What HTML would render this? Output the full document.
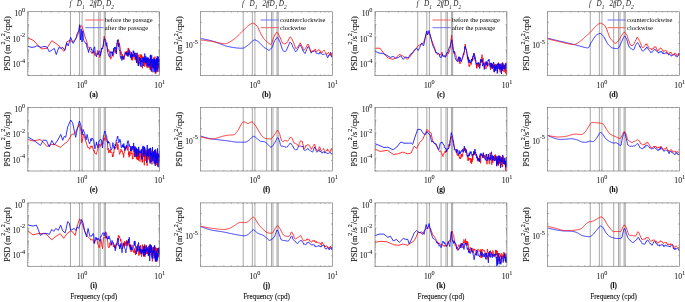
<!DOCTYPE html>
<html><head><meta charset="utf-8"><style>
html,body{margin:0;padding:0;background:#fff;}
svg{display:block;will-change:transform;}
text{font-family:"Liberation Serif",serif;fill:#111;stroke:#111;stroke-width:0.12px;}
.tk{font-size:7.6px;stroke-width:0.05px;}
.sup{font-size:6.2px;}
.sup2{font-size:6px;}
.pl{font-size:7.2px;font-weight:bold;}
.yl{font-size:8.2px;}
.xl{font-size:7.9px;}
.it{font-size:7.2px;font-style:italic;stroke:none;fill:#222;}
.sub{font-size:5.4px;}
.lg{font-size:7.0px;stroke:none;fill:#000;}
</style></head><body>
<svg width="685" height="302" viewBox="0 0 685 302">
<line x1="70.48" y1="11.70" x2="70.48" y2="75.40" stroke="#6e6e6e" stroke-width="0.6"/>
<line x1="79.56" y1="11.70" x2="79.56" y2="75.40" stroke="#6e6e6e" stroke-width="0.6"/>
<line x1="82.11" y1="11.70" x2="82.11" y2="75.40" stroke="#6e6e6e" stroke-width="0.6"/>
<line x1="93.84" y1="11.70" x2="93.84" y2="75.40" stroke="#6e6e6e" stroke-width="0.6"/>
<line x1="98.69" y1="11.70" x2="98.69" y2="75.40" stroke="#6e6e6e" stroke-width="0.6"/>
<line x1="100.16" y1="11.70" x2="100.16" y2="75.40" stroke="#6e6e6e" stroke-width="0.6"/>
<line x1="104.22" y1="11.70" x2="104.22" y2="75.40" stroke="#6e6e6e" stroke-width="0.6"/>
<line x1="105.38" y1="11.70" x2="105.38" y2="75.40" stroke="#6e6e6e" stroke-width="0.6"/>
<clipPath id="cp00"><rect x="27.80" y="11.70" width="131.80" height="63.70"/></clipPath>
<g clip-path="url(#cp00)">
<polyline points="27.80,37.90 32.00,39.70 34.00,40.90 39.90,47.40 41.90,48.90 46.90,48.40 51.80,40.70 55.80,43.40 59.80,46.40 63.70,51.30 65.20,49.80 66.70,41.90 69.70,40.40 72.70,41.90 75.70,38.90 78.60,33.00 80.40,25.90 81.80,25.90 83.10,30.00 85.60,38.90 86.00,39.48 86.89,42.28 87.60,44.90 87.75,47.41 88.59,47.26 89.41,47.75 90.00,50.90 90.22,51.12 91.00,52.04 91.76,53.44 92.00,52.80 92.51,52.04 93.25,53.40 93.96,52.07 94.00,50.90 94.66,55.38 95.35,55.73 95.50,54.80 96.03,54.21 96.69,54.08 97.33,52.16 97.40,50.40 97.97,51.01 98.59,54.10 98.90,53.80 99.21,53.88 99.81,57.66 99.90,56.30 100.40,53.72 100.98,52.15 101.40,49.90 101.55,48.51 102.11,48.32 102.66,48.64 102.90,45.90 103.21,46.31 103.74,40.65 104.27,36.09 104.40,37.40 104.79,39.24 105.30,39.22 105.80,40.29 105.90,41.90 106.29,44.83 106.78,44.91 107.26,50.12 107.40,49.90 107.74,52.04 108.21,50.92 108.67,49.48 109.12,50.53 109.40,51.30 109.57,54.48 110.02,55.18 110.45,58.78 110.89,59.29 110.90,58.80 111.31,57.98 111.73,56.85 112.15,55.57 112.30,54.80 112.56,55.24 112.97,55.94 113.37,56.45 113.76,54.08 113.80,53.80 114.15,52.10 114.54,52.03 114.92,51.39 115.30,49.29 115.68,52.14 115.80,52.80 116.05,50.03 116.41,52.44 116.78,47.21 117.13,43.12 117.49,43.97 117.84,41.94 118.19,41.60 118.30,39.40 118.53,41.05 118.87,45.41 119.21,42.84 119.54,45.15 119.80,45.90 119.87,45.78 120.20,48.06 120.52,48.42 120.80,53.80 120.84,54.41 121.16,51.63 121.48,55.30 121.79,56.69 122.10,57.37 122.40,54.29 122.71,58.64 122.80,57.80 123.01,56.43 123.31,57.61 123.60,56.06 123.89,59.80 124.18,55.41 124.47,54.86 124.76,55.38 124.80,54.80 125.04,51.69 125.32,52.43 125.60,52.65 125.88,53.21 126.15,51.75 126.42,55.24 126.69,55.84 126.70,51.30 126.96,54.08 127.22,50.79 127.49,50.97 127.75,53.13 128.01,52.76 128.20,47.90 128.27,50.45 128.52,48.61 128.77,52.42 129.03,53.23 129.27,52.78 129.52,53.03 129.70,53.80 129.77,51.28 130.01,50.96 130.25,51.69 130.50,55.41 130.73,56.37 130.97,55.04 131.21,56.12 131.44,60.10 131.67,55.92 131.70,57.80 131.90,56.31 132.13,54.48 132.36,60.38 132.59,56.45 132.81,59.15 133.03,58.05 133.26,54.62 133.48,56.35 133.70,55.54 133.70,54.80 134.50,53.03 134.75,56.55 134.99,59.70 135.24,55.78 135.48,53.01 135.72,55.54 135.96,57.98 136.20,60.87 136.43,54.48 136.66,53.15 136.90,58.21 137.13,59.06 137.36,63.22 137.58,62.27 137.81,58.34 138.03,57.03 138.26,66.02 138.48,58.70 138.70,55.87 138.92,54.44 139.13,57.40 139.35,58.46 139.56,57.31 139.78,57.93 139.99,59.21 140.20,61.04 140.41,63.11 140.62,60.45 140.82,54.35 141.03,59.80 141.23,55.21 141.43,57.50 141.64,54.77 141.84,57.98 142.04,56.70 142.23,59.34 142.43,68.31 142.63,61.28 142.82,62.99 143.01,56.54 143.21,58.04 143.40,61.60 143.59,60.03 143.78,61.25 143.97,60.71 144.15,57.29 144.34,61.30 144.52,58.05 144.71,66.72 144.89,60.16 145.07,62.81 145.25,61.11 145.43,64.16 145.61,59.51 145.79,63.94 145.97,61.08 146.14,65.55 146.32,64.24 146.49,62.18 146.67,58.78 146.84,63.07 147.01,63.20 147.18,68.05 147.35,61.35 147.52,63.18 147.69,63.52 147.86,62.81 148.02,62.40 148.19,62.24 148.36,59.66 148.52,57.93 148.68,59.29 148.85,62.99 149.01,67.86 149.17,66.90 149.33,67.02 149.49,65.93 149.65,65.38 149.81,63.30 149.96,65.07 150.12,69.95 150.28,62.49 150.43,59.82 150.59,69.20 150.74,64.57 150.89,66.44 151.04,66.55 151.20,59.42 151.35,70.83 151.50,71.90 151.65,65.06 151.80,65.87 151.94,63.65 152.09,59.80 152.24,61.36 152.39,63.53 152.53,67.14 152.68,66.41 152.82,63.71 152.96,68.34 153.11,61.28 153.25,65.30 153.39,67.82 153.53,62.87 153.67,57.48 153.82,58.61 153.95,62.53 154.09,64.80 154.23,69.85 154.37,61.01 154.51,62.52 154.64,65.39 154.78,63.09 154.92,56.57 155.05,64.03 155.19,73.53 155.32,69.83 155.45,61.50 155.59,61.45 155.72,63.67 155.85,73.58 155.98,68.25 156.12,65.02 156.25,70.45 156.38,64.79 156.51,71.91 156.63,62.89 156.76,61.81 156.89,65.95 157.02,70.28 157.15,67.95 157.27,65.95 157.40,58.56 157.52,60.09 157.65,60.84 157.77,61.30 157.90,65.46 158.02,63.12 158.14,66.88 158.27,65.05 158.39,63.11 158.51,64.30 158.63,65.85 158.76,68.09 158.88,63.35 159.00,63.18 159.12,59.60 159.24,69.48 159.35,71.98 159.47,65.37 159.59,62.91" fill="none" stroke="#ff0000" stroke-width="0.8" stroke-linejoin="round"/>
<polyline points="27.80,46.40 32.00,47.40 35.00,46.90 36.90,45.70 40.90,47.40 43.90,46.40 46.90,46.90 49.30,51.80 52.30,49.80 54.30,48.40 56.30,54.60 58.80,47.40 60.80,48.40 62.70,47.40 64.70,50.30 66.70,42.90 68.20,45.90 70.70,37.40 73.20,43.40 75.70,38.90 77.10,34.00 78.60,31.00 79.70,24.70 80.40,40.00 81.20,29.00 82.00,42.00 82.80,31.00 83.50,40.00 84.60,41.90 86.00,43.73 86.10,42.90 86.89,46.79 87.75,49.25 88.59,52.57 88.60,50.80 89.41,48.30 90.00,47.40 90.22,46.93 91.00,47.76 91.50,49.90 91.76,49.10 92.51,53.03 93.00,52.80 93.25,52.48 93.96,48.04 94.50,46.90 94.66,46.79 95.35,54.04 95.50,53.80 96.03,54.19 96.50,56.80 96.69,55.36 97.33,54.89 97.90,52.80 97.97,54.49 98.59,54.05 99.21,50.89 99.40,50.90 99.81,51.10 100.40,53.91 100.40,55.80 100.98,52.96 101.55,50.09 101.90,47.90 102.11,49.12 102.66,47.44 103.21,46.32 103.40,43.90 103.74,41.49 104.27,38.75 104.70,38.90 104.79,38.91 105.30,41.97 105.80,42.46 105.90,43.90 106.29,46.08 106.78,42.63 106.90,44.90 107.26,47.19 107.74,50.00 107.90,52.80 108.21,53.97 108.67,55.70 109.12,55.72 109.40,56.80 109.57,56.83 110.02,57.29 110.45,53.27 110.89,51.44 110.90,52.80 111.31,51.78 111.73,53.58 112.15,53.60 112.30,55.80 112.56,51.74 112.97,54.42 113.37,50.93 113.76,48.17 113.80,51.80 114.15,50.65 114.54,47.15 114.92,48.45 115.30,46.90 115.30,48.73 115.68,47.97 116.05,49.57 116.30,53.80 116.41,53.97 116.78,46.24 117.13,42.68 117.49,39.89 117.60,40.90 117.84,40.17 118.19,45.57 118.53,45.55 118.80,46.90 118.87,43.76 119.21,49.95 119.54,50.52 119.80,49.90 119.87,50.30 120.20,55.82 120.52,57.09 120.80,56.80 120.84,58.61 121.16,56.31 121.48,57.22 121.79,60.52 122.10,59.83 122.40,58.28 122.71,56.10 122.80,58.80 123.01,58.74 123.31,58.21 123.60,59.19 123.89,58.35 124.18,58.06 124.30,55.80 124.47,55.93 124.76,55.69 125.04,53.55 125.32,54.18 125.60,53.93 125.70,52.80 125.88,53.96 126.15,52.12 126.42,54.34 126.69,53.97 126.96,52.46 127.20,54.80 127.22,54.42 127.49,55.60 127.75,53.37 128.01,56.68 128.27,54.63 128.52,55.40 128.70,52.80 128.77,54.72 129.03,50.31 129.27,49.60 129.52,54.47 129.77,54.04 130.01,54.12 130.25,56.67 130.50,57.22 130.70,56.80 130.73,57.42 130.97,54.58 131.21,58.45 131.44,52.10 131.67,56.63 131.90,54.14 132.13,56.12 132.36,54.68 132.59,54.62 132.70,53.80 132.81,57.08 133.03,53.69 133.26,50.61 133.48,53.03 133.70,51.16 133.91,53.77 134.13,54.36 134.20,56.80 134.80,52.60 135.05,56.11 135.29,55.67 135.53,55.07 135.77,59.37 136.01,57.66 136.25,56.31 136.48,62.95 136.71,56.91 136.95,53.68 137.18,52.78 137.40,54.66 137.63,58.74 137.86,60.63 138.08,62.22 138.30,65.50 138.53,65.91 138.74,61.97 138.96,63.69 139.18,61.67 139.40,57.28 139.61,60.78 139.82,59.18 140.03,58.01 140.24,65.70 140.45,63.04 140.66,58.19 140.87,58.42 141.07,67.10 141.28,59.95 141.48,61.81 141.68,61.93 141.88,61.63 142.08,61.89 142.28,58.39 142.47,57.71 142.67,58.52 142.86,58.16 143.06,62.03 143.25,66.08 143.44,58.28 143.63,61.29 143.82,57.17 144.01,57.13 144.19,58.52 144.38,60.05 144.56,58.73 144.75,53.55 144.93,63.04 145.11,60.08 145.29,58.28 145.47,62.23 145.65,58.93 145.83,55.88 146.01,60.90 146.18,62.15 146.36,58.33 146.53,63.04 146.70,62.63 146.88,57.59 147.05,66.52 147.22,63.15 147.39,57.77 147.56,61.65 147.73,61.58 147.89,64.77 148.06,57.55 148.23,63.89 148.39,65.38 148.55,64.80 148.72,64.36 148.88,67.17 149.04,65.43 149.20,62.76 149.36,58.90 149.52,64.86 149.68,66.07 149.84,63.67 150.00,62.58 150.15,64.51 150.31,55.26 150.46,60.85 150.62,54.72 150.77,60.45 150.92,65.40 151.08,70.57 151.23,62.00 151.38,63.45 151.53,61.99 151.68,55.27 151.83,62.54 151.98,62.04 152.12,62.24 152.27,58.91 152.42,61.08 152.56,62.12 152.71,67.19 152.85,64.46 153.00,72.31 153.14,62.89 153.28,61.46 153.42,61.89 153.56,59.45 153.70,67.55 153.85,66.18 153.98,58.94 154.12,61.90 154.26,66.89 154.40,58.68 154.54,62.04 154.67,61.59 154.81,71.81 154.95,66.40 155.08,62.05 155.22,60.57 155.35,70.00 155.48,62.65 155.62,72.37 155.75,59.37 155.88,61.26 156.01,61.62 156.14,60.15 156.27,61.47 156.40,65.28 156.53,61.15 156.66,57.88 156.79,66.90 156.92,70.32 157.05,62.16 157.17,64.08 157.30,56.15 157.42,65.08 157.55,59.10 157.68,60.25 157.80,71.76 157.92,60.58 158.05,62.72 158.17,59.53 158.29,56.65 158.42,57.83 158.54,62.91 158.66,58.91 158.78,60.26 158.90,65.53 159.02,63.46 159.14,59.08 159.26,68.51 159.38,65.31 159.50,70.15" fill="none" stroke="#0000ff" stroke-width="0.8" stroke-linejoin="round"/>
</g>
<rect x="27.80" y="11.70" width="131.80" height="63.70" fill="none" stroke="#7a7a7a" stroke-width="0.7"/>
<line x1="27.80" y1="75.40" x2="27.80" y2="74.50" stroke="#7a7a7a" stroke-width="0.6"/>
<line x1="27.80" y1="11.70" x2="27.80" y2="12.60" stroke="#7a7a7a" stroke-width="0.6"/>
<line x1="41.46" y1="75.40" x2="41.46" y2="74.50" stroke="#7a7a7a" stroke-width="0.6"/>
<line x1="41.46" y1="11.70" x2="41.46" y2="12.60" stroke="#7a7a7a" stroke-width="0.6"/>
<line x1="51.15" y1="75.40" x2="51.15" y2="74.50" stroke="#7a7a7a" stroke-width="0.6"/>
<line x1="51.15" y1="11.70" x2="51.15" y2="12.60" stroke="#7a7a7a" stroke-width="0.6"/>
<line x1="58.67" y1="75.40" x2="58.67" y2="74.50" stroke="#7a7a7a" stroke-width="0.6"/>
<line x1="58.67" y1="11.70" x2="58.67" y2="12.60" stroke="#7a7a7a" stroke-width="0.6"/>
<line x1="64.81" y1="75.40" x2="64.81" y2="74.50" stroke="#7a7a7a" stroke-width="0.6"/>
<line x1="64.81" y1="11.70" x2="64.81" y2="12.60" stroke="#7a7a7a" stroke-width="0.6"/>
<line x1="70.01" y1="75.40" x2="70.01" y2="74.50" stroke="#7a7a7a" stroke-width="0.6"/>
<line x1="70.01" y1="11.70" x2="70.01" y2="12.60" stroke="#7a7a7a" stroke-width="0.6"/>
<line x1="74.51" y1="75.40" x2="74.51" y2="74.50" stroke="#7a7a7a" stroke-width="0.6"/>
<line x1="74.51" y1="11.70" x2="74.51" y2="12.60" stroke="#7a7a7a" stroke-width="0.6"/>
<line x1="78.47" y1="75.40" x2="78.47" y2="74.50" stroke="#7a7a7a" stroke-width="0.6"/>
<line x1="78.47" y1="11.70" x2="78.47" y2="12.60" stroke="#7a7a7a" stroke-width="0.6"/>
<line x1="82.02" y1="75.40" x2="82.02" y2="73.96" stroke="#7a7a7a" stroke-width="0.6"/>
<line x1="82.02" y1="11.70" x2="82.02" y2="13.14" stroke="#7a7a7a" stroke-width="0.6"/>
<line x1="105.38" y1="75.40" x2="105.38" y2="74.50" stroke="#7a7a7a" stroke-width="0.6"/>
<line x1="105.38" y1="11.70" x2="105.38" y2="12.60" stroke="#7a7a7a" stroke-width="0.6"/>
<line x1="119.04" y1="75.40" x2="119.04" y2="74.50" stroke="#7a7a7a" stroke-width="0.6"/>
<line x1="119.04" y1="11.70" x2="119.04" y2="12.60" stroke="#7a7a7a" stroke-width="0.6"/>
<line x1="128.73" y1="75.40" x2="128.73" y2="74.50" stroke="#7a7a7a" stroke-width="0.6"/>
<line x1="128.73" y1="11.70" x2="128.73" y2="12.60" stroke="#7a7a7a" stroke-width="0.6"/>
<line x1="136.25" y1="75.40" x2="136.25" y2="74.50" stroke="#7a7a7a" stroke-width="0.6"/>
<line x1="136.25" y1="11.70" x2="136.25" y2="12.60" stroke="#7a7a7a" stroke-width="0.6"/>
<line x1="142.39" y1="75.40" x2="142.39" y2="74.50" stroke="#7a7a7a" stroke-width="0.6"/>
<line x1="142.39" y1="11.70" x2="142.39" y2="12.60" stroke="#7a7a7a" stroke-width="0.6"/>
<line x1="147.58" y1="75.40" x2="147.58" y2="74.50" stroke="#7a7a7a" stroke-width="0.6"/>
<line x1="147.58" y1="11.70" x2="147.58" y2="12.60" stroke="#7a7a7a" stroke-width="0.6"/>
<line x1="152.08" y1="75.40" x2="152.08" y2="74.50" stroke="#7a7a7a" stroke-width="0.6"/>
<line x1="152.08" y1="11.70" x2="152.08" y2="12.60" stroke="#7a7a7a" stroke-width="0.6"/>
<line x1="156.05" y1="75.40" x2="156.05" y2="74.50" stroke="#7a7a7a" stroke-width="0.6"/>
<line x1="156.05" y1="11.70" x2="156.05" y2="12.60" stroke="#7a7a7a" stroke-width="0.6"/>
<line x1="27.80" y1="75.40" x2="29.24" y2="75.40" stroke="#7a7a7a" stroke-width="0.6"/>
<line x1="159.60" y1="75.40" x2="158.16" y2="75.40" stroke="#7a7a7a" stroke-width="0.6"/>
<line x1="27.80" y1="71.56" x2="28.70" y2="71.56" stroke="#7a7a7a" stroke-width="0.6"/>
<line x1="159.60" y1="71.56" x2="158.70" y2="71.56" stroke="#7a7a7a" stroke-width="0.6"/>
<line x1="27.80" y1="69.32" x2="28.70" y2="69.32" stroke="#7a7a7a" stroke-width="0.6"/>
<line x1="159.60" y1="69.32" x2="158.70" y2="69.32" stroke="#7a7a7a" stroke-width="0.6"/>
<line x1="27.80" y1="67.73" x2="28.70" y2="67.73" stroke="#7a7a7a" stroke-width="0.6"/>
<line x1="159.60" y1="67.73" x2="158.70" y2="67.73" stroke="#7a7a7a" stroke-width="0.6"/>
<line x1="27.80" y1="66.50" x2="28.70" y2="66.50" stroke="#7a7a7a" stroke-width="0.6"/>
<line x1="159.60" y1="66.50" x2="158.70" y2="66.50" stroke="#7a7a7a" stroke-width="0.6"/>
<line x1="27.80" y1="65.49" x2="28.70" y2="65.49" stroke="#7a7a7a" stroke-width="0.6"/>
<line x1="159.60" y1="65.49" x2="158.70" y2="65.49" stroke="#7a7a7a" stroke-width="0.6"/>
<line x1="27.80" y1="64.63" x2="28.70" y2="64.63" stroke="#7a7a7a" stroke-width="0.6"/>
<line x1="159.60" y1="64.63" x2="158.70" y2="64.63" stroke="#7a7a7a" stroke-width="0.6"/>
<line x1="27.80" y1="63.89" x2="28.70" y2="63.89" stroke="#7a7a7a" stroke-width="0.6"/>
<line x1="159.60" y1="63.89" x2="158.70" y2="63.89" stroke="#7a7a7a" stroke-width="0.6"/>
<line x1="27.80" y1="63.24" x2="28.70" y2="63.24" stroke="#7a7a7a" stroke-width="0.6"/>
<line x1="159.60" y1="63.24" x2="158.70" y2="63.24" stroke="#7a7a7a" stroke-width="0.6"/>
<line x1="27.80" y1="62.66" x2="29.24" y2="62.66" stroke="#7a7a7a" stroke-width="0.6"/>
<line x1="159.60" y1="62.66" x2="158.16" y2="62.66" stroke="#7a7a7a" stroke-width="0.6"/>
<line x1="27.80" y1="58.82" x2="28.70" y2="58.82" stroke="#7a7a7a" stroke-width="0.6"/>
<line x1="159.60" y1="58.82" x2="158.70" y2="58.82" stroke="#7a7a7a" stroke-width="0.6"/>
<line x1="27.80" y1="56.58" x2="28.70" y2="56.58" stroke="#7a7a7a" stroke-width="0.6"/>
<line x1="159.60" y1="56.58" x2="158.70" y2="56.58" stroke="#7a7a7a" stroke-width="0.6"/>
<line x1="27.80" y1="54.99" x2="28.70" y2="54.99" stroke="#7a7a7a" stroke-width="0.6"/>
<line x1="159.60" y1="54.99" x2="158.70" y2="54.99" stroke="#7a7a7a" stroke-width="0.6"/>
<line x1="27.80" y1="53.76" x2="28.70" y2="53.76" stroke="#7a7a7a" stroke-width="0.6"/>
<line x1="159.60" y1="53.76" x2="158.70" y2="53.76" stroke="#7a7a7a" stroke-width="0.6"/>
<line x1="27.80" y1="52.75" x2="28.70" y2="52.75" stroke="#7a7a7a" stroke-width="0.6"/>
<line x1="159.60" y1="52.75" x2="158.70" y2="52.75" stroke="#7a7a7a" stroke-width="0.6"/>
<line x1="27.80" y1="51.89" x2="28.70" y2="51.89" stroke="#7a7a7a" stroke-width="0.6"/>
<line x1="159.60" y1="51.89" x2="158.70" y2="51.89" stroke="#7a7a7a" stroke-width="0.6"/>
<line x1="27.80" y1="51.15" x2="28.70" y2="51.15" stroke="#7a7a7a" stroke-width="0.6"/>
<line x1="159.60" y1="51.15" x2="158.70" y2="51.15" stroke="#7a7a7a" stroke-width="0.6"/>
<line x1="27.80" y1="50.50" x2="28.70" y2="50.50" stroke="#7a7a7a" stroke-width="0.6"/>
<line x1="159.60" y1="50.50" x2="158.70" y2="50.50" stroke="#7a7a7a" stroke-width="0.6"/>
<line x1="27.80" y1="49.92" x2="29.24" y2="49.92" stroke="#7a7a7a" stroke-width="0.6"/>
<line x1="159.60" y1="49.92" x2="158.16" y2="49.92" stroke="#7a7a7a" stroke-width="0.6"/>
<line x1="27.80" y1="46.08" x2="28.70" y2="46.08" stroke="#7a7a7a" stroke-width="0.6"/>
<line x1="159.60" y1="46.08" x2="158.70" y2="46.08" stroke="#7a7a7a" stroke-width="0.6"/>
<line x1="27.80" y1="43.84" x2="28.70" y2="43.84" stroke="#7a7a7a" stroke-width="0.6"/>
<line x1="159.60" y1="43.84" x2="158.70" y2="43.84" stroke="#7a7a7a" stroke-width="0.6"/>
<line x1="27.80" y1="42.25" x2="28.70" y2="42.25" stroke="#7a7a7a" stroke-width="0.6"/>
<line x1="159.60" y1="42.25" x2="158.70" y2="42.25" stroke="#7a7a7a" stroke-width="0.6"/>
<line x1="27.80" y1="41.02" x2="28.70" y2="41.02" stroke="#7a7a7a" stroke-width="0.6"/>
<line x1="159.60" y1="41.02" x2="158.70" y2="41.02" stroke="#7a7a7a" stroke-width="0.6"/>
<line x1="27.80" y1="40.01" x2="28.70" y2="40.01" stroke="#7a7a7a" stroke-width="0.6"/>
<line x1="159.60" y1="40.01" x2="158.70" y2="40.01" stroke="#7a7a7a" stroke-width="0.6"/>
<line x1="27.80" y1="39.15" x2="28.70" y2="39.15" stroke="#7a7a7a" stroke-width="0.6"/>
<line x1="159.60" y1="39.15" x2="158.70" y2="39.15" stroke="#7a7a7a" stroke-width="0.6"/>
<line x1="27.80" y1="38.41" x2="28.70" y2="38.41" stroke="#7a7a7a" stroke-width="0.6"/>
<line x1="159.60" y1="38.41" x2="158.70" y2="38.41" stroke="#7a7a7a" stroke-width="0.6"/>
<line x1="27.80" y1="37.76" x2="28.70" y2="37.76" stroke="#7a7a7a" stroke-width="0.6"/>
<line x1="159.60" y1="37.76" x2="158.70" y2="37.76" stroke="#7a7a7a" stroke-width="0.6"/>
<line x1="27.80" y1="37.18" x2="29.24" y2="37.18" stroke="#7a7a7a" stroke-width="0.6"/>
<line x1="159.60" y1="37.18" x2="158.16" y2="37.18" stroke="#7a7a7a" stroke-width="0.6"/>
<line x1="27.80" y1="33.34" x2="28.70" y2="33.34" stroke="#7a7a7a" stroke-width="0.6"/>
<line x1="159.60" y1="33.34" x2="158.70" y2="33.34" stroke="#7a7a7a" stroke-width="0.6"/>
<line x1="27.80" y1="31.10" x2="28.70" y2="31.10" stroke="#7a7a7a" stroke-width="0.6"/>
<line x1="159.60" y1="31.10" x2="158.70" y2="31.10" stroke="#7a7a7a" stroke-width="0.6"/>
<line x1="27.80" y1="29.51" x2="28.70" y2="29.51" stroke="#7a7a7a" stroke-width="0.6"/>
<line x1="159.60" y1="29.51" x2="158.70" y2="29.51" stroke="#7a7a7a" stroke-width="0.6"/>
<line x1="27.80" y1="28.28" x2="28.70" y2="28.28" stroke="#7a7a7a" stroke-width="0.6"/>
<line x1="159.60" y1="28.28" x2="158.70" y2="28.28" stroke="#7a7a7a" stroke-width="0.6"/>
<line x1="27.80" y1="27.27" x2="28.70" y2="27.27" stroke="#7a7a7a" stroke-width="0.6"/>
<line x1="159.60" y1="27.27" x2="158.70" y2="27.27" stroke="#7a7a7a" stroke-width="0.6"/>
<line x1="27.80" y1="26.41" x2="28.70" y2="26.41" stroke="#7a7a7a" stroke-width="0.6"/>
<line x1="159.60" y1="26.41" x2="158.70" y2="26.41" stroke="#7a7a7a" stroke-width="0.6"/>
<line x1="27.80" y1="25.67" x2="28.70" y2="25.67" stroke="#7a7a7a" stroke-width="0.6"/>
<line x1="159.60" y1="25.67" x2="158.70" y2="25.67" stroke="#7a7a7a" stroke-width="0.6"/>
<line x1="27.80" y1="25.02" x2="28.70" y2="25.02" stroke="#7a7a7a" stroke-width="0.6"/>
<line x1="159.60" y1="25.02" x2="158.70" y2="25.02" stroke="#7a7a7a" stroke-width="0.6"/>
<line x1="27.80" y1="24.44" x2="29.24" y2="24.44" stroke="#7a7a7a" stroke-width="0.6"/>
<line x1="159.60" y1="24.44" x2="158.16" y2="24.44" stroke="#7a7a7a" stroke-width="0.6"/>
<line x1="27.80" y1="20.60" x2="28.70" y2="20.60" stroke="#7a7a7a" stroke-width="0.6"/>
<line x1="159.60" y1="20.60" x2="158.70" y2="20.60" stroke="#7a7a7a" stroke-width="0.6"/>
<line x1="27.80" y1="18.36" x2="28.70" y2="18.36" stroke="#7a7a7a" stroke-width="0.6"/>
<line x1="159.60" y1="18.36" x2="158.70" y2="18.36" stroke="#7a7a7a" stroke-width="0.6"/>
<line x1="27.80" y1="16.77" x2="28.70" y2="16.77" stroke="#7a7a7a" stroke-width="0.6"/>
<line x1="159.60" y1="16.77" x2="158.70" y2="16.77" stroke="#7a7a7a" stroke-width="0.6"/>
<line x1="27.80" y1="15.54" x2="28.70" y2="15.54" stroke="#7a7a7a" stroke-width="0.6"/>
<line x1="159.60" y1="15.54" x2="158.70" y2="15.54" stroke="#7a7a7a" stroke-width="0.6"/>
<line x1="27.80" y1="14.53" x2="28.70" y2="14.53" stroke="#7a7a7a" stroke-width="0.6"/>
<line x1="159.60" y1="14.53" x2="158.70" y2="14.53" stroke="#7a7a7a" stroke-width="0.6"/>
<line x1="27.80" y1="13.67" x2="28.70" y2="13.67" stroke="#7a7a7a" stroke-width="0.6"/>
<line x1="159.60" y1="13.67" x2="158.70" y2="13.67" stroke="#7a7a7a" stroke-width="0.6"/>
<line x1="27.80" y1="12.93" x2="28.70" y2="12.93" stroke="#7a7a7a" stroke-width="0.6"/>
<line x1="159.60" y1="12.93" x2="158.70" y2="12.93" stroke="#7a7a7a" stroke-width="0.6"/>
<line x1="27.80" y1="12.28" x2="28.70" y2="12.28" stroke="#7a7a7a" stroke-width="0.6"/>
<line x1="159.60" y1="12.28" x2="158.70" y2="12.28" stroke="#7a7a7a" stroke-width="0.6"/>
<text x="25.20" y="16.30" text-anchor="end" class="tk">10<tspan class="sup" dy="-4.5">0</tspan></text>
<text x="25.20" y="41.78" text-anchor="end" class="tk">10<tspan class="sup" dy="-4.5">-2</tspan></text>
<text x="25.20" y="67.26" text-anchor="end" class="tk">10<tspan class="sup" dy="-4.5">-4</tspan></text>
<text x="82.12" y="87.70" text-anchor="middle" class="tk">10<tspan class="sup" dy="-4.0">0</tspan></text>
<text x="159.70" y="87.70" text-anchor="middle" class="tk">10<tspan class="sup" dy="-4.0">1</tspan></text>
<text x="93.70" y="96.70" text-anchor="middle" class="pl">(a)</text>
<text transform="translate(9.50,43.55) rotate(-90)" text-anchor="middle" class="yl">PSD (m<tspan class="sup2" dy="-4.4">2</tspan><tspan dy="4.4">/s</tspan><tspan class="sup2" dy="-4.4">2</tspan><tspan dy="4.4">/cpd)</tspan></text>
<text x="69.40" y="5.8" class="it">f</text>
<text x="76.80" y="5.8" class="it">D<tspan class="sub" dy="3.4">1</tspan></text>
<text x="89.70" y="5.8" class="it">2f</text>
<text x="94.80" y="5.8" class="it">fD<tspan class="sub" dy="3.4">1</tspan></text>
<text x="106.10" y="5.8" class="it">D<tspan class="sub" dy="3.4">2</tspan></text>
<line x1="85.30" y1="20.00" x2="103.50" y2="20.00" stroke="#f05a5a" stroke-width="0.95"/>
<text transform="translate(104.70,22.20) scale(0.93,1)" class="lg">before the passage</text>
<line x1="85.30" y1="27.70" x2="103.50" y2="27.70" stroke="#6c6cf2" stroke-width="0.95"/>
<text transform="translate(104.70,29.90) scale(0.93,1)" class="lg">after the passage</text>
<line x1="243.25" y1="11.70" x2="243.25" y2="75.40" stroke="#6e6e6e" stroke-width="0.6"/>
<line x1="252.34" y1="11.70" x2="252.34" y2="75.40" stroke="#6e6e6e" stroke-width="0.6"/>
<line x1="254.90" y1="11.70" x2="254.90" y2="75.40" stroke="#6e6e6e" stroke-width="0.6"/>
<line x1="266.64" y1="11.70" x2="266.64" y2="75.40" stroke="#6e6e6e" stroke-width="0.6"/>
<line x1="271.50" y1="11.70" x2="271.50" y2="75.40" stroke="#6e6e6e" stroke-width="0.6"/>
<line x1="272.97" y1="11.70" x2="272.97" y2="75.40" stroke="#6e6e6e" stroke-width="0.6"/>
<line x1="277.03" y1="11.70" x2="277.03" y2="75.40" stroke="#6e6e6e" stroke-width="0.6"/>
<line x1="278.19" y1="11.70" x2="278.19" y2="75.40" stroke="#6e6e6e" stroke-width="0.6"/>
<clipPath id="cp01"><rect x="200.50" y="11.70" width="132.00" height="63.70"/></clipPath>
<g clip-path="url(#cp01)">
<polyline points="200.50,38.40 200.69,38.44 200.92,38.49 201.20,38.55 201.53,38.61 201.90,38.69 202.30,38.77 202.73,38.86 203.20,38.95 203.69,39.05 204.20,39.15 204.72,39.26 205.27,39.37 205.82,39.49 206.38,39.60 206.94,39.72 207.50,39.84 208.06,39.96 208.61,40.09 209.15,40.21 209.67,40.33 210.18,40.45 210.66,40.56 211.12,40.68 211.55,40.79 211.94,40.90 212.30,41.00 212.62,41.10 212.97,41.21 213.35,41.34 213.76,41.48 214.20,41.64 214.65,41.80 215.13,41.98 215.62,42.16 216.13,42.35 216.65,42.55 217.18,42.75 217.72,42.96 218.26,43.17 218.80,43.38 219.35,43.59 219.89,43.80 220.43,44.01 220.96,44.21 221.48,44.41 221.99,44.61 222.48,44.79 222.96,44.97 223.41,45.14 223.85,45.30 224.26,45.45 224.64,45.58 224.99,45.70 225.31,45.81 225.60,45.90 226.02,46.02 226.47,46.15 226.94,46.27 227.42,46.39 227.92,46.50 228.43,46.62 228.94,46.73 229.47,46.84 229.99,46.95 230.51,47.05 231.02,47.14 231.52,47.23 232.01,47.32 232.49,47.40 232.94,47.48 233.37,47.54 233.78,47.60 234.16,47.66 234.50,47.70 234.85,47.74 235.24,47.79 235.68,47.84 236.14,47.89 236.64,47.94 237.15,47.99 237.68,48.04 238.22,48.08 238.77,48.12 239.32,48.16 239.86,48.19 240.39,48.21 240.90,48.23 241.39,48.24 241.85,48.23 242.28,48.22 242.66,48.19 243.01,48.15 243.30,48.10 243.74,47.96 244.21,47.76 244.70,47.49 245.21,47.18 245.73,46.84 246.24,46.46 246.75,46.08 247.25,45.70 247.71,45.33 248.15,44.98 248.55,44.67 248.90,44.40 249.26,44.12 249.68,43.75 250.14,43.33 250.64,42.87 251.17,42.38 251.70,41.89 252.23,41.41 252.74,40.97 253.23,40.58 253.68,40.26 254.07,40.02 254.40,39.90 254.82,39.88 255.30,39.98 255.83,40.18 256.37,40.45 256.93,40.78 257.47,41.14 258.00,41.51 258.48,41.87 258.90,42.20 259.24,42.49 259.65,42.87 260.14,43.34 260.66,43.87 261.21,44.44 261.78,45.02 262.33,45.60 262.87,46.15 263.36,46.66 263.79,47.10 264.14,47.46 264.40,47.70 265.06,48.14 265.53,48.24 266.00,48.40 266.36,48.65 266.86,49.05 267.44,49.51 268.03,49.93 268.57,50.22 269.00,50.30 269.42,50.12 269.95,49.73 270.53,49.20 271.10,48.58 271.61,47.99 272.00,47.41 272.43,46.46 272.94,45.19 273.46,43.69 273.97,42.35 274.40,41.40 274.80,40.55 275.32,39.95 275.90,38.99 276.48,38.14 277.00,37.74 277.40,37.29 277.84,37.45 278.37,38.61 278.93,39.57 279.46,40.85 279.90,41.82 280.30,42.93 280.81,44.35 281.38,46.24 281.95,48.09 282.48,49.46 282.90,50.60 283.32,50.90 283.85,51.24 284.43,51.44 285.00,51.62 285.51,51.45 285.90,51.03 286.34,50.41 286.87,49.08 287.41,48.04 287.91,46.83 288.30,46.00 288.76,45.17 289.30,43.62 289.84,42.23 290.30,42.22 290.70,42.72 291.22,43.01 291.79,44.19 292.34,45.25 292.80,46.96 293.20,47.47 293.72,48.03 294.30,49.29 294.88,50.58 295.40,51.48 295.80,51.86 296.26,51.16 296.81,50.41 297.38,50.11 297.90,48.61 298.30,48.24 298.76,47.05 299.30,46.09 299.84,45.25 300.30,44.80 300.69,45.83 301.20,46.76 301.76,47.71 302.28,49.01 302.70,50.40 303.12,50.14 303.64,51.68 304.21,52.62 304.75,53.35 305.20,53.38 305.60,51.87 306.11,51.31 306.68,49.33 307.25,48.34 307.78,46.94 308.20,46.78 308.61,46.50 309.12,47.88 309.68,49.40 310.24,50.80 310.76,52.11 311.20,53.13 311.59,51.90 312.09,52.10 312.66,50.85 313.25,51.43 313.81,51.44 314.31,50.46 314.70,50.88 315.13,51.65 315.64,51.58 316.19,52.71 316.73,53.64 317.22,53.52 317.60,53.68 318.04,54.12 318.57,53.63 319.12,54.05 319.65,52.22 320.10,52.21 320.50,52.43 321.02,53.81 321.60,53.90 322.18,54.29 322.70,54.46 323.10,54.52 323.55,54.24 324.09,54.51 324.65,53.93 325.18,53.98 325.60,53.74 326.03,54.25 326.57,54.99 327.14,57.05 327.68,57.76 328.10,57.48 328.52,55.26 329.04,55.87 329.60,55.32 330.11,53.89 330.50,52.35 331.00,53.78 331.61,57.00 332.16,56.76 332.50,56.85" fill="none" stroke="#0000ff" stroke-width="0.8" stroke-linejoin="round"/>
<polyline points="200.50,39.90 200.69,39.92 200.92,39.96 201.20,39.99 201.53,40.04 201.90,40.09 202.30,40.14 202.73,40.20 203.20,40.26 203.69,40.32 204.20,40.39 204.72,40.46 205.27,40.53 205.82,40.60 206.38,40.68 206.94,40.75 207.50,40.83 208.06,40.90 208.61,40.98 209.15,41.05 209.67,41.13 210.18,41.20 210.66,41.26 211.12,41.33 211.55,41.39 211.94,41.45 212.30,41.50 212.62,41.55 212.97,41.61 213.35,41.69 213.76,41.77 214.20,41.85 214.65,41.95 215.13,42.05 215.62,42.15 216.13,42.26 216.65,42.37 217.18,42.49 217.72,42.60 218.26,42.72 218.80,42.83 219.35,42.94 219.89,43.05 220.43,43.15 220.96,43.25 221.48,43.34 221.99,43.42 222.48,43.50 222.96,43.57 223.41,43.62 223.85,43.67 224.26,43.70 224.64,43.73 224.99,43.73 225.31,43.72 225.60,43.70 226.02,43.63 226.47,43.52 226.94,43.36 227.42,43.18 227.92,42.96 228.43,42.72 228.94,42.45 229.47,42.17 229.99,41.87 230.51,41.56 231.02,41.23 231.52,40.91 232.01,40.58 232.49,40.26 232.94,39.94 233.37,39.63 233.78,39.33 234.16,39.06 234.50,38.80 234.85,38.52 235.25,38.19 235.68,37.81 236.15,37.39 236.65,36.93 237.17,36.44 237.71,35.93 238.26,35.40 238.81,34.86 239.36,34.32 239.90,33.78 240.43,33.25 240.95,32.74 241.43,32.25 241.89,31.79 242.31,31.37 242.69,31.00 243.02,30.67 243.30,30.40 243.79,29.93 244.29,29.42 244.80,28.90 245.32,28.37 245.83,27.85 246.33,27.35 246.80,26.88 247.25,26.46 247.65,26.09 248.00,25.80 248.37,25.53 248.81,25.22 249.31,24.90 249.84,24.57 250.38,24.24 250.92,23.94 251.43,23.67 251.89,23.45 252.29,23.29 252.60,23.20 253.08,23.21 253.61,23.36 254.15,23.61 254.67,23.92 255.14,24.23 255.50,24.50 255.92,24.88 256.40,25.40 256.91,26.01 257.39,26.66 257.80,27.30 258.17,28.01 258.64,29.03 259.17,30.20 259.71,31.40 260.20,32.48 260.60,33.30 261.00,34.05 261.51,34.97 262.06,35.95 262.62,36.89 263.11,37.71 263.50,38.30 263.92,38.84 264.40,39.39 264.92,39.93 265.46,40.44 266.00,40.90 266.29,41.15 266.68,41.50 267.14,41.92 267.66,42.38 268.20,42.86 268.76,43.32 269.31,43.73 269.83,44.08 270.30,44.32 270.70,44.44 271.00,44.41 271.49,43.81 272.01,42.59 272.54,41.06 273.05,39.35 273.51,37.85 273.90,36.93 274.32,36.24 274.84,35.10 275.42,33.96 275.99,33.18 276.50,32.63 276.90,32.09 277.34,32.50 277.86,33.01 278.40,34.15 278.93,35.10 279.40,35.94 279.77,36.96 280.25,37.76 280.80,39.04 281.38,40.81 281.95,41.64 282.47,43.17 282.90,43.39 283.29,43.46 283.77,43.77 284.32,43.83 284.90,43.78 285.49,43.57 286.03,43.64 286.52,42.68 286.90,42.78 287.32,42.28 287.82,41.81 288.37,39.79 288.92,38.99 289.45,37.73 289.92,37.06 290.30,37.06 290.74,37.24 291.27,38.22 291.84,38.69 292.40,40.06 292.91,41.38 293.30,42.16 293.76,42.94 294.31,44.93 294.88,45.97 295.40,48.18 295.80,48.45 296.26,48.46 296.80,48.17 297.34,47.74 297.80,47.47 298.21,46.25 298.74,45.26 299.32,44.61 299.87,43.36 300.30,42.81 300.72,44.14 301.24,44.70 301.80,46.46 302.31,46.80 302.70,46.94 303.14,48.59 303.65,49.12 304.19,50.06 304.70,49.61 305.06,49.10 305.54,48.42 306.11,47.02 306.71,46.15 307.29,44.64 307.80,44.79 308.20,44.06 308.63,44.81 309.15,46.62 309.70,48.39 310.25,49.24 310.77,51.96 311.20,51.53 311.60,52.23 312.12,52.01 312.70,51.20 313.30,50.61 313.86,50.83 314.35,49.99 314.70,49.61 315.19,48.89 315.69,50.23 316.18,52.00 316.60,51.90 317.01,51.07 317.55,50.61 318.14,50.06 318.69,49.98 319.10,49.60 319.54,50.38 320.06,50.40 320.59,52.33 321.10,52.03 321.46,52.05 321.96,52.86 322.54,51.54 323.16,50.97 323.74,50.52 324.24,50.14 324.60,51.18 325.12,51.67 325.67,52.44 326.18,53.29 326.60,54.41 327.05,53.60 327.60,53.36 328.16,52.76 328.60,52.35 329.02,53.73 329.55,54.66 330.08,55.23 330.50,53.63 330.97,55.58 331.58,54.10 332.15,52.53 332.50,52.28" fill="none" stroke="#ff0000" stroke-width="0.8" stroke-linejoin="round"/>
</g>
<rect x="200.50" y="11.70" width="132.00" height="63.70" fill="none" stroke="#7a7a7a" stroke-width="0.7"/>
<line x1="200.50" y1="75.40" x2="200.50" y2="74.50" stroke="#7a7a7a" stroke-width="0.6"/>
<line x1="200.50" y1="11.70" x2="200.50" y2="12.60" stroke="#7a7a7a" stroke-width="0.6"/>
<line x1="214.18" y1="75.40" x2="214.18" y2="74.50" stroke="#7a7a7a" stroke-width="0.6"/>
<line x1="214.18" y1="11.70" x2="214.18" y2="12.60" stroke="#7a7a7a" stroke-width="0.6"/>
<line x1="223.89" y1="75.40" x2="223.89" y2="74.50" stroke="#7a7a7a" stroke-width="0.6"/>
<line x1="223.89" y1="11.70" x2="223.89" y2="12.60" stroke="#7a7a7a" stroke-width="0.6"/>
<line x1="231.42" y1="75.40" x2="231.42" y2="74.50" stroke="#7a7a7a" stroke-width="0.6"/>
<line x1="231.42" y1="11.70" x2="231.42" y2="12.60" stroke="#7a7a7a" stroke-width="0.6"/>
<line x1="237.57" y1="75.40" x2="237.57" y2="74.50" stroke="#7a7a7a" stroke-width="0.6"/>
<line x1="237.57" y1="11.70" x2="237.57" y2="12.60" stroke="#7a7a7a" stroke-width="0.6"/>
<line x1="242.77" y1="75.40" x2="242.77" y2="74.50" stroke="#7a7a7a" stroke-width="0.6"/>
<line x1="242.77" y1="11.70" x2="242.77" y2="12.60" stroke="#7a7a7a" stroke-width="0.6"/>
<line x1="247.28" y1="75.40" x2="247.28" y2="74.50" stroke="#7a7a7a" stroke-width="0.6"/>
<line x1="247.28" y1="11.70" x2="247.28" y2="12.60" stroke="#7a7a7a" stroke-width="0.6"/>
<line x1="251.25" y1="75.40" x2="251.25" y2="74.50" stroke="#7a7a7a" stroke-width="0.6"/>
<line x1="251.25" y1="11.70" x2="251.25" y2="12.60" stroke="#7a7a7a" stroke-width="0.6"/>
<line x1="254.81" y1="75.40" x2="254.81" y2="73.96" stroke="#7a7a7a" stroke-width="0.6"/>
<line x1="254.81" y1="11.70" x2="254.81" y2="13.14" stroke="#7a7a7a" stroke-width="0.6"/>
<line x1="278.19" y1="75.40" x2="278.19" y2="74.50" stroke="#7a7a7a" stroke-width="0.6"/>
<line x1="278.19" y1="11.70" x2="278.19" y2="12.60" stroke="#7a7a7a" stroke-width="0.6"/>
<line x1="291.88" y1="75.40" x2="291.88" y2="74.50" stroke="#7a7a7a" stroke-width="0.6"/>
<line x1="291.88" y1="11.70" x2="291.88" y2="12.60" stroke="#7a7a7a" stroke-width="0.6"/>
<line x1="301.58" y1="75.40" x2="301.58" y2="74.50" stroke="#7a7a7a" stroke-width="0.6"/>
<line x1="301.58" y1="11.70" x2="301.58" y2="12.60" stroke="#7a7a7a" stroke-width="0.6"/>
<line x1="309.11" y1="75.40" x2="309.11" y2="74.50" stroke="#7a7a7a" stroke-width="0.6"/>
<line x1="309.11" y1="11.70" x2="309.11" y2="12.60" stroke="#7a7a7a" stroke-width="0.6"/>
<line x1="315.26" y1="75.40" x2="315.26" y2="74.50" stroke="#7a7a7a" stroke-width="0.6"/>
<line x1="315.26" y1="11.70" x2="315.26" y2="12.60" stroke="#7a7a7a" stroke-width="0.6"/>
<line x1="320.47" y1="75.40" x2="320.47" y2="74.50" stroke="#7a7a7a" stroke-width="0.6"/>
<line x1="320.47" y1="11.70" x2="320.47" y2="12.60" stroke="#7a7a7a" stroke-width="0.6"/>
<line x1="324.97" y1="75.40" x2="324.97" y2="74.50" stroke="#7a7a7a" stroke-width="0.6"/>
<line x1="324.97" y1="11.70" x2="324.97" y2="12.60" stroke="#7a7a7a" stroke-width="0.6"/>
<line x1="328.94" y1="75.40" x2="328.94" y2="74.50" stroke="#7a7a7a" stroke-width="0.6"/>
<line x1="328.94" y1="11.70" x2="328.94" y2="12.60" stroke="#7a7a7a" stroke-width="0.6"/>
<line x1="200.50" y1="64.78" x2="201.94" y2="64.78" stroke="#7a7a7a" stroke-width="0.6"/>
<line x1="332.50" y1="64.78" x2="331.06" y2="64.78" stroke="#7a7a7a" stroke-width="0.6"/>
<line x1="200.50" y1="54.17" x2="201.94" y2="54.17" stroke="#7a7a7a" stroke-width="0.6"/>
<line x1="332.50" y1="54.17" x2="331.06" y2="54.17" stroke="#7a7a7a" stroke-width="0.6"/>
<line x1="200.50" y1="43.55" x2="201.94" y2="43.55" stroke="#7a7a7a" stroke-width="0.6"/>
<line x1="332.50" y1="43.55" x2="331.06" y2="43.55" stroke="#7a7a7a" stroke-width="0.6"/>
<line x1="200.50" y1="32.93" x2="201.94" y2="32.93" stroke="#7a7a7a" stroke-width="0.6"/>
<line x1="332.50" y1="32.93" x2="331.06" y2="32.93" stroke="#7a7a7a" stroke-width="0.6"/>
<line x1="200.50" y1="22.32" x2="201.94" y2="22.32" stroke="#7a7a7a" stroke-width="0.6"/>
<line x1="332.50" y1="22.32" x2="331.06" y2="22.32" stroke="#7a7a7a" stroke-width="0.6"/>
<text x="197.90" y="48.15" text-anchor="end" class="tk">10<tspan class="sup" dy="-4.5">-5</tspan></text>
<text x="254.91" y="87.70" text-anchor="middle" class="tk">10<tspan class="sup" dy="-4.0">0</tspan></text>
<text x="332.60" y="87.70" text-anchor="middle" class="tk">10<tspan class="sup" dy="-4.0">1</tspan></text>
<text x="266.50" y="96.70" text-anchor="middle" class="pl">(b)</text>
<text transform="translate(182.20,43.55) rotate(-90)" text-anchor="middle" class="yl">PSD (m<tspan class="sup2" dy="-4.4">2</tspan><tspan dy="4.4">/s</tspan><tspan class="sup2" dy="-4.4">2</tspan><tspan dy="4.4">/cpd)</tspan></text>
<text x="242.10" y="5.8" class="it">f</text>
<text x="249.50" y="5.8" class="it">D<tspan class="sub" dy="3.4">1</tspan></text>
<text x="262.40" y="5.8" class="it">2f</text>
<text x="267.50" y="5.8" class="it">fD<tspan class="sub" dy="3.4">1</tspan></text>
<text x="278.80" y="5.8" class="it">D<tspan class="sub" dy="3.4">2</tspan></text>
<line x1="260.60" y1="20.00" x2="278.80" y2="20.00" stroke="#6c6cf2" stroke-width="0.95"/>
<text transform="translate(280.00,22.20) scale(0.93,1)" class="lg">counterclockwise</text>
<line x1="260.60" y1="27.70" x2="278.80" y2="27.70" stroke="#f05a5a" stroke-width="0.95"/>
<text transform="translate(280.00,29.90) scale(0.93,1)" class="lg">clockwise</text>
<line x1="417.72" y1="11.70" x2="417.72" y2="75.40" stroke="#6e6e6e" stroke-width="0.6"/>
<line x1="426.80" y1="11.70" x2="426.80" y2="75.40" stroke="#6e6e6e" stroke-width="0.6"/>
<line x1="429.36" y1="11.70" x2="429.36" y2="75.40" stroke="#6e6e6e" stroke-width="0.6"/>
<line x1="441.09" y1="11.70" x2="441.09" y2="75.40" stroke="#6e6e6e" stroke-width="0.6"/>
<line x1="445.94" y1="11.70" x2="445.94" y2="75.40" stroke="#6e6e6e" stroke-width="0.6"/>
<line x1="447.41" y1="11.70" x2="447.41" y2="75.40" stroke="#6e6e6e" stroke-width="0.6"/>
<line x1="451.47" y1="11.70" x2="451.47" y2="75.40" stroke="#6e6e6e" stroke-width="0.6"/>
<line x1="452.64" y1="11.70" x2="452.64" y2="75.40" stroke="#6e6e6e" stroke-width="0.6"/>
<clipPath id="cp02"><rect x="375.00" y="11.70" width="131.90" height="63.70"/></clipPath>
<g clip-path="url(#cp02)">
<polyline points="375.00,48.20 380.00,48.20 383.90,53.40 387.90,57.90 392.90,59.40 395.80,57.90 399.30,54.40 402.80,55.90 407.30,59.40 409.70,56.90 412.70,52.90 416.70,48.00 417.70,45.90 420.70,44.40 423.60,42.90 425.60,35.90 427.10,31.50 428.60,32.90 430.10,34.90 431.60,39.90 434.60,47.80 436.00,52.15 436.82,53.29 437.50,54.90 437.62,54.62 438.40,53.32 439.16,54.49 439.91,54.94 440.10,54.60 440.64,54.04 441.35,53.68 442.05,52.14 442.10,53.70 442.74,55.53 443.41,55.82 444.07,55.79 444.20,56.20 444.71,56.66 445.34,56.40 445.97,55.97 446.20,55.70 446.58,54.97 447.18,54.30 447.77,53.91 448.30,52.60 448.35,53.55 448.92,52.52 449.48,50.88 449.80,49.50 450.03,49.17 450.57,44.30 451.10,38.75 451.60,37.20 451.63,35.25 452.14,41.85 452.65,43.10 453.16,47.32 453.40,50.50 453.65,51.01 454.14,53.91 454.40,53.60 454.62,51.77 455.09,53.03 455.56,54.42 456.02,55.49 456.47,57.39 456.50,57.70 456.92,59.03 457.36,59.41 457.80,61.57 458.23,61.77 458.50,59.30 458.66,58.60 459.08,59.18 459.49,62.24 459.60,63.50 459.90,62.34 460.31,63.60 460.71,62.66 461.10,62.17 461.50,60.35 461.60,59.90 461.88,59.83 462.26,58.79 462.64,56.90 463.02,56.87 463.39,53.17 463.70,54.20 463.75,54.87 464.11,52.50 464.47,52.11 464.83,47.10 465.00,45.40 465.18,44.01 465.52,46.45 465.87,48.90 466.21,49.80 466.54,50.52 466.88,53.22 467.21,53.44 467.30,56.30 467.53,58.56 467.86,56.58 468.18,60.56 468.49,63.12 468.81,63.85 469.12,66.57 469.30,65.00 469.43,66.01 469.73,66.32 470.04,63.44 470.34,62.11 470.64,62.83 470.90,64.00 470.93,63.85 471.22,64.62 471.51,60.50 471.80,59.95 472.09,58.94 472.37,60.71 472.65,58.14 472.93,59.81 473.20,57.04 473.40,56.80 473.48,55.44 473.75,55.35 474.02,53.72 474.29,53.08 474.55,55.29 474.81,55.49 475.00,57.30 475.08,60.83 475.33,60.87 475.59,63.08 475.85,63.63 476.10,64.55 476.35,63.91 476.50,67.60 476.60,64.50 476.85,68.53 477.09,65.45 477.34,64.33 477.58,65.74 477.82,63.77 478.00,63.50 478.06,63.02 478.30,67.12 478.53,65.20 478.77,63.58 479.00,63.36 479.23,62.89 479.46,64.88 479.68,65.77 479.91,64.00 480.10,65.00 480.13,64.20 480.36,60.82 480.58,61.73 480.80,62.97 481.02,59.39 481.24,59.49 481.45,57.66 481.67,56.99 481.88,57.55 482.09,54.56 482.10,56.30 482.30,59.13 482.51,61.31 482.72,62.46 482.92,59.67 483.13,58.13 483.33,61.24 483.50,64.00 484.00,65.55 484.40,67.85 484.79,62.79 485.18,61.67 485.56,64.14 485.94,69.03 486.31,66.26 486.68,62.01 487.05,61.96 487.41,63.50 487.77,66.63 488.13,64.87 488.48,63.68 488.82,63.75 489.17,64.78 489.51,62.95 489.85,64.23 490.18,65.29 490.51,69.81 490.84,65.80 491.16,67.87 491.48,63.19 491.80,66.82 492.12,65.93 492.43,64.03 492.74,64.84 493.04,67.66 493.35,65.02 493.65,68.19 493.95,70.83 494.24,71.97 494.54,72.31 494.83,63.81 495.12,66.04 495.40,64.14 495.68,67.98 495.97,66.56 496.24,66.69 496.52,67.46 496.79,64.90 497.07,66.07 497.34,64.42 497.60,72.32 497.87,66.36 498.13,66.44 498.39,62.67 498.65,62.47 498.91,63.57 499.17,67.95 499.42,69.31 499.67,68.19 499.92,65.52 500.17,72.40 500.41,65.45 500.66,64.59 500.90,67.73 501.14,64.85 501.38,67.28 501.62,70.20 501.86,67.80 502.09,68.66 502.32,67.85 502.55,65.86 502.78,62.50 503.01,63.53 503.24,66.42 503.46,63.78 503.68,65.29 503.91,67.70 504.13,72.09 504.35,65.37 504.56,65.98 504.78,68.12 504.99,69.67 505.21,65.13 505.42,73.28 505.63,67.10 505.84,71.36 506.05,68.48 506.25,69.64 506.46,74.45 506.66,72.19 506.87,69.80" fill="none" stroke="#ff0000" stroke-width="0.8" stroke-linejoin="round"/>
<polyline points="375.00,51.20 379.00,53.10 382.90,53.40 386.90,55.40 390.40,57.40 393.40,56.40 395.80,58.40 398.30,57.40 400.80,55.90 403.30,59.40 405.30,56.90 408.30,57.90 410.70,53.90 412.20,53.40 414.70,49.50 416.70,48.50 418.20,50.50 419.70,47.50 421.70,42.90 423.60,45.90 425.10,38.90 426.60,31.00 427.60,34.90 429.10,30.50 430.60,36.90 432.60,44.90 434.60,49.50 436.00,53.03 436.82,52.39 437.50,53.40 437.62,53.26 438.00,53.20 438.40,53.13 439.16,54.09 439.91,57.14 440.64,57.40 441.10,57.80 441.35,56.67 442.05,54.91 442.10,53.70 442.74,56.25 443.41,56.28 444.07,56.65 444.71,55.44 445.20,56.30 445.34,57.28 445.97,56.16 446.58,53.15 447.18,52.07 447.77,52.42 448.30,51.10 448.35,49.95 448.92,48.32 449.48,46.93 450.00,47.00 450.03,47.32 450.57,44.06 451.10,42.46 451.63,41.41 451.90,39.80 452.14,43.06 452.65,46.79 453.16,50.05 453.40,50.50 453.65,52.34 454.14,51.01 454.62,54.20 455.09,57.44 455.56,59.09 456.00,59.30 456.02,59.04 456.47,60.76 456.92,60.70 457.36,61.44 457.50,61.40 457.80,60.61 458.23,58.89 458.66,57.05 459.00,58.80 459.08,56.55 459.49,57.99 459.90,61.69 460.31,57.50 460.71,59.87 461.10,61.28 461.50,61.49 461.60,59.90 461.88,59.80 462.26,58.74 462.64,57.86 463.02,55.79 463.39,54.57 463.70,54.20 463.75,53.94 464.11,52.11 464.47,50.44 464.83,47.13 465.18,47.79 465.20,46.00 465.52,48.82 465.87,49.09 466.21,48.84 466.54,50.39 466.88,53.23 467.21,55.39 467.30,56.30 467.53,55.70 467.86,59.18 468.18,57.47 468.49,61.98 468.81,59.16 469.12,62.96 469.30,63.00 469.43,61.43 469.73,59.90 470.04,61.61 470.34,61.83 470.64,61.88 470.90,62.00 470.93,62.80 471.22,60.97 471.51,58.89 471.80,59.93 472.09,61.27 472.37,60.47 472.65,56.15 472.93,55.72 473.20,55.72 473.40,56.80 473.48,55.61 473.75,53.35 474.02,54.61 474.29,54.50 474.55,54.20 474.81,59.21 475.00,57.30 475.08,58.16 475.33,58.93 475.59,60.60 475.85,60.21 476.10,62.35 476.35,63.62 476.50,63.00 476.60,63.88 476.85,63.45 477.09,64.56 477.34,63.77 477.58,62.77 477.82,63.50 478.00,63.50 478.06,64.11 478.30,62.56 478.53,63.60 478.77,62.71 479.00,63.69 479.23,64.95 479.46,66.60 479.68,68.45 479.91,67.23 480.10,65.00 480.13,63.69 480.36,63.15 480.58,59.49 480.80,60.39 481.02,59.48 481.24,60.56 481.45,60.47 481.50,60.00 481.67,62.25 481.88,61.75 482.09,59.22 482.30,61.03 482.51,66.16 482.72,65.10 482.92,65.46 483.00,64.00 483.50,64.13 483.90,62.88 484.30,69.53 484.69,66.03 485.08,64.41 485.47,64.78 485.85,62.46 486.22,61.53 486.59,64.45 486.96,62.75 487.32,65.73 487.68,63.76 488.04,59.91 488.39,60.04 488.74,61.04 489.09,59.20 489.43,62.63 489.76,63.19 490.10,66.76 490.43,62.86 490.76,63.58 491.08,66.00 491.41,67.22 491.72,62.81 492.04,68.84 492.35,64.22 492.66,68.38 492.97,65.10 493.27,64.11 493.58,62.01 493.88,64.15 494.17,72.06 494.47,65.20 494.76,70.22 495.05,70.98 495.33,65.81 495.62,69.14 495.90,71.03 496.18,66.17 496.45,64.55 496.73,68.92 497.00,67.75 497.27,73.54 497.54,69.12 497.80,63.77 498.07,65.41 498.33,63.03 498.59,67.54 498.85,68.75 499.10,65.76 499.36,63.91 499.61,68.40 499.86,65.87 500.11,70.16 500.36,64.68 500.60,65.35 500.84,64.84 501.08,63.54 501.32,72.96 501.56,74.02 501.80,66.53 502.03,69.20 502.27,62.79 502.50,69.55 502.73,71.11 502.95,66.93 503.18,66.01 503.41,67.52 503.63,68.61 503.85,66.45 504.07,64.69 504.29,65.83 504.51,65.69 504.73,69.29 504.94,68.07 505.16,68.27 505.37,63.27 505.58,65.26 505.79,65.80 506.00,65.62 506.20,66.71 506.41,66.50 506.61,63.39 506.82,69.32" fill="none" stroke="#0000ff" stroke-width="0.8" stroke-linejoin="round"/>
</g>
<rect x="375.00" y="11.70" width="131.90" height="63.70" fill="none" stroke="#7a7a7a" stroke-width="0.7"/>
<line x1="375.00" y1="75.40" x2="375.00" y2="74.50" stroke="#7a7a7a" stroke-width="0.6"/>
<line x1="375.00" y1="11.70" x2="375.00" y2="12.60" stroke="#7a7a7a" stroke-width="0.6"/>
<line x1="388.67" y1="75.40" x2="388.67" y2="74.50" stroke="#7a7a7a" stroke-width="0.6"/>
<line x1="388.67" y1="11.70" x2="388.67" y2="12.60" stroke="#7a7a7a" stroke-width="0.6"/>
<line x1="398.37" y1="75.40" x2="398.37" y2="74.50" stroke="#7a7a7a" stroke-width="0.6"/>
<line x1="398.37" y1="11.70" x2="398.37" y2="12.60" stroke="#7a7a7a" stroke-width="0.6"/>
<line x1="405.89" y1="75.40" x2="405.89" y2="74.50" stroke="#7a7a7a" stroke-width="0.6"/>
<line x1="405.89" y1="11.70" x2="405.89" y2="12.60" stroke="#7a7a7a" stroke-width="0.6"/>
<line x1="412.04" y1="75.40" x2="412.04" y2="74.50" stroke="#7a7a7a" stroke-width="0.6"/>
<line x1="412.04" y1="11.70" x2="412.04" y2="12.60" stroke="#7a7a7a" stroke-width="0.6"/>
<line x1="417.24" y1="75.40" x2="417.24" y2="74.50" stroke="#7a7a7a" stroke-width="0.6"/>
<line x1="417.24" y1="11.70" x2="417.24" y2="12.60" stroke="#7a7a7a" stroke-width="0.6"/>
<line x1="421.74" y1="75.40" x2="421.74" y2="74.50" stroke="#7a7a7a" stroke-width="0.6"/>
<line x1="421.74" y1="11.70" x2="421.74" y2="12.60" stroke="#7a7a7a" stroke-width="0.6"/>
<line x1="425.71" y1="75.40" x2="425.71" y2="74.50" stroke="#7a7a7a" stroke-width="0.6"/>
<line x1="425.71" y1="11.70" x2="425.71" y2="12.60" stroke="#7a7a7a" stroke-width="0.6"/>
<line x1="429.26" y1="75.40" x2="429.26" y2="73.96" stroke="#7a7a7a" stroke-width="0.6"/>
<line x1="429.26" y1="11.70" x2="429.26" y2="13.14" stroke="#7a7a7a" stroke-width="0.6"/>
<line x1="452.64" y1="75.40" x2="452.64" y2="74.50" stroke="#7a7a7a" stroke-width="0.6"/>
<line x1="452.64" y1="11.70" x2="452.64" y2="12.60" stroke="#7a7a7a" stroke-width="0.6"/>
<line x1="466.31" y1="75.40" x2="466.31" y2="74.50" stroke="#7a7a7a" stroke-width="0.6"/>
<line x1="466.31" y1="11.70" x2="466.31" y2="12.60" stroke="#7a7a7a" stroke-width="0.6"/>
<line x1="476.01" y1="75.40" x2="476.01" y2="74.50" stroke="#7a7a7a" stroke-width="0.6"/>
<line x1="476.01" y1="11.70" x2="476.01" y2="12.60" stroke="#7a7a7a" stroke-width="0.6"/>
<line x1="483.53" y1="75.40" x2="483.53" y2="74.50" stroke="#7a7a7a" stroke-width="0.6"/>
<line x1="483.53" y1="11.70" x2="483.53" y2="12.60" stroke="#7a7a7a" stroke-width="0.6"/>
<line x1="489.68" y1="75.40" x2="489.68" y2="74.50" stroke="#7a7a7a" stroke-width="0.6"/>
<line x1="489.68" y1="11.70" x2="489.68" y2="12.60" stroke="#7a7a7a" stroke-width="0.6"/>
<line x1="494.87" y1="75.40" x2="494.87" y2="74.50" stroke="#7a7a7a" stroke-width="0.6"/>
<line x1="494.87" y1="11.70" x2="494.87" y2="12.60" stroke="#7a7a7a" stroke-width="0.6"/>
<line x1="499.38" y1="75.40" x2="499.38" y2="74.50" stroke="#7a7a7a" stroke-width="0.6"/>
<line x1="499.38" y1="11.70" x2="499.38" y2="12.60" stroke="#7a7a7a" stroke-width="0.6"/>
<line x1="503.35" y1="75.40" x2="503.35" y2="74.50" stroke="#7a7a7a" stroke-width="0.6"/>
<line x1="503.35" y1="11.70" x2="503.35" y2="12.60" stroke="#7a7a7a" stroke-width="0.6"/>
<line x1="375.00" y1="75.40" x2="376.44" y2="75.40" stroke="#7a7a7a" stroke-width="0.6"/>
<line x1="506.90" y1="75.40" x2="505.46" y2="75.40" stroke="#7a7a7a" stroke-width="0.6"/>
<line x1="375.00" y1="71.56" x2="375.90" y2="71.56" stroke="#7a7a7a" stroke-width="0.6"/>
<line x1="506.90" y1="71.56" x2="506.00" y2="71.56" stroke="#7a7a7a" stroke-width="0.6"/>
<line x1="375.00" y1="69.32" x2="375.90" y2="69.32" stroke="#7a7a7a" stroke-width="0.6"/>
<line x1="506.90" y1="69.32" x2="506.00" y2="69.32" stroke="#7a7a7a" stroke-width="0.6"/>
<line x1="375.00" y1="67.73" x2="375.90" y2="67.73" stroke="#7a7a7a" stroke-width="0.6"/>
<line x1="506.90" y1="67.73" x2="506.00" y2="67.73" stroke="#7a7a7a" stroke-width="0.6"/>
<line x1="375.00" y1="66.50" x2="375.90" y2="66.50" stroke="#7a7a7a" stroke-width="0.6"/>
<line x1="506.90" y1="66.50" x2="506.00" y2="66.50" stroke="#7a7a7a" stroke-width="0.6"/>
<line x1="375.00" y1="65.49" x2="375.90" y2="65.49" stroke="#7a7a7a" stroke-width="0.6"/>
<line x1="506.90" y1="65.49" x2="506.00" y2="65.49" stroke="#7a7a7a" stroke-width="0.6"/>
<line x1="375.00" y1="64.63" x2="375.90" y2="64.63" stroke="#7a7a7a" stroke-width="0.6"/>
<line x1="506.90" y1="64.63" x2="506.00" y2="64.63" stroke="#7a7a7a" stroke-width="0.6"/>
<line x1="375.00" y1="63.89" x2="375.90" y2="63.89" stroke="#7a7a7a" stroke-width="0.6"/>
<line x1="506.90" y1="63.89" x2="506.00" y2="63.89" stroke="#7a7a7a" stroke-width="0.6"/>
<line x1="375.00" y1="63.24" x2="375.90" y2="63.24" stroke="#7a7a7a" stroke-width="0.6"/>
<line x1="506.90" y1="63.24" x2="506.00" y2="63.24" stroke="#7a7a7a" stroke-width="0.6"/>
<line x1="375.00" y1="62.66" x2="376.44" y2="62.66" stroke="#7a7a7a" stroke-width="0.6"/>
<line x1="506.90" y1="62.66" x2="505.46" y2="62.66" stroke="#7a7a7a" stroke-width="0.6"/>
<line x1="375.00" y1="58.82" x2="375.90" y2="58.82" stroke="#7a7a7a" stroke-width="0.6"/>
<line x1="506.90" y1="58.82" x2="506.00" y2="58.82" stroke="#7a7a7a" stroke-width="0.6"/>
<line x1="375.00" y1="56.58" x2="375.90" y2="56.58" stroke="#7a7a7a" stroke-width="0.6"/>
<line x1="506.90" y1="56.58" x2="506.00" y2="56.58" stroke="#7a7a7a" stroke-width="0.6"/>
<line x1="375.00" y1="54.99" x2="375.90" y2="54.99" stroke="#7a7a7a" stroke-width="0.6"/>
<line x1="506.90" y1="54.99" x2="506.00" y2="54.99" stroke="#7a7a7a" stroke-width="0.6"/>
<line x1="375.00" y1="53.76" x2="375.90" y2="53.76" stroke="#7a7a7a" stroke-width="0.6"/>
<line x1="506.90" y1="53.76" x2="506.00" y2="53.76" stroke="#7a7a7a" stroke-width="0.6"/>
<line x1="375.00" y1="52.75" x2="375.90" y2="52.75" stroke="#7a7a7a" stroke-width="0.6"/>
<line x1="506.90" y1="52.75" x2="506.00" y2="52.75" stroke="#7a7a7a" stroke-width="0.6"/>
<line x1="375.00" y1="51.89" x2="375.90" y2="51.89" stroke="#7a7a7a" stroke-width="0.6"/>
<line x1="506.90" y1="51.89" x2="506.00" y2="51.89" stroke="#7a7a7a" stroke-width="0.6"/>
<line x1="375.00" y1="51.15" x2="375.90" y2="51.15" stroke="#7a7a7a" stroke-width="0.6"/>
<line x1="506.90" y1="51.15" x2="506.00" y2="51.15" stroke="#7a7a7a" stroke-width="0.6"/>
<line x1="375.00" y1="50.50" x2="375.90" y2="50.50" stroke="#7a7a7a" stroke-width="0.6"/>
<line x1="506.90" y1="50.50" x2="506.00" y2="50.50" stroke="#7a7a7a" stroke-width="0.6"/>
<line x1="375.00" y1="49.92" x2="376.44" y2="49.92" stroke="#7a7a7a" stroke-width="0.6"/>
<line x1="506.90" y1="49.92" x2="505.46" y2="49.92" stroke="#7a7a7a" stroke-width="0.6"/>
<line x1="375.00" y1="46.08" x2="375.90" y2="46.08" stroke="#7a7a7a" stroke-width="0.6"/>
<line x1="506.90" y1="46.08" x2="506.00" y2="46.08" stroke="#7a7a7a" stroke-width="0.6"/>
<line x1="375.00" y1="43.84" x2="375.90" y2="43.84" stroke="#7a7a7a" stroke-width="0.6"/>
<line x1="506.90" y1="43.84" x2="506.00" y2="43.84" stroke="#7a7a7a" stroke-width="0.6"/>
<line x1="375.00" y1="42.25" x2="375.90" y2="42.25" stroke="#7a7a7a" stroke-width="0.6"/>
<line x1="506.90" y1="42.25" x2="506.00" y2="42.25" stroke="#7a7a7a" stroke-width="0.6"/>
<line x1="375.00" y1="41.02" x2="375.90" y2="41.02" stroke="#7a7a7a" stroke-width="0.6"/>
<line x1="506.90" y1="41.02" x2="506.00" y2="41.02" stroke="#7a7a7a" stroke-width="0.6"/>
<line x1="375.00" y1="40.01" x2="375.90" y2="40.01" stroke="#7a7a7a" stroke-width="0.6"/>
<line x1="506.90" y1="40.01" x2="506.00" y2="40.01" stroke="#7a7a7a" stroke-width="0.6"/>
<line x1="375.00" y1="39.15" x2="375.90" y2="39.15" stroke="#7a7a7a" stroke-width="0.6"/>
<line x1="506.90" y1="39.15" x2="506.00" y2="39.15" stroke="#7a7a7a" stroke-width="0.6"/>
<line x1="375.00" y1="38.41" x2="375.90" y2="38.41" stroke="#7a7a7a" stroke-width="0.6"/>
<line x1="506.90" y1="38.41" x2="506.00" y2="38.41" stroke="#7a7a7a" stroke-width="0.6"/>
<line x1="375.00" y1="37.76" x2="375.90" y2="37.76" stroke="#7a7a7a" stroke-width="0.6"/>
<line x1="506.90" y1="37.76" x2="506.00" y2="37.76" stroke="#7a7a7a" stroke-width="0.6"/>
<line x1="375.00" y1="37.18" x2="376.44" y2="37.18" stroke="#7a7a7a" stroke-width="0.6"/>
<line x1="506.90" y1="37.18" x2="505.46" y2="37.18" stroke="#7a7a7a" stroke-width="0.6"/>
<line x1="375.00" y1="33.34" x2="375.90" y2="33.34" stroke="#7a7a7a" stroke-width="0.6"/>
<line x1="506.90" y1="33.34" x2="506.00" y2="33.34" stroke="#7a7a7a" stroke-width="0.6"/>
<line x1="375.00" y1="31.10" x2="375.90" y2="31.10" stroke="#7a7a7a" stroke-width="0.6"/>
<line x1="506.90" y1="31.10" x2="506.00" y2="31.10" stroke="#7a7a7a" stroke-width="0.6"/>
<line x1="375.00" y1="29.51" x2="375.90" y2="29.51" stroke="#7a7a7a" stroke-width="0.6"/>
<line x1="506.90" y1="29.51" x2="506.00" y2="29.51" stroke="#7a7a7a" stroke-width="0.6"/>
<line x1="375.00" y1="28.28" x2="375.90" y2="28.28" stroke="#7a7a7a" stroke-width="0.6"/>
<line x1="506.90" y1="28.28" x2="506.00" y2="28.28" stroke="#7a7a7a" stroke-width="0.6"/>
<line x1="375.00" y1="27.27" x2="375.90" y2="27.27" stroke="#7a7a7a" stroke-width="0.6"/>
<line x1="506.90" y1="27.27" x2="506.00" y2="27.27" stroke="#7a7a7a" stroke-width="0.6"/>
<line x1="375.00" y1="26.41" x2="375.90" y2="26.41" stroke="#7a7a7a" stroke-width="0.6"/>
<line x1="506.90" y1="26.41" x2="506.00" y2="26.41" stroke="#7a7a7a" stroke-width="0.6"/>
<line x1="375.00" y1="25.67" x2="375.90" y2="25.67" stroke="#7a7a7a" stroke-width="0.6"/>
<line x1="506.90" y1="25.67" x2="506.00" y2="25.67" stroke="#7a7a7a" stroke-width="0.6"/>
<line x1="375.00" y1="25.02" x2="375.90" y2="25.02" stroke="#7a7a7a" stroke-width="0.6"/>
<line x1="506.90" y1="25.02" x2="506.00" y2="25.02" stroke="#7a7a7a" stroke-width="0.6"/>
<line x1="375.00" y1="24.44" x2="376.44" y2="24.44" stroke="#7a7a7a" stroke-width="0.6"/>
<line x1="506.90" y1="24.44" x2="505.46" y2="24.44" stroke="#7a7a7a" stroke-width="0.6"/>
<line x1="375.00" y1="20.60" x2="375.90" y2="20.60" stroke="#7a7a7a" stroke-width="0.6"/>
<line x1="506.90" y1="20.60" x2="506.00" y2="20.60" stroke="#7a7a7a" stroke-width="0.6"/>
<line x1="375.00" y1="18.36" x2="375.90" y2="18.36" stroke="#7a7a7a" stroke-width="0.6"/>
<line x1="506.90" y1="18.36" x2="506.00" y2="18.36" stroke="#7a7a7a" stroke-width="0.6"/>
<line x1="375.00" y1="16.77" x2="375.90" y2="16.77" stroke="#7a7a7a" stroke-width="0.6"/>
<line x1="506.90" y1="16.77" x2="506.00" y2="16.77" stroke="#7a7a7a" stroke-width="0.6"/>
<line x1="375.00" y1="15.54" x2="375.90" y2="15.54" stroke="#7a7a7a" stroke-width="0.6"/>
<line x1="506.90" y1="15.54" x2="506.00" y2="15.54" stroke="#7a7a7a" stroke-width="0.6"/>
<line x1="375.00" y1="14.53" x2="375.90" y2="14.53" stroke="#7a7a7a" stroke-width="0.6"/>
<line x1="506.90" y1="14.53" x2="506.00" y2="14.53" stroke="#7a7a7a" stroke-width="0.6"/>
<line x1="375.00" y1="13.67" x2="375.90" y2="13.67" stroke="#7a7a7a" stroke-width="0.6"/>
<line x1="506.90" y1="13.67" x2="506.00" y2="13.67" stroke="#7a7a7a" stroke-width="0.6"/>
<line x1="375.00" y1="12.93" x2="375.90" y2="12.93" stroke="#7a7a7a" stroke-width="0.6"/>
<line x1="506.90" y1="12.93" x2="506.00" y2="12.93" stroke="#7a7a7a" stroke-width="0.6"/>
<line x1="375.00" y1="12.28" x2="375.90" y2="12.28" stroke="#7a7a7a" stroke-width="0.6"/>
<line x1="506.90" y1="12.28" x2="506.00" y2="12.28" stroke="#7a7a7a" stroke-width="0.6"/>
<text x="372.40" y="16.30" text-anchor="end" class="tk">10<tspan class="sup" dy="-4.5">0</tspan></text>
<text x="372.40" y="41.78" text-anchor="end" class="tk">10<tspan class="sup" dy="-4.5">-2</tspan></text>
<text x="372.40" y="67.26" text-anchor="end" class="tk">10<tspan class="sup" dy="-4.5">-4</tspan></text>
<text x="429.36" y="87.70" text-anchor="middle" class="tk">10<tspan class="sup" dy="-4.0">0</tspan></text>
<text x="507.00" y="87.70" text-anchor="middle" class="tk">10<tspan class="sup" dy="-4.0">1</tspan></text>
<text x="440.95" y="96.70" text-anchor="middle" class="pl">(c)</text>
<text transform="translate(356.70,43.55) rotate(-90)" text-anchor="middle" class="yl">PSD (m<tspan class="sup2" dy="-4.4">2</tspan><tspan dy="4.4">/s</tspan><tspan class="sup2" dy="-4.4">2</tspan><tspan dy="4.4">/cpd)</tspan></text>
<text x="416.60" y="5.8" class="it">f</text>
<text x="424.00" y="5.8" class="it">D<tspan class="sub" dy="3.4">1</tspan></text>
<text x="436.90" y="5.8" class="it">2f</text>
<text x="442.00" y="5.8" class="it">fD<tspan class="sub" dy="3.4">1</tspan></text>
<text x="453.30" y="5.8" class="it">D<tspan class="sub" dy="3.4">2</tspan></text>
<line x1="432.50" y1="20.00" x2="450.70" y2="20.00" stroke="#f05a5a" stroke-width="0.95"/>
<text transform="translate(451.90,22.20) scale(0.93,1)" class="lg">before the passage</text>
<line x1="432.50" y1="27.70" x2="450.70" y2="27.70" stroke="#6c6cf2" stroke-width="0.95"/>
<text transform="translate(451.90,29.90) scale(0.93,1)" class="lg">after the passage</text>
<line x1="590.28" y1="11.70" x2="590.28" y2="75.40" stroke="#6e6e6e" stroke-width="0.6"/>
<line x1="599.38" y1="11.70" x2="599.38" y2="75.40" stroke="#6e6e6e" stroke-width="0.6"/>
<line x1="601.94" y1="11.70" x2="601.94" y2="75.40" stroke="#6e6e6e" stroke-width="0.6"/>
<line x1="613.69" y1="11.70" x2="613.69" y2="75.40" stroke="#6e6e6e" stroke-width="0.6"/>
<line x1="618.55" y1="11.70" x2="618.55" y2="75.40" stroke="#6e6e6e" stroke-width="0.6"/>
<line x1="620.02" y1="11.70" x2="620.02" y2="75.40" stroke="#6e6e6e" stroke-width="0.6"/>
<line x1="624.09" y1="11.70" x2="624.09" y2="75.40" stroke="#6e6e6e" stroke-width="0.6"/>
<line x1="625.25" y1="11.70" x2="625.25" y2="75.40" stroke="#6e6e6e" stroke-width="0.6"/>
<clipPath id="cp03"><rect x="547.50" y="11.70" width="132.10" height="63.70"/></clipPath>
<g clip-path="url(#cp03)">
<polyline points="547.50,38.20 547.68,38.24 547.92,38.30 548.20,38.37 548.52,38.44 548.89,38.53 549.28,38.62 549.71,38.73 550.17,38.83 550.66,38.95 551.16,39.07 551.68,39.19 552.22,39.32 552.77,39.45 553.33,39.58 553.89,39.72 554.45,39.85 555.00,39.98 555.55,40.11 556.09,40.24 556.62,40.37 557.13,40.49 557.62,40.60 558.09,40.71 558.52,40.82 558.93,40.91 559.30,41.00 559.60,41.07 559.93,41.15 560.28,41.23 560.66,41.32 561.06,41.41 561.48,41.51 561.92,41.62 562.37,41.72 562.84,41.83 563.33,41.95 563.82,42.06 564.33,42.18 564.84,42.30 565.36,42.42 565.88,42.55 566.40,42.67 566.93,42.79 567.45,42.92 567.98,43.04 568.49,43.16 569.00,43.28 569.51,43.40 570.00,43.52 570.48,43.63 570.95,43.74 571.40,43.85 571.84,43.95 572.26,44.05 572.65,44.15 573.03,44.24 573.38,44.32 573.70,44.40 574.04,44.48 574.41,44.58 574.80,44.69 575.23,44.80 575.67,44.93 576.14,45.06 576.63,45.20 577.13,45.34 577.65,45.49 578.18,45.64 578.72,45.80 579.27,45.95 579.82,46.11 580.37,46.27 580.92,46.42 581.47,46.58 582.02,46.73 582.55,46.87 583.08,47.01 583.59,47.14 584.09,47.27 584.57,47.39 585.03,47.50 585.47,47.59 585.88,47.68 586.27,47.75 586.62,47.81 586.95,47.86 587.24,47.89 587.49,47.90 587.70,47.90 588.55,47.61 589.15,46.96 589.60,46.08 589.95,45.09 590.30,44.12 590.70,43.30 591.03,42.78 591.46,42.10 591.96,41.30 592.51,40.42 593.08,39.51 593.67,38.60 594.23,37.74 594.76,36.98 595.22,36.35 595.60,35.90 595.97,35.55 596.40,35.19 596.88,34.84 597.39,34.50 597.91,34.20 598.43,33.92 598.92,33.70 599.38,33.53 599.78,33.42 600.10,33.40 600.54,33.52 601.05,33.81 601.59,34.22 602.15,34.73 602.69,35.28 603.18,35.85 603.60,36.40 603.99,37.02 604.48,37.90 605.03,38.96 605.62,40.11 606.21,41.26 606.75,42.31 607.23,43.19 607.60,43.80 608.07,44.39 608.63,44.95 609.21,45.47 609.78,45.93 610.26,46.31 610.60,46.60 611.00,47.10 611.37,47.58 612.00,47.90 612.25,47.96 612.61,48.03 613.04,48.12 613.53,48.21 614.07,48.30 614.64,48.39 615.23,48.46 615.80,48.52 616.36,48.56 616.87,48.57 617.33,48.55 617.71,48.50 618.00,48.41 618.52,47.91 619.05,47.16 619.56,46.22 620.05,45.24 620.50,44.31 620.90,43.36 621.29,42.50 621.80,41.37 622.37,39.84 622.96,38.73 623.53,37.46 624.02,36.52 624.40,36.25 624.88,36.19 625.43,36.82 625.99,38.06 626.51,38.94 626.90,39.90 627.33,41.21 627.81,43.16 628.34,45.10 628.90,46.45 629.19,46.59 629.58,47.44 630.05,47.61 630.58,48.07 631.13,48.76 631.69,48.92 632.22,49.45 632.70,49.85 633.10,49.97 633.40,49.71 633.91,49.53 634.45,48.20 634.98,46.77 635.44,45.53 635.80,44.98 636.22,43.96 636.71,43.59 637.19,42.80 637.60,42.55 638.06,43.25 638.65,44.33 639.27,45.15 639.80,47.09 640.18,46.70 640.67,48.15 641.22,48.66 641.79,50.13 642.34,50.84 642.80,50.88 643.18,51.34 643.66,50.79 644.23,50.15 644.83,49.10 645.42,49.18 645.97,48.00 646.45,47.86 646.80,46.89 647.28,48.10 647.80,48.09 648.32,49.35 648.80,49.62 649.20,50.28 649.62,50.92 650.14,51.27 650.71,52.62 651.25,52.12 651.70,52.20 652.10,52.48 652.61,51.58 653.18,50.44 653.75,50.02 654.28,49.93 654.70,49.44 655.12,50.08 655.63,49.62 656.20,50.91 656.77,51.14 657.28,51.86 657.70,52.04 658.12,51.94 658.65,53.19 659.23,51.93 659.80,51.93 660.31,51.54 660.70,52.23 661.13,51.29 661.62,51.40 662.14,52.85 662.65,52.57 663.10,54.04 663.47,52.93 663.97,53.27 664.55,53.71 665.15,52.79 665.72,53.16 666.22,53.46 666.60,52.56 667.07,53.39 667.60,52.90 668.14,53.78 668.66,54.98 669.10,55.07 669.50,54.42 670.02,54.72 670.60,54.77 671.18,55.93 671.70,56.13 672.10,55.04 672.56,55.12 673.11,54.53 673.68,54.90 674.20,54.57 674.60,54.40 675.03,55.12 675.52,55.98 676.03,56.46 676.50,57.14 676.91,56.29 677.48,56.55 678.13,56.06 678.77,53.42 679.29,55.16 679.60,53.76" fill="none" stroke="#0000ff" stroke-width="0.8" stroke-linejoin="round"/>
<polyline points="547.50,38.80 547.68,38.85 547.92,38.90 548.20,38.97 548.52,39.06 548.88,39.15 549.28,39.25 549.71,39.36 550.17,39.47 550.65,39.59 551.16,39.72 551.68,39.85 552.22,39.99 552.77,40.12 553.32,40.26 553.88,40.40 554.44,40.54 555.00,40.68 555.55,40.81 556.09,40.94 556.62,41.07 557.13,41.20 557.62,41.31 558.08,41.42 558.52,41.52 558.93,41.62 559.30,41.70 559.60,41.77 559.94,41.85 560.31,41.93 560.70,42.02 561.12,42.12 561.56,42.23 562.03,42.34 562.51,42.45 563.01,42.57 563.52,42.69 564.04,42.82 564.57,42.94 565.12,43.07 565.66,43.19 566.21,43.32 566.76,43.44 567.31,43.56 567.85,43.68 568.39,43.80 568.92,43.91 569.44,44.01 569.94,44.11 570.43,44.20 570.91,44.29 571.36,44.36 571.79,44.43 572.20,44.49 572.58,44.53 572.94,44.57 573.26,44.59 573.55,44.60 573.80,44.60 574.31,44.55 574.83,44.43 575.36,44.26 575.89,44.04 576.42,43.78 576.95,43.49 577.47,43.18 577.97,42.85 578.46,42.52 578.93,42.19 579.37,41.86 579.78,41.55 580.16,41.27 580.50,41.01 580.80,40.80 581.24,40.47 581.73,40.07 582.25,39.62 582.79,39.14 583.34,38.63 583.88,38.12 584.39,37.63 584.88,37.16 585.32,36.75 585.70,36.40 586.05,36.09 586.46,35.72 586.93,35.32 587.42,34.88 587.94,34.43 588.46,33.97 588.98,33.51 589.47,33.06 589.94,32.63 590.35,32.24 590.70,31.90 591.09,31.49 591.56,30.97 592.09,30.37 592.66,29.73 593.24,29.06 593.81,28.40 594.35,27.77 594.85,27.21 595.27,26.75 595.60,26.40 596.10,25.93 596.66,25.45 597.23,24.99 597.77,24.58 598.24,24.24 598.60,24.00 599.06,23.69 599.56,23.40 600.07,23.20 600.60,23.20 600.94,23.31 601.42,23.50 601.98,23.76 602.58,24.06 603.19,24.40 603.76,24.74 604.24,25.08 604.60,25.40 605.08,26.05 605.60,26.98 606.12,28.03 606.60,29.08 607.00,30.00 607.42,31.12 607.96,32.66 608.53,34.33 609.07,35.85 609.50,36.90 609.92,37.66 610.43,38.44 610.99,39.19 611.53,39.86 612.00,40.40 612.37,40.81 612.86,41.34 613.41,41.92 614.00,42.48 614.57,42.96 615.09,43.29 615.50,43.40 615.91,43.24 616.42,42.85 616.99,42.31 617.57,41.67 618.12,41.03 618.61,40.40 619.00,39.89 619.43,39.24 619.94,38.43 620.49,37.45 621.03,36.39 621.52,35.63 621.90,34.96 622.35,34.30 622.88,33.72 623.45,32.99 623.98,32.31 624.40,32.21 624.82,32.47 625.33,32.84 625.89,33.63 626.43,34.59 626.90,35.15 627.27,36.38 627.77,37.85 628.33,39.49 628.92,40.94 629.50,42.84 630.00,43.95 630.40,45.00 630.84,45.44 631.37,45.56 631.95,45.38 632.51,45.29 633.01,45.36 633.40,44.71 633.84,44.35 634.38,43.25 634.92,41.81 635.42,41.26 635.80,39.92 636.22,39.63 636.71,37.74 637.19,37.01 637.60,37.65 638.06,38.19 638.65,39.20 639.27,40.70 639.80,41.37 640.18,42.58 640.68,43.65 641.24,45.21 641.82,46.78 642.36,47.48 642.80,48.01 643.19,47.53 643.69,47.07 644.26,46.46 644.85,45.46 645.41,45.15 645.91,43.84 646.30,44.54 646.73,43.81 647.24,45.16 647.79,45.39 648.33,47.17 648.82,47.43 649.20,48.05 649.63,48.59 650.15,48.50 650.70,48.71 651.23,48.57 651.70,49.88 652.08,48.94 652.58,48.60 653.15,48.32 653.75,48.62 654.32,46.61 654.82,47.10 655.20,46.73 655.66,47.50 656.18,47.32 656.72,48.88 657.24,50.26 657.70,50.99 658.08,50.96 658.58,49.59 659.15,49.61 659.75,49.10 660.33,48.11 660.83,47.80 661.20,48.76 661.66,48.84 662.18,49.34 662.71,50.81 663.20,50.43 663.60,51.56 664.03,51.26 664.58,50.93 665.16,50.84 665.69,50.40 666.10,50.44 666.56,51.08 667.10,53.09 667.64,53.03 668.10,54.34 668.51,54.05 669.06,53.15 669.64,53.28 670.19,51.96 670.60,52.95 671.06,52.27 671.60,53.27 672.14,54.56 672.60,55.28 673.01,55.21 673.56,54.82 674.15,53.72 674.69,52.88 675.10,53.63 675.54,53.80 676.05,53.71 676.55,55.54 677.00,55.42 677.44,54.67 678.05,55.30 678.70,53.91 679.26,53.91 679.60,54.55" fill="none" stroke="#ff0000" stroke-width="0.8" stroke-linejoin="round"/>
</g>
<rect x="547.50" y="11.70" width="132.10" height="63.70" fill="none" stroke="#7a7a7a" stroke-width="0.7"/>
<line x1="547.50" y1="75.40" x2="547.50" y2="74.50" stroke="#7a7a7a" stroke-width="0.6"/>
<line x1="547.50" y1="11.70" x2="547.50" y2="12.60" stroke="#7a7a7a" stroke-width="0.6"/>
<line x1="561.19" y1="75.40" x2="561.19" y2="74.50" stroke="#7a7a7a" stroke-width="0.6"/>
<line x1="561.19" y1="11.70" x2="561.19" y2="12.60" stroke="#7a7a7a" stroke-width="0.6"/>
<line x1="570.91" y1="75.40" x2="570.91" y2="74.50" stroke="#7a7a7a" stroke-width="0.6"/>
<line x1="570.91" y1="11.70" x2="570.91" y2="12.60" stroke="#7a7a7a" stroke-width="0.6"/>
<line x1="578.44" y1="75.40" x2="578.44" y2="74.50" stroke="#7a7a7a" stroke-width="0.6"/>
<line x1="578.44" y1="11.70" x2="578.44" y2="12.60" stroke="#7a7a7a" stroke-width="0.6"/>
<line x1="584.60" y1="75.40" x2="584.60" y2="74.50" stroke="#7a7a7a" stroke-width="0.6"/>
<line x1="584.60" y1="11.70" x2="584.60" y2="12.60" stroke="#7a7a7a" stroke-width="0.6"/>
<line x1="589.80" y1="75.40" x2="589.80" y2="74.50" stroke="#7a7a7a" stroke-width="0.6"/>
<line x1="589.80" y1="11.70" x2="589.80" y2="12.60" stroke="#7a7a7a" stroke-width="0.6"/>
<line x1="594.31" y1="75.40" x2="594.31" y2="74.50" stroke="#7a7a7a" stroke-width="0.6"/>
<line x1="594.31" y1="11.70" x2="594.31" y2="12.60" stroke="#7a7a7a" stroke-width="0.6"/>
<line x1="598.29" y1="75.40" x2="598.29" y2="74.50" stroke="#7a7a7a" stroke-width="0.6"/>
<line x1="598.29" y1="11.70" x2="598.29" y2="12.60" stroke="#7a7a7a" stroke-width="0.6"/>
<line x1="601.85" y1="75.40" x2="601.85" y2="73.96" stroke="#7a7a7a" stroke-width="0.6"/>
<line x1="601.85" y1="11.70" x2="601.85" y2="13.14" stroke="#7a7a7a" stroke-width="0.6"/>
<line x1="625.25" y1="75.40" x2="625.25" y2="74.50" stroke="#7a7a7a" stroke-width="0.6"/>
<line x1="625.25" y1="11.70" x2="625.25" y2="12.60" stroke="#7a7a7a" stroke-width="0.6"/>
<line x1="638.94" y1="75.40" x2="638.94" y2="74.50" stroke="#7a7a7a" stroke-width="0.6"/>
<line x1="638.94" y1="11.70" x2="638.94" y2="12.60" stroke="#7a7a7a" stroke-width="0.6"/>
<line x1="648.66" y1="75.40" x2="648.66" y2="74.50" stroke="#7a7a7a" stroke-width="0.6"/>
<line x1="648.66" y1="11.70" x2="648.66" y2="12.60" stroke="#7a7a7a" stroke-width="0.6"/>
<line x1="656.19" y1="75.40" x2="656.19" y2="74.50" stroke="#7a7a7a" stroke-width="0.6"/>
<line x1="656.19" y1="11.70" x2="656.19" y2="12.60" stroke="#7a7a7a" stroke-width="0.6"/>
<line x1="662.35" y1="75.40" x2="662.35" y2="74.50" stroke="#7a7a7a" stroke-width="0.6"/>
<line x1="662.35" y1="11.70" x2="662.35" y2="12.60" stroke="#7a7a7a" stroke-width="0.6"/>
<line x1="667.56" y1="75.40" x2="667.56" y2="74.50" stroke="#7a7a7a" stroke-width="0.6"/>
<line x1="667.56" y1="11.70" x2="667.56" y2="12.60" stroke="#7a7a7a" stroke-width="0.6"/>
<line x1="672.06" y1="75.40" x2="672.06" y2="74.50" stroke="#7a7a7a" stroke-width="0.6"/>
<line x1="672.06" y1="11.70" x2="672.06" y2="12.60" stroke="#7a7a7a" stroke-width="0.6"/>
<line x1="676.04" y1="75.40" x2="676.04" y2="74.50" stroke="#7a7a7a" stroke-width="0.6"/>
<line x1="676.04" y1="11.70" x2="676.04" y2="12.60" stroke="#7a7a7a" stroke-width="0.6"/>
<line x1="547.50" y1="64.78" x2="548.94" y2="64.78" stroke="#7a7a7a" stroke-width="0.6"/>
<line x1="679.60" y1="64.78" x2="678.16" y2="64.78" stroke="#7a7a7a" stroke-width="0.6"/>
<line x1="547.50" y1="54.17" x2="548.94" y2="54.17" stroke="#7a7a7a" stroke-width="0.6"/>
<line x1="679.60" y1="54.17" x2="678.16" y2="54.17" stroke="#7a7a7a" stroke-width="0.6"/>
<line x1="547.50" y1="43.55" x2="548.94" y2="43.55" stroke="#7a7a7a" stroke-width="0.6"/>
<line x1="679.60" y1="43.55" x2="678.16" y2="43.55" stroke="#7a7a7a" stroke-width="0.6"/>
<line x1="547.50" y1="32.93" x2="548.94" y2="32.93" stroke="#7a7a7a" stroke-width="0.6"/>
<line x1="679.60" y1="32.93" x2="678.16" y2="32.93" stroke="#7a7a7a" stroke-width="0.6"/>
<line x1="547.50" y1="22.32" x2="548.94" y2="22.32" stroke="#7a7a7a" stroke-width="0.6"/>
<line x1="679.60" y1="22.32" x2="678.16" y2="22.32" stroke="#7a7a7a" stroke-width="0.6"/>
<text x="544.90" y="48.15" text-anchor="end" class="tk">10<tspan class="sup" dy="-4.5">-5</tspan></text>
<text x="601.95" y="87.70" text-anchor="middle" class="tk">10<tspan class="sup" dy="-4.0">0</tspan></text>
<text x="679.70" y="87.70" text-anchor="middle" class="tk">10<tspan class="sup" dy="-4.0">1</tspan></text>
<text x="613.55" y="96.70" text-anchor="middle" class="pl">(d)</text>
<text transform="translate(529.20,43.55) rotate(-90)" text-anchor="middle" class="yl">PSD (m<tspan class="sup2" dy="-4.4">2</tspan><tspan dy="4.4">/s</tspan><tspan class="sup2" dy="-4.4">2</tspan><tspan dy="4.4">/cpd)</tspan></text>
<text x="589.10" y="5.8" class="it">f</text>
<text x="596.50" y="5.8" class="it">D<tspan class="sub" dy="3.4">1</tspan></text>
<text x="609.40" y="5.8" class="it">2f</text>
<text x="614.50" y="5.8" class="it">fD<tspan class="sub" dy="3.4">1</tspan></text>
<text x="625.80" y="5.8" class="it">D<tspan class="sub" dy="3.4">2</tspan></text>
<line x1="607.60" y1="20.00" x2="625.80" y2="20.00" stroke="#6c6cf2" stroke-width="0.95"/>
<text transform="translate(627.00,22.20) scale(0.93,1)" class="lg">counterclockwise</text>
<line x1="607.60" y1="27.70" x2="625.80" y2="27.70" stroke="#f05a5a" stroke-width="0.95"/>
<text transform="translate(627.00,29.90) scale(0.93,1)" class="lg">clockwise</text>
<line x1="70.48" y1="107.40" x2="70.48" y2="171.00" stroke="#6e6e6e" stroke-width="0.6"/>
<line x1="79.56" y1="107.40" x2="79.56" y2="171.00" stroke="#6e6e6e" stroke-width="0.6"/>
<line x1="82.11" y1="107.40" x2="82.11" y2="171.00" stroke="#6e6e6e" stroke-width="0.6"/>
<line x1="93.84" y1="107.40" x2="93.84" y2="171.00" stroke="#6e6e6e" stroke-width="0.6"/>
<line x1="98.69" y1="107.40" x2="98.69" y2="171.00" stroke="#6e6e6e" stroke-width="0.6"/>
<line x1="100.16" y1="107.40" x2="100.16" y2="171.00" stroke="#6e6e6e" stroke-width="0.6"/>
<line x1="104.22" y1="107.40" x2="104.22" y2="171.00" stroke="#6e6e6e" stroke-width="0.6"/>
<line x1="105.38" y1="107.40" x2="105.38" y2="171.00" stroke="#6e6e6e" stroke-width="0.6"/>
<clipPath id="cp10"><rect x="27.80" y="107.40" width="131.80" height="63.60"/></clipPath>
<g clip-path="url(#cp10)">
<polyline points="27.80,139.50 33.00,141.00 39.90,139.50 42.40,141.30 46.90,146.40 51.80,144.40 55.80,144.90 60.30,147.40 63.70,144.40 67.70,141.50 71.70,134.40 74.70,133.90 77.60,127.90 79.60,124.40 81.10,131.90 81.60,142.90 82.10,141.80 83.60,133.90 85.60,140.80 87.60,146.90 88.00,147.97 88.84,147.42 89.65,149.28 90.00,149.00 90.45,146.15 91.23,145.91 91.99,147.54 92.00,145.90 92.73,147.84 93.46,150.45 94.00,151.30 94.17,150.34 94.87,153.30 95.55,153.64 96.22,154.42 96.50,152.80 96.88,151.75 97.52,150.86 98.15,147.61 98.50,147.80 98.77,147.82 99.38,144.10 99.98,146.17 100.57,146.20 100.90,144.90 101.15,144.11 101.72,145.14 102.27,142.38 102.82,143.66 102.90,140.90 103.37,140.01 103.90,138.18 104.42,138.06 104.94,140.53 105.40,136.90 105.45,135.19 105.95,137.45 106.44,138.95 106.90,140.90 106.93,142.08 107.40,142.08 107.88,150.02 108.34,148.02 108.40,150.80 108.80,153.07 109.26,151.25 109.70,149.92 110.15,152.61 110.40,151.80 110.58,149.70 111.01,152.73 111.44,152.12 111.86,152.78 112.27,153.73 112.40,156.80 112.68,154.85 113.08,156.67 113.48,152.11 113.88,152.94 114.27,148.30 114.30,148.80 114.65,149.39 115.04,149.15 115.41,147.02 115.79,147.79 116.16,146.76 116.52,146.12 116.80,144.90 116.88,142.14 117.24,145.53 117.59,149.54 117.94,144.25 118.29,146.93 118.30,147.80 118.63,148.80 118.97,150.64 119.31,152.44 119.64,154.37 119.80,153.80 119.97,152.68 120.29,152.78 120.62,150.86 120.94,149.08 121.25,149.78 121.57,151.11 121.80,151.80 121.88,151.09 122.19,150.96 122.49,151.09 122.80,154.26 123.10,153.49 123.39,154.09 123.50,154.00 123.69,157.46 123.98,152.91 124.27,152.55 124.56,152.75 124.84,147.05 125.12,148.09 125.40,149.00 125.68,149.78 125.96,146.84 126.23,147.09 126.50,147.19 126.77,147.16 126.80,145.90 127.04,145.99 127.30,148.95 127.56,150.22 127.83,147.76 128.08,146.06 128.34,151.22 128.50,152.00 128.60,154.91 128.85,152.73 129.10,157.28 129.35,151.38 129.59,153.98 129.84,155.99 130.00,155.00 130.50,153.21 130.78,152.06 131.05,148.10 131.33,154.10 131.60,153.46 131.87,153.59 132.14,152.98 132.40,159.24 132.67,157.76 132.93,158.99 133.19,152.57 133.44,150.72 133.70,148.64 133.95,150.51 134.20,146.10 134.45,156.96 134.70,154.16 134.95,153.35 135.19,156.54 135.43,152.21 135.68,153.64 135.91,156.36 136.15,148.56 136.39,159.23 136.62,155.04 136.85,156.19 137.08,150.20 137.31,150.31 137.54,160.04 137.77,152.71 137.99,151.73 138.22,154.92 138.44,160.50 138.66,148.05 138.88,158.11 139.09,155.84 139.31,158.24 139.52,151.04 139.74,154.28 139.95,161.60 140.16,155.19 140.37,151.92 140.58,151.88 140.78,151.59 140.99,156.74 141.19,155.57 141.40,152.62 141.60,157.15 141.80,150.97 142.00,148.96 142.20,162.52 142.39,153.54 142.59,161.87 142.79,155.69 142.98,153.89 143.17,156.57 143.36,151.85 143.55,150.96 143.74,152.84 143.93,152.74 144.12,157.25 144.30,165.30 144.49,152.33 144.67,151.12 144.86,156.96 145.04,157.64 145.22,160.89 145.40,153.31 145.58,157.08 145.76,155.29 145.94,149.75 146.11,155.27 146.29,149.95 146.46,155.77 146.64,153.57 146.81,154.03 146.98,165.70 147.15,165.70 147.32,159.60 147.49,158.14 147.66,153.04 147.83,160.51 147.99,159.54 148.16,153.06 148.33,149.64 148.49,153.76 148.65,154.41 148.82,159.20 148.98,152.55 149.14,151.75 149.30,156.33 149.46,156.26 149.62,160.32 149.78,162.41 149.93,153.66 150.09,148.91 150.25,153.87 150.40,152.71 150.56,156.07 150.71,149.30 150.86,153.54 151.02,155.77 151.17,153.84 151.32,157.74 151.47,157.00 151.62,157.40 151.77,162.91 151.92,164.49 152.06,164.37 152.21,159.89 152.36,157.81 152.50,159.32 152.65,158.53 152.79,154.03 152.94,157.50 153.08,161.10 153.22,155.83 153.37,152.39 153.51,157.87 153.65,153.96 153.79,150.99 153.93,154.08 154.07,151.12 154.21,156.40 154.35,154.63 154.48,156.55 154.62,162.26 154.76,163.81 154.89,157.98 155.03,150.16 155.16,153.15 155.30,151.91 155.43,159.44 155.56,165.72 155.70,162.47 155.83,161.45 155.96,160.78 156.09,161.28 156.22,156.50 156.35,161.24 156.48,156.80 156.61,152.86 156.74,156.22 156.87,165.10 156.99,158.16 157.12,151.43 157.25,161.18 157.37,159.39 157.50,160.47 157.63,156.17 157.75,159.30 157.87,166.42 158.00,156.59 158.12,160.49 158.25,159.92 158.37,154.67 158.49,157.60 158.61,160.38 158.73,154.89 158.85,162.52 158.97,154.34 159.09,162.29 159.21,161.88 159.33,159.97 159.45,155.14 159.57,154.17" fill="none" stroke="#ff0000" stroke-width="0.8" stroke-linejoin="round"/>
<polyline points="27.80,137.00 34.00,140.50 40.40,145.40 43.40,140.00 46.40,140.50 49.30,146.90 51.80,140.50 54.30,144.90 57.80,140.00 60.80,134.40 62.70,140.30 64.20,136.40 65.70,137.30 67.70,126.90 70.70,120.00 72.70,122.90 74.70,132.90 75.70,137.30 77.10,129.90 79.40,121.00 81.10,125.90 82.10,134.90 83.10,129.40 84.60,133.40 86.10,139.80 87.10,134.40 88.60,141.30 89.60,143.90 90.00,142.40 90.50,141.80 90.79,138.74 91.56,140.81 92.00,137.90 92.31,138.85 93.05,139.25 93.50,139.40 93.77,140.79 94.48,146.19 95.00,148.80 95.17,146.14 95.84,145.77 96.50,141.90 96.51,144.56 97.16,144.13 97.80,147.97 98.00,147.80 98.42,144.79 99.04,140.87 99.40,140.90 99.64,140.39 100.24,139.34 100.82,139.24 101.40,139.78 101.40,139.90 101.96,144.05 102.40,147.80 102.51,147.95 103.06,141.39 103.40,135.90 103.60,136.13 104.13,134.06 104.65,131.12 104.90,131.00 105.16,131.34 105.66,133.55 106.16,135.08 106.40,135.90 106.65,136.23 107.13,139.71 107.61,143.15 107.90,141.90 108.08,140.88 108.54,143.28 109.00,142.26 109.45,142.83 109.90,143.82 109.90,144.90 110.34,146.51 110.77,148.43 111.20,150.10 111.40,149.80 111.62,149.03 112.04,148.32 112.45,146.13 112.86,142.64 112.90,142.90 113.26,144.57 113.66,145.89 114.05,148.06 114.30,146.40 114.44,148.86 114.82,148.60 115.20,144.43 115.58,145.83 115.80,143.40 115.95,142.70 116.31,140.06 116.68,140.63 117.04,138.58 117.39,136.92 117.60,137.40 117.74,136.14 118.09,139.02 118.44,139.39 118.78,139.36 118.80,142.90 119.12,141.37 119.45,141.20 119.78,139.33 120.11,139.48 120.30,141.40 120.44,140.92 120.76,142.98 121.08,146.49 121.39,147.66 121.70,147.28 121.80,147.80 122.01,145.50 122.32,146.58 122.62,144.58 122.93,146.81 123.23,145.31 123.52,147.44 123.80,145.90 123.82,143.49 124.11,146.86 124.39,147.74 124.68,146.48 124.96,150.63 125.25,148.15 125.53,147.89 125.80,148.80 125.80,148.54 126.08,146.21 126.35,147.67 126.62,145.07 126.89,146.40 127.15,145.62 127.42,141.74 127.68,142.76 127.94,140.89 128.20,140.52 128.20,140.90 128.45,141.58 128.71,143.12 128.96,145.80 129.21,144.55 129.46,144.87 129.70,145.90 129.70,147.04 129.95,146.57 130.19,146.99 130.43,149.30 130.67,151.10 130.91,146.31 131.14,148.37 131.38,150.83 131.61,149.28 131.70,150.80 131.84,150.42 132.07,146.03 132.30,149.47 132.53,146.20 132.75,147.31 132.97,146.42 133.20,147.24 133.42,148.44 133.64,142.94 133.70,144.90 134.20,151.73 134.45,151.32 134.70,147.90 134.94,156.94 135.19,146.46 135.43,149.15 135.67,153.22 135.91,153.39 136.15,153.36 136.38,147.73 136.62,156.87 136.85,149.45 137.08,150.08 137.31,150.47 137.54,150.58 137.76,148.91 137.99,156.21 138.21,152.33 138.43,155.04 138.65,146.86 138.87,151.98 139.09,150.55 139.31,152.44 139.52,152.28 139.73,153.13 139.95,151.42 140.16,151.66 140.37,151.98 140.57,152.44 140.78,151.96 140.99,150.38 141.19,152.90 141.39,149.15 141.60,159.30 141.80,156.98 142.00,159.38 142.19,153.16 142.39,148.08 142.59,146.45 142.78,148.05 142.98,149.01 143.17,150.03 143.36,150.39 143.55,154.05 143.74,145.89 143.93,156.73 144.11,152.14 144.30,152.90 144.49,147.04 144.67,151.84 144.85,147.82 145.04,153.05 145.22,153.80 145.40,153.62 145.58,152.34 145.75,151.71 145.93,151.43 146.11,155.92 146.28,153.93 146.46,154.07 146.63,162.81 146.81,155.56 146.98,150.51 147.15,145.94 147.32,145.03 147.49,151.10 147.66,155.97 147.82,150.33 147.99,148.82 148.16,151.46 148.32,153.38 148.49,157.04 148.65,153.87 148.81,151.34 148.98,155.51 149.14,150.74 149.30,148.31 149.46,148.70 149.62,151.20 149.77,151.58 149.93,153.17 150.09,153.77 150.24,163.46 150.40,157.66 150.55,147.88 150.71,147.93 150.86,152.81 151.01,150.83 151.17,162.19 151.32,154.15 151.47,152.69 151.62,154.16 151.77,153.26 151.91,156.00 152.06,153.66 152.21,155.25 152.36,152.30 152.50,147.08 152.65,153.68 152.79,161.08 152.94,152.40 153.08,151.96 153.22,156.89 153.36,153.18 153.51,154.63 153.65,153.75 153.79,156.75 153.93,154.66 154.07,163.40 154.20,156.87 154.34,154.29 154.48,149.89 154.62,153.82 154.75,151.34 154.89,156.39 155.02,157.52 155.16,165.69 155.29,154.28 155.43,155.33 155.56,159.40 155.69,149.37 155.83,155.91 155.96,163.29 156.09,157.27 156.22,155.61 156.35,160.45 156.48,157.62 156.61,157.04 156.74,159.26 156.86,153.42 156.99,163.11 157.12,155.81 157.25,155.56 157.37,154.08 157.50,148.20 157.62,148.56 157.75,152.33 157.87,154.71 158.00,160.16 158.12,167.12 158.24,161.40 158.37,156.61 158.49,153.60 158.61,161.05 158.73,154.64 158.85,155.41 158.97,161.45 159.09,156.65 159.21,155.58 159.33,156.45 159.45,150.60 159.57,154.13" fill="none" stroke="#0000ff" stroke-width="0.8" stroke-linejoin="round"/>
</g>
<rect x="27.80" y="107.40" width="131.80" height="63.60" fill="none" stroke="#7a7a7a" stroke-width="0.7"/>
<line x1="27.80" y1="171.00" x2="27.80" y2="170.10" stroke="#7a7a7a" stroke-width="0.6"/>
<line x1="27.80" y1="107.40" x2="27.80" y2="108.30" stroke="#7a7a7a" stroke-width="0.6"/>
<line x1="41.46" y1="171.00" x2="41.46" y2="170.10" stroke="#7a7a7a" stroke-width="0.6"/>
<line x1="41.46" y1="107.40" x2="41.46" y2="108.30" stroke="#7a7a7a" stroke-width="0.6"/>
<line x1="51.15" y1="171.00" x2="51.15" y2="170.10" stroke="#7a7a7a" stroke-width="0.6"/>
<line x1="51.15" y1="107.40" x2="51.15" y2="108.30" stroke="#7a7a7a" stroke-width="0.6"/>
<line x1="58.67" y1="171.00" x2="58.67" y2="170.10" stroke="#7a7a7a" stroke-width="0.6"/>
<line x1="58.67" y1="107.40" x2="58.67" y2="108.30" stroke="#7a7a7a" stroke-width="0.6"/>
<line x1="64.81" y1="171.00" x2="64.81" y2="170.10" stroke="#7a7a7a" stroke-width="0.6"/>
<line x1="64.81" y1="107.40" x2="64.81" y2="108.30" stroke="#7a7a7a" stroke-width="0.6"/>
<line x1="70.01" y1="171.00" x2="70.01" y2="170.10" stroke="#7a7a7a" stroke-width="0.6"/>
<line x1="70.01" y1="107.40" x2="70.01" y2="108.30" stroke="#7a7a7a" stroke-width="0.6"/>
<line x1="74.51" y1="171.00" x2="74.51" y2="170.10" stroke="#7a7a7a" stroke-width="0.6"/>
<line x1="74.51" y1="107.40" x2="74.51" y2="108.30" stroke="#7a7a7a" stroke-width="0.6"/>
<line x1="78.47" y1="171.00" x2="78.47" y2="170.10" stroke="#7a7a7a" stroke-width="0.6"/>
<line x1="78.47" y1="107.40" x2="78.47" y2="108.30" stroke="#7a7a7a" stroke-width="0.6"/>
<line x1="82.02" y1="171.00" x2="82.02" y2="169.56" stroke="#7a7a7a" stroke-width="0.6"/>
<line x1="82.02" y1="107.40" x2="82.02" y2="108.84" stroke="#7a7a7a" stroke-width="0.6"/>
<line x1="105.38" y1="171.00" x2="105.38" y2="170.10" stroke="#7a7a7a" stroke-width="0.6"/>
<line x1="105.38" y1="107.40" x2="105.38" y2="108.30" stroke="#7a7a7a" stroke-width="0.6"/>
<line x1="119.04" y1="171.00" x2="119.04" y2="170.10" stroke="#7a7a7a" stroke-width="0.6"/>
<line x1="119.04" y1="107.40" x2="119.04" y2="108.30" stroke="#7a7a7a" stroke-width="0.6"/>
<line x1="128.73" y1="171.00" x2="128.73" y2="170.10" stroke="#7a7a7a" stroke-width="0.6"/>
<line x1="128.73" y1="107.40" x2="128.73" y2="108.30" stroke="#7a7a7a" stroke-width="0.6"/>
<line x1="136.25" y1="171.00" x2="136.25" y2="170.10" stroke="#7a7a7a" stroke-width="0.6"/>
<line x1="136.25" y1="107.40" x2="136.25" y2="108.30" stroke="#7a7a7a" stroke-width="0.6"/>
<line x1="142.39" y1="171.00" x2="142.39" y2="170.10" stroke="#7a7a7a" stroke-width="0.6"/>
<line x1="142.39" y1="107.40" x2="142.39" y2="108.30" stroke="#7a7a7a" stroke-width="0.6"/>
<line x1="147.58" y1="171.00" x2="147.58" y2="170.10" stroke="#7a7a7a" stroke-width="0.6"/>
<line x1="147.58" y1="107.40" x2="147.58" y2="108.30" stroke="#7a7a7a" stroke-width="0.6"/>
<line x1="152.08" y1="171.00" x2="152.08" y2="170.10" stroke="#7a7a7a" stroke-width="0.6"/>
<line x1="152.08" y1="107.40" x2="152.08" y2="108.30" stroke="#7a7a7a" stroke-width="0.6"/>
<line x1="156.05" y1="171.00" x2="156.05" y2="170.10" stroke="#7a7a7a" stroke-width="0.6"/>
<line x1="156.05" y1="107.40" x2="156.05" y2="108.30" stroke="#7a7a7a" stroke-width="0.6"/>
<line x1="27.80" y1="171.00" x2="29.24" y2="171.00" stroke="#7a7a7a" stroke-width="0.6"/>
<line x1="159.60" y1="171.00" x2="158.16" y2="171.00" stroke="#7a7a7a" stroke-width="0.6"/>
<line x1="27.80" y1="167.17" x2="28.70" y2="167.17" stroke="#7a7a7a" stroke-width="0.6"/>
<line x1="159.60" y1="167.17" x2="158.70" y2="167.17" stroke="#7a7a7a" stroke-width="0.6"/>
<line x1="27.80" y1="164.93" x2="28.70" y2="164.93" stroke="#7a7a7a" stroke-width="0.6"/>
<line x1="159.60" y1="164.93" x2="158.70" y2="164.93" stroke="#7a7a7a" stroke-width="0.6"/>
<line x1="27.80" y1="163.34" x2="28.70" y2="163.34" stroke="#7a7a7a" stroke-width="0.6"/>
<line x1="159.60" y1="163.34" x2="158.70" y2="163.34" stroke="#7a7a7a" stroke-width="0.6"/>
<line x1="27.80" y1="162.11" x2="28.70" y2="162.11" stroke="#7a7a7a" stroke-width="0.6"/>
<line x1="159.60" y1="162.11" x2="158.70" y2="162.11" stroke="#7a7a7a" stroke-width="0.6"/>
<line x1="27.80" y1="161.10" x2="28.70" y2="161.10" stroke="#7a7a7a" stroke-width="0.6"/>
<line x1="159.60" y1="161.10" x2="158.70" y2="161.10" stroke="#7a7a7a" stroke-width="0.6"/>
<line x1="27.80" y1="160.25" x2="28.70" y2="160.25" stroke="#7a7a7a" stroke-width="0.6"/>
<line x1="159.60" y1="160.25" x2="158.70" y2="160.25" stroke="#7a7a7a" stroke-width="0.6"/>
<line x1="27.80" y1="159.51" x2="28.70" y2="159.51" stroke="#7a7a7a" stroke-width="0.6"/>
<line x1="159.60" y1="159.51" x2="158.70" y2="159.51" stroke="#7a7a7a" stroke-width="0.6"/>
<line x1="27.80" y1="158.86" x2="28.70" y2="158.86" stroke="#7a7a7a" stroke-width="0.6"/>
<line x1="159.60" y1="158.86" x2="158.70" y2="158.86" stroke="#7a7a7a" stroke-width="0.6"/>
<line x1="27.80" y1="158.28" x2="29.24" y2="158.28" stroke="#7a7a7a" stroke-width="0.6"/>
<line x1="159.60" y1="158.28" x2="158.16" y2="158.28" stroke="#7a7a7a" stroke-width="0.6"/>
<line x1="27.80" y1="154.45" x2="28.70" y2="154.45" stroke="#7a7a7a" stroke-width="0.6"/>
<line x1="159.60" y1="154.45" x2="158.70" y2="154.45" stroke="#7a7a7a" stroke-width="0.6"/>
<line x1="27.80" y1="152.21" x2="28.70" y2="152.21" stroke="#7a7a7a" stroke-width="0.6"/>
<line x1="159.60" y1="152.21" x2="158.70" y2="152.21" stroke="#7a7a7a" stroke-width="0.6"/>
<line x1="27.80" y1="150.62" x2="28.70" y2="150.62" stroke="#7a7a7a" stroke-width="0.6"/>
<line x1="159.60" y1="150.62" x2="158.70" y2="150.62" stroke="#7a7a7a" stroke-width="0.6"/>
<line x1="27.80" y1="149.39" x2="28.70" y2="149.39" stroke="#7a7a7a" stroke-width="0.6"/>
<line x1="159.60" y1="149.39" x2="158.70" y2="149.39" stroke="#7a7a7a" stroke-width="0.6"/>
<line x1="27.80" y1="148.38" x2="28.70" y2="148.38" stroke="#7a7a7a" stroke-width="0.6"/>
<line x1="159.60" y1="148.38" x2="158.70" y2="148.38" stroke="#7a7a7a" stroke-width="0.6"/>
<line x1="27.80" y1="147.53" x2="28.70" y2="147.53" stroke="#7a7a7a" stroke-width="0.6"/>
<line x1="159.60" y1="147.53" x2="158.70" y2="147.53" stroke="#7a7a7a" stroke-width="0.6"/>
<line x1="27.80" y1="146.79" x2="28.70" y2="146.79" stroke="#7a7a7a" stroke-width="0.6"/>
<line x1="159.60" y1="146.79" x2="158.70" y2="146.79" stroke="#7a7a7a" stroke-width="0.6"/>
<line x1="27.80" y1="146.14" x2="28.70" y2="146.14" stroke="#7a7a7a" stroke-width="0.6"/>
<line x1="159.60" y1="146.14" x2="158.70" y2="146.14" stroke="#7a7a7a" stroke-width="0.6"/>
<line x1="27.80" y1="145.56" x2="29.24" y2="145.56" stroke="#7a7a7a" stroke-width="0.6"/>
<line x1="159.60" y1="145.56" x2="158.16" y2="145.56" stroke="#7a7a7a" stroke-width="0.6"/>
<line x1="27.80" y1="141.73" x2="28.70" y2="141.73" stroke="#7a7a7a" stroke-width="0.6"/>
<line x1="159.60" y1="141.73" x2="158.70" y2="141.73" stroke="#7a7a7a" stroke-width="0.6"/>
<line x1="27.80" y1="139.49" x2="28.70" y2="139.49" stroke="#7a7a7a" stroke-width="0.6"/>
<line x1="159.60" y1="139.49" x2="158.70" y2="139.49" stroke="#7a7a7a" stroke-width="0.6"/>
<line x1="27.80" y1="137.90" x2="28.70" y2="137.90" stroke="#7a7a7a" stroke-width="0.6"/>
<line x1="159.60" y1="137.90" x2="158.70" y2="137.90" stroke="#7a7a7a" stroke-width="0.6"/>
<line x1="27.80" y1="136.67" x2="28.70" y2="136.67" stroke="#7a7a7a" stroke-width="0.6"/>
<line x1="159.60" y1="136.67" x2="158.70" y2="136.67" stroke="#7a7a7a" stroke-width="0.6"/>
<line x1="27.80" y1="135.66" x2="28.70" y2="135.66" stroke="#7a7a7a" stroke-width="0.6"/>
<line x1="159.60" y1="135.66" x2="158.70" y2="135.66" stroke="#7a7a7a" stroke-width="0.6"/>
<line x1="27.80" y1="134.81" x2="28.70" y2="134.81" stroke="#7a7a7a" stroke-width="0.6"/>
<line x1="159.60" y1="134.81" x2="158.70" y2="134.81" stroke="#7a7a7a" stroke-width="0.6"/>
<line x1="27.80" y1="134.07" x2="28.70" y2="134.07" stroke="#7a7a7a" stroke-width="0.6"/>
<line x1="159.60" y1="134.07" x2="158.70" y2="134.07" stroke="#7a7a7a" stroke-width="0.6"/>
<line x1="27.80" y1="133.42" x2="28.70" y2="133.42" stroke="#7a7a7a" stroke-width="0.6"/>
<line x1="159.60" y1="133.42" x2="158.70" y2="133.42" stroke="#7a7a7a" stroke-width="0.6"/>
<line x1="27.80" y1="132.84" x2="29.24" y2="132.84" stroke="#7a7a7a" stroke-width="0.6"/>
<line x1="159.60" y1="132.84" x2="158.16" y2="132.84" stroke="#7a7a7a" stroke-width="0.6"/>
<line x1="27.80" y1="129.01" x2="28.70" y2="129.01" stroke="#7a7a7a" stroke-width="0.6"/>
<line x1="159.60" y1="129.01" x2="158.70" y2="129.01" stroke="#7a7a7a" stroke-width="0.6"/>
<line x1="27.80" y1="126.77" x2="28.70" y2="126.77" stroke="#7a7a7a" stroke-width="0.6"/>
<line x1="159.60" y1="126.77" x2="158.70" y2="126.77" stroke="#7a7a7a" stroke-width="0.6"/>
<line x1="27.80" y1="125.18" x2="28.70" y2="125.18" stroke="#7a7a7a" stroke-width="0.6"/>
<line x1="159.60" y1="125.18" x2="158.70" y2="125.18" stroke="#7a7a7a" stroke-width="0.6"/>
<line x1="27.80" y1="123.95" x2="28.70" y2="123.95" stroke="#7a7a7a" stroke-width="0.6"/>
<line x1="159.60" y1="123.95" x2="158.70" y2="123.95" stroke="#7a7a7a" stroke-width="0.6"/>
<line x1="27.80" y1="122.94" x2="28.70" y2="122.94" stroke="#7a7a7a" stroke-width="0.6"/>
<line x1="159.60" y1="122.94" x2="158.70" y2="122.94" stroke="#7a7a7a" stroke-width="0.6"/>
<line x1="27.80" y1="122.09" x2="28.70" y2="122.09" stroke="#7a7a7a" stroke-width="0.6"/>
<line x1="159.60" y1="122.09" x2="158.70" y2="122.09" stroke="#7a7a7a" stroke-width="0.6"/>
<line x1="27.80" y1="121.35" x2="28.70" y2="121.35" stroke="#7a7a7a" stroke-width="0.6"/>
<line x1="159.60" y1="121.35" x2="158.70" y2="121.35" stroke="#7a7a7a" stroke-width="0.6"/>
<line x1="27.80" y1="120.70" x2="28.70" y2="120.70" stroke="#7a7a7a" stroke-width="0.6"/>
<line x1="159.60" y1="120.70" x2="158.70" y2="120.70" stroke="#7a7a7a" stroke-width="0.6"/>
<line x1="27.80" y1="120.12" x2="29.24" y2="120.12" stroke="#7a7a7a" stroke-width="0.6"/>
<line x1="159.60" y1="120.12" x2="158.16" y2="120.12" stroke="#7a7a7a" stroke-width="0.6"/>
<line x1="27.80" y1="116.29" x2="28.70" y2="116.29" stroke="#7a7a7a" stroke-width="0.6"/>
<line x1="159.60" y1="116.29" x2="158.70" y2="116.29" stroke="#7a7a7a" stroke-width="0.6"/>
<line x1="27.80" y1="114.05" x2="28.70" y2="114.05" stroke="#7a7a7a" stroke-width="0.6"/>
<line x1="159.60" y1="114.05" x2="158.70" y2="114.05" stroke="#7a7a7a" stroke-width="0.6"/>
<line x1="27.80" y1="112.46" x2="28.70" y2="112.46" stroke="#7a7a7a" stroke-width="0.6"/>
<line x1="159.60" y1="112.46" x2="158.70" y2="112.46" stroke="#7a7a7a" stroke-width="0.6"/>
<line x1="27.80" y1="111.23" x2="28.70" y2="111.23" stroke="#7a7a7a" stroke-width="0.6"/>
<line x1="159.60" y1="111.23" x2="158.70" y2="111.23" stroke="#7a7a7a" stroke-width="0.6"/>
<line x1="27.80" y1="110.22" x2="28.70" y2="110.22" stroke="#7a7a7a" stroke-width="0.6"/>
<line x1="159.60" y1="110.22" x2="158.70" y2="110.22" stroke="#7a7a7a" stroke-width="0.6"/>
<line x1="27.80" y1="109.37" x2="28.70" y2="109.37" stroke="#7a7a7a" stroke-width="0.6"/>
<line x1="159.60" y1="109.37" x2="158.70" y2="109.37" stroke="#7a7a7a" stroke-width="0.6"/>
<line x1="27.80" y1="108.63" x2="28.70" y2="108.63" stroke="#7a7a7a" stroke-width="0.6"/>
<line x1="159.60" y1="108.63" x2="158.70" y2="108.63" stroke="#7a7a7a" stroke-width="0.6"/>
<line x1="27.80" y1="107.98" x2="28.70" y2="107.98" stroke="#7a7a7a" stroke-width="0.6"/>
<line x1="159.60" y1="107.98" x2="158.70" y2="107.98" stroke="#7a7a7a" stroke-width="0.6"/>
<text x="25.20" y="112.00" text-anchor="end" class="tk">10<tspan class="sup" dy="-4.5">0</tspan></text>
<text x="25.20" y="137.44" text-anchor="end" class="tk">10<tspan class="sup" dy="-4.5">-2</tspan></text>
<text x="25.20" y="162.88" text-anchor="end" class="tk">10<tspan class="sup" dy="-4.5">-4</tspan></text>
<text x="82.12" y="183.30" text-anchor="middle" class="tk">10<tspan class="sup" dy="-4.0">0</tspan></text>
<text x="159.70" y="183.30" text-anchor="middle" class="tk">10<tspan class="sup" dy="-4.0">1</tspan></text>
<text x="93.70" y="192.30" text-anchor="middle" class="pl">(e)</text>
<text transform="translate(9.50,139.20) rotate(-90)" text-anchor="middle" class="yl">PSD (m<tspan class="sup2" dy="-4.4">2</tspan><tspan dy="4.4">/s</tspan><tspan class="sup2" dy="-4.4">2</tspan><tspan dy="4.4">/cpd)</tspan></text>
<line x1="243.25" y1="107.40" x2="243.25" y2="171.00" stroke="#6e6e6e" stroke-width="0.6"/>
<line x1="252.34" y1="107.40" x2="252.34" y2="171.00" stroke="#6e6e6e" stroke-width="0.6"/>
<line x1="254.90" y1="107.40" x2="254.90" y2="171.00" stroke="#6e6e6e" stroke-width="0.6"/>
<line x1="266.64" y1="107.40" x2="266.64" y2="171.00" stroke="#6e6e6e" stroke-width="0.6"/>
<line x1="271.50" y1="107.40" x2="271.50" y2="171.00" stroke="#6e6e6e" stroke-width="0.6"/>
<line x1="272.97" y1="107.40" x2="272.97" y2="171.00" stroke="#6e6e6e" stroke-width="0.6"/>
<line x1="277.03" y1="107.40" x2="277.03" y2="171.00" stroke="#6e6e6e" stroke-width="0.6"/>
<line x1="278.19" y1="107.40" x2="278.19" y2="171.00" stroke="#6e6e6e" stroke-width="0.6"/>
<clipPath id="cp11"><rect x="200.50" y="107.40" width="132.00" height="63.60"/></clipPath>
<g clip-path="url(#cp11)">
<polyline points="200.50,136.00 200.72,136.07 201.05,136.18 201.47,136.31 201.96,136.47 202.49,136.64 203.04,136.81 203.59,136.98 204.11,137.14 204.59,137.29 205.00,137.40 205.31,137.48 205.68,137.58 206.10,137.69 206.55,137.80 207.04,137.92 207.54,138.05 208.06,138.17 208.59,138.29 209.11,138.41 209.62,138.53 210.11,138.63 210.57,138.72 211.00,138.80 211.29,138.85 211.62,138.90 212.00,138.96 212.41,139.02 212.85,139.08 213.32,139.14 213.81,139.21 214.32,139.28 214.84,139.35 215.37,139.42 215.90,139.49 216.43,139.55 216.95,139.62 217.46,139.68 217.95,139.75 218.43,139.81 218.87,139.86 219.28,139.91 219.66,139.96 220.00,140.00 220.34,140.04 220.72,140.08 221.13,140.13 221.57,140.18 222.05,140.23 222.54,140.29 223.05,140.34 223.57,140.40 224.10,140.45 224.63,140.51 225.16,140.57 225.68,140.62 226.19,140.68 226.68,140.73 227.15,140.78 227.59,140.83 228.00,140.88 228.38,140.92 228.71,140.96 229.00,141.00 229.42,141.06 229.87,141.13 230.35,141.21 230.84,141.30 231.34,141.39 231.85,141.49 232.35,141.58 232.85,141.67 233.33,141.76 233.80,141.84 234.23,141.90 234.64,141.96 235.00,142.00 235.35,142.03 235.77,142.06 236.24,142.08 236.75,142.10 237.29,142.12 237.85,142.14 238.42,142.15 238.99,142.17 239.54,142.18 240.07,142.18 240.56,142.19 241.00,142.20 241.39,142.20 241.70,142.20 242.16,142.20 242.66,142.21 243.19,142.21 243.73,142.21 244.26,142.20 244.77,142.18 245.24,142.14 245.66,142.08 246.00,142.00 246.42,141.82 246.91,141.56 247.44,141.23 247.97,140.86 248.50,140.48 248.98,140.12 249.40,139.80 249.75,139.51 250.18,139.10 250.67,138.62 251.21,138.10 251.75,137.58 252.29,137.10 252.79,136.70 253.24,136.42 253.60,136.30 254.01,136.37 254.49,136.60 255.04,136.96 255.60,137.40 256.16,137.86 256.68,138.32 257.14,138.71 257.50,139.00 257.95,139.35 258.47,139.79 259.02,140.25 259.56,140.70 260.07,141.06 260.50,141.30 260.90,141.40 261.40,141.46 261.98,141.48 262.57,141.49 263.13,141.51 263.63,141.54 264.00,141.60 264.45,141.76 264.95,141.99 265.47,142.28 265.99,142.62 266.50,143.00 266.80,143.28 267.19,143.70 267.66,144.21 268.17,144.79 268.71,145.38 269.25,145.96 269.78,146.48 270.26,146.90 270.67,147.19 271.00,147.30 271.44,147.15 271.94,146.73 272.48,146.12 273.02,145.44 273.55,144.69 274.01,143.94 274.40,143.29 274.80,142.76 275.29,141.72 275.84,140.46 276.40,139.63 276.93,138.53 277.37,137.85 277.70,137.62 278.32,137.96 278.92,139.72 279.40,140.67 279.85,142.47 280.39,144.62 280.90,145.61 281.28,146.30 281.80,146.20 282.38,146.17 282.94,146.00 283.40,146.46 283.79,146.36 284.28,146.94 284.84,146.74 285.41,147.05 285.94,147.44 286.40,146.84 286.77,147.23 287.24,146.63 287.79,146.50 288.37,145.37 288.95,144.73 289.49,143.98 289.95,143.19 290.30,143.33 290.80,143.81 291.35,143.81 291.91,144.83 292.41,145.58 292.80,146.61 293.27,146.61 293.82,148.19 294.36,149.12 294.80,149.06 295.24,149.59 295.80,150.15 296.36,149.54 296.80,150.02 297.21,149.01 297.72,148.53 298.26,146.64 298.80,146.34 299.14,146.61 299.61,146.10 300.17,146.10 300.77,146.12 301.37,146.64 301.92,146.19 302.38,146.68 302.70,146.06 303.24,147.58 303.69,149.36 304.20,150.16 304.54,150.35 305.03,150.61 305.60,150.06 306.21,149.72 306.80,149.51 307.32,149.15 307.70,148.40 308.17,148.62 308.71,149.77 309.27,150.20 309.78,150.33 310.20,150.72 310.63,150.76 311.18,151.33 311.76,151.64 312.29,152.19 312.70,151.89 313.17,150.84 313.73,149.06 314.27,147.88 314.70,146.89 315.12,148.56 315.63,148.58 316.15,150.95 316.60,151.46 317.00,152.28 317.53,151.61 318.12,150.87 318.67,150.55 319.10,150.16 319.52,149.62 320.05,151.85 320.61,150.93 321.15,151.91 321.60,152.51 322.00,153.31 322.53,152.58 323.12,152.38 323.71,151.61 324.22,152.59 324.60,151.51 325.08,153.15 325.62,152.51 326.15,152.52 326.60,152.83 327.00,153.49 327.51,153.50 328.07,153.71 328.63,153.22 329.10,152.83 329.48,152.98 330.01,152.25 330.60,152.68 331.21,153.77 331.77,153.80 332.22,154.46 332.50,153.18" fill="none" stroke="#0000ff" stroke-width="0.8" stroke-linejoin="round"/>
<polyline points="200.50,136.80 200.72,136.86 201.05,136.94 201.47,137.05 201.96,137.17 202.49,137.30 203.04,137.44 203.59,137.57 204.11,137.70 204.59,137.81 205.00,137.90 205.32,137.97 205.71,138.05 206.16,138.15 206.64,138.25 207.16,138.36 207.70,138.47 208.25,138.58 208.79,138.69 209.32,138.78 209.81,138.86 210.27,138.93 210.67,138.98 211.00,139.00 211.38,139.00 211.80,138.98 212.26,138.94 212.75,138.89 213.25,138.82 213.75,138.74 214.25,138.66 214.74,138.57 215.20,138.48 215.62,138.39 216.00,138.30 216.33,138.21 216.72,138.10 217.16,137.96 217.65,137.81 218.16,137.64 218.69,137.46 219.23,137.28 219.76,137.10 220.28,136.93 220.77,136.77 221.23,136.62 221.64,136.50 222.00,136.40 222.35,136.31 222.76,136.22 223.21,136.12 223.69,136.01 224.20,135.91 224.72,135.80 225.25,135.70 225.78,135.59 226.29,135.50 226.77,135.41 227.23,135.33 227.64,135.26 228.00,135.20 228.34,135.16 228.74,135.13 229.18,135.10 229.66,135.08 230.17,135.06 230.70,135.04 231.23,135.02 231.76,134.98 232.27,134.94 232.77,134.89 233.23,134.82 233.64,134.74 234.00,134.63 234.30,134.50 234.74,134.20 235.22,133.76 235.72,133.22 236.24,132.61 236.76,131.95 237.26,131.28 237.73,130.62 238.15,130.02 238.50,129.50 238.91,128.82 239.39,127.91 239.93,126.85 240.50,125.74 241.06,124.64 241.58,123.67 242.04,122.89 242.40,122.40 242.87,122.09 243.42,121.97 244.01,121.98 244.59,122.08 245.10,122.20 245.50,122.30 245.95,122.49 246.48,122.83 247.03,123.20 247.56,123.49 248.00,123.60 248.40,123.48 248.93,123.20 249.52,122.84 250.11,122.47 250.62,122.16 251.00,122.00 251.48,121.93 252.00,121.95 252.52,122.10 253.00,122.40 253.37,122.79 253.87,123.41 254.43,124.16 255.01,124.96 255.55,125.74 256.00,126.40 256.40,127.03 256.90,127.88 257.48,128.85 258.07,129.87 258.63,130.84 259.13,131.68 259.50,132.30 259.97,133.05 260.50,133.88 261.04,134.72 261.56,135.45 262.00,136.00 262.41,136.39 262.95,136.84 263.54,137.30 264.13,137.73 264.64,138.08 265.00,138.30 265.47,138.47 265.92,138.48 266.50,138.50 266.77,138.54 267.15,138.61 267.61,138.70 268.12,138.79 268.67,138.88 269.22,138.96 269.75,139.01 270.25,139.03 270.67,139.00 271.00,138.90 271.44,138.59 271.95,138.06 272.49,137.48 273.04,136.78 273.56,136.19 274.02,135.43 274.40,134.85 274.84,134.03 275.38,133.39 275.96,132.25 276.53,131.11 277.03,130.56 277.40,130.03 277.88,130.74 278.42,131.38 278.95,132.40 279.40,133.38 279.79,134.36 280.31,136.53 280.87,138.37 281.42,140.47 281.90,141.05 282.28,141.45 282.79,141.77 283.37,141.64 283.97,140.83 284.55,140.45 285.04,140.67 285.40,140.57 285.90,140.40 286.43,140.88 286.94,141.24 287.40,141.14 287.77,140.85 288.28,140.56 288.85,139.54 289.42,138.99 289.93,137.75 290.30,137.37 290.79,137.17 291.34,137.77 291.87,138.00 292.30,138.41 292.74,139.90 293.28,141.31 293.83,142.34 294.30,143.29 294.72,143.34 295.27,143.37 295.87,143.91 296.41,144.03 296.80,144.05 297.31,144.65 297.83,145.67 298.30,146.40 298.72,145.49 299.28,143.53 299.85,142.42 300.30,140.96 300.72,140.92 301.25,141.32 301.78,141.01 302.20,141.17 302.64,143.48 303.20,144.99 303.75,147.73 304.20,148.43 304.64,148.58 305.18,147.75 305.73,145.70 306.20,146.19 306.61,145.26 307.14,144.75 307.72,144.44 308.27,144.69 308.70,144.78 309.12,145.50 309.65,145.57 310.21,147.43 310.75,147.77 311.20,149.25 311.61,149.21 312.14,147.69 312.73,146.99 313.31,145.80 313.82,145.26 314.20,144.01 314.68,144.56 315.22,145.93 315.72,148.65 316.10,149.34 316.57,149.63 317.12,150.64 317.60,150.86 318.02,150.28 318.58,148.88 319.15,147.65 319.60,146.64 320.04,147.48 320.60,149.86 321.16,150.47 321.60,150.83 322.04,150.43 322.60,149.86 323.16,149.28 323.60,148.44 324.04,149.40 324.60,150.41 325.16,150.85 325.60,151.35 326.04,151.06 326.60,150.50 327.16,151.08 327.60,148.91 328.05,150.40 328.60,150.75 329.16,151.27 329.60,151.86 330.04,151.95 330.59,150.28 331.12,149.16 331.50,148.42 332.08,150.09 332.50,152.37" fill="none" stroke="#ff0000" stroke-width="0.8" stroke-linejoin="round"/>
</g>
<rect x="200.50" y="107.40" width="132.00" height="63.60" fill="none" stroke="#7a7a7a" stroke-width="0.7"/>
<line x1="200.50" y1="171.00" x2="200.50" y2="170.10" stroke="#7a7a7a" stroke-width="0.6"/>
<line x1="200.50" y1="107.40" x2="200.50" y2="108.30" stroke="#7a7a7a" stroke-width="0.6"/>
<line x1="214.18" y1="171.00" x2="214.18" y2="170.10" stroke="#7a7a7a" stroke-width="0.6"/>
<line x1="214.18" y1="107.40" x2="214.18" y2="108.30" stroke="#7a7a7a" stroke-width="0.6"/>
<line x1="223.89" y1="171.00" x2="223.89" y2="170.10" stroke="#7a7a7a" stroke-width="0.6"/>
<line x1="223.89" y1="107.40" x2="223.89" y2="108.30" stroke="#7a7a7a" stroke-width="0.6"/>
<line x1="231.42" y1="171.00" x2="231.42" y2="170.10" stroke="#7a7a7a" stroke-width="0.6"/>
<line x1="231.42" y1="107.40" x2="231.42" y2="108.30" stroke="#7a7a7a" stroke-width="0.6"/>
<line x1="237.57" y1="171.00" x2="237.57" y2="170.10" stroke="#7a7a7a" stroke-width="0.6"/>
<line x1="237.57" y1="107.40" x2="237.57" y2="108.30" stroke="#7a7a7a" stroke-width="0.6"/>
<line x1="242.77" y1="171.00" x2="242.77" y2="170.10" stroke="#7a7a7a" stroke-width="0.6"/>
<line x1="242.77" y1="107.40" x2="242.77" y2="108.30" stroke="#7a7a7a" stroke-width="0.6"/>
<line x1="247.28" y1="171.00" x2="247.28" y2="170.10" stroke="#7a7a7a" stroke-width="0.6"/>
<line x1="247.28" y1="107.40" x2="247.28" y2="108.30" stroke="#7a7a7a" stroke-width="0.6"/>
<line x1="251.25" y1="171.00" x2="251.25" y2="170.10" stroke="#7a7a7a" stroke-width="0.6"/>
<line x1="251.25" y1="107.40" x2="251.25" y2="108.30" stroke="#7a7a7a" stroke-width="0.6"/>
<line x1="254.81" y1="171.00" x2="254.81" y2="169.56" stroke="#7a7a7a" stroke-width="0.6"/>
<line x1="254.81" y1="107.40" x2="254.81" y2="108.84" stroke="#7a7a7a" stroke-width="0.6"/>
<line x1="278.19" y1="171.00" x2="278.19" y2="170.10" stroke="#7a7a7a" stroke-width="0.6"/>
<line x1="278.19" y1="107.40" x2="278.19" y2="108.30" stroke="#7a7a7a" stroke-width="0.6"/>
<line x1="291.88" y1="171.00" x2="291.88" y2="170.10" stroke="#7a7a7a" stroke-width="0.6"/>
<line x1="291.88" y1="107.40" x2="291.88" y2="108.30" stroke="#7a7a7a" stroke-width="0.6"/>
<line x1="301.58" y1="171.00" x2="301.58" y2="170.10" stroke="#7a7a7a" stroke-width="0.6"/>
<line x1="301.58" y1="107.40" x2="301.58" y2="108.30" stroke="#7a7a7a" stroke-width="0.6"/>
<line x1="309.11" y1="171.00" x2="309.11" y2="170.10" stroke="#7a7a7a" stroke-width="0.6"/>
<line x1="309.11" y1="107.40" x2="309.11" y2="108.30" stroke="#7a7a7a" stroke-width="0.6"/>
<line x1="315.26" y1="171.00" x2="315.26" y2="170.10" stroke="#7a7a7a" stroke-width="0.6"/>
<line x1="315.26" y1="107.40" x2="315.26" y2="108.30" stroke="#7a7a7a" stroke-width="0.6"/>
<line x1="320.47" y1="171.00" x2="320.47" y2="170.10" stroke="#7a7a7a" stroke-width="0.6"/>
<line x1="320.47" y1="107.40" x2="320.47" y2="108.30" stroke="#7a7a7a" stroke-width="0.6"/>
<line x1="324.97" y1="171.00" x2="324.97" y2="170.10" stroke="#7a7a7a" stroke-width="0.6"/>
<line x1="324.97" y1="107.40" x2="324.97" y2="108.30" stroke="#7a7a7a" stroke-width="0.6"/>
<line x1="328.94" y1="171.00" x2="328.94" y2="170.10" stroke="#7a7a7a" stroke-width="0.6"/>
<line x1="328.94" y1="107.40" x2="328.94" y2="108.30" stroke="#7a7a7a" stroke-width="0.6"/>
<line x1="200.50" y1="160.40" x2="201.94" y2="160.40" stroke="#7a7a7a" stroke-width="0.6"/>
<line x1="332.50" y1="160.40" x2="331.06" y2="160.40" stroke="#7a7a7a" stroke-width="0.6"/>
<line x1="200.50" y1="149.80" x2="201.94" y2="149.80" stroke="#7a7a7a" stroke-width="0.6"/>
<line x1="332.50" y1="149.80" x2="331.06" y2="149.80" stroke="#7a7a7a" stroke-width="0.6"/>
<line x1="200.50" y1="139.20" x2="201.94" y2="139.20" stroke="#7a7a7a" stroke-width="0.6"/>
<line x1="332.50" y1="139.20" x2="331.06" y2="139.20" stroke="#7a7a7a" stroke-width="0.6"/>
<line x1="200.50" y1="128.60" x2="201.94" y2="128.60" stroke="#7a7a7a" stroke-width="0.6"/>
<line x1="332.50" y1="128.60" x2="331.06" y2="128.60" stroke="#7a7a7a" stroke-width="0.6"/>
<line x1="200.50" y1="118.00" x2="201.94" y2="118.00" stroke="#7a7a7a" stroke-width="0.6"/>
<line x1="332.50" y1="118.00" x2="331.06" y2="118.00" stroke="#7a7a7a" stroke-width="0.6"/>
<text x="197.90" y="143.80" text-anchor="end" class="tk">10<tspan class="sup" dy="-4.5">-5</tspan></text>
<text x="254.91" y="183.30" text-anchor="middle" class="tk">10<tspan class="sup" dy="-4.0">0</tspan></text>
<text x="332.60" y="183.30" text-anchor="middle" class="tk">10<tspan class="sup" dy="-4.0">1</tspan></text>
<text x="266.50" y="192.30" text-anchor="middle" class="pl">(f)</text>
<text transform="translate(182.20,139.20) rotate(-90)" text-anchor="middle" class="yl">PSD (m<tspan class="sup2" dy="-4.4">2</tspan><tspan dy="4.4">/s</tspan><tspan class="sup2" dy="-4.4">2</tspan><tspan dy="4.4">/cpd)</tspan></text>
<line x1="417.72" y1="107.40" x2="417.72" y2="171.00" stroke="#6e6e6e" stroke-width="0.6"/>
<line x1="426.80" y1="107.40" x2="426.80" y2="171.00" stroke="#6e6e6e" stroke-width="0.6"/>
<line x1="429.36" y1="107.40" x2="429.36" y2="171.00" stroke="#6e6e6e" stroke-width="0.6"/>
<line x1="441.09" y1="107.40" x2="441.09" y2="171.00" stroke="#6e6e6e" stroke-width="0.6"/>
<line x1="445.94" y1="107.40" x2="445.94" y2="171.00" stroke="#6e6e6e" stroke-width="0.6"/>
<line x1="447.41" y1="107.40" x2="447.41" y2="171.00" stroke="#6e6e6e" stroke-width="0.6"/>
<line x1="451.47" y1="107.40" x2="451.47" y2="171.00" stroke="#6e6e6e" stroke-width="0.6"/>
<line x1="452.64" y1="107.40" x2="452.64" y2="171.00" stroke="#6e6e6e" stroke-width="0.6"/>
<clipPath id="cp12"><rect x="375.00" y="107.40" width="131.90" height="63.60"/></clipPath>
<g clip-path="url(#cp12)">
<polyline points="375.00,149.10 380.00,151.40 387.40,150.40 393.40,154.40 397.80,153.90 402.80,152.10 407.80,153.90 411.20,152.90 414.20,146.20 416.70,148.40 419.70,142.50 422.70,139.40 427.10,129.40 429.10,131.90 431.10,132.90 432.60,140.90 435.10,143.80 438.00,148.00 438.00,148.02 438.77,150.18 439.53,151.57 440.26,151.15 440.99,151.28 441.10,152.20 441.69,152.75 442.39,155.43 443.06,156.58 443.10,154.30 443.73,154.31 444.38,152.67 445.02,151.38 445.20,152.70 445.65,151.05 446.27,152.10 446.87,150.65 447.20,150.70 447.47,149.69 448.05,149.17 448.63,145.18 449.19,144.02 449.30,145.50 449.75,143.03 450.29,140.23 450.83,138.00 451.30,136.30 451.36,136.66 451.88,138.22 452.39,139.78 452.90,140.24 453.40,141.36 453.40,140.40 453.89,143.65 454.37,147.72 454.85,150.13 454.90,149.60 455.32,150.07 455.78,150.67 456.00,152.30 456.24,151.64 456.69,152.99 457.14,155.23 457.58,155.67 458.01,153.37 458.44,155.71 458.86,154.36 459.28,157.22 459.60,158.50 459.69,157.07 460.10,157.72 460.50,159.02 460.90,155.13 461.30,154.24 461.68,157.32 462.07,153.97 462.45,156.43 462.60,154.30 462.83,153.87 463.20,151.95 463.56,149.60 463.93,148.26 464.29,150.07 464.64,151.05 465.00,148.09 465.20,148.70 465.35,148.19 465.69,151.48 466.03,150.35 466.37,151.29 466.71,152.17 467.04,154.88 467.37,156.12 467.69,155.08 467.80,157.90 468.01,160.82 468.33,157.46 468.65,160.27 468.96,159.64 469.27,159.57 469.58,157.92 469.88,158.94 470.18,159.50 470.48,158.28 470.78,162.92 471.07,160.32 471.37,158.70 471.40,162.00 471.65,163.80 471.94,158.91 472.23,161.55 472.51,156.04 472.79,160.18 473.06,154.79 473.34,153.86 473.61,155.38 473.88,151.30 474.15,153.56 474.40,152.30 474.42,154.99 474.68,152.98 474.94,152.66 475.20,153.94 475.46,154.70 475.72,155.26 475.97,155.28 476.22,155.66 476.47,154.83 476.72,157.16 476.97,158.07 477.00,157.00 477.21,157.32 477.46,161.14 477.70,161.19 477.94,161.37 478.17,158.81 478.41,158.09 478.65,159.54 478.88,159.40 479.00,161.00 479.50,155.53 479.88,157.77 480.25,160.13 480.62,163.23 480.99,155.10 481.35,154.87 481.71,154.38 482.06,155.66 482.41,156.44 482.76,154.04 483.10,157.14 483.44,153.95 483.78,157.92 484.11,155.34 484.44,157.74 484.77,158.83 485.09,157.61 485.41,156.13 485.73,155.37 486.04,154.40 486.35,161.31 486.66,160.41 486.97,164.31 487.27,160.51 487.57,159.57 487.87,156.83 488.16,157.07 488.46,154.01 488.75,159.77 489.03,161.51 489.32,163.65 489.60,164.16 489.88,156.81 490.16,152.72 490.44,158.88 490.71,159.27 490.98,156.09 491.25,155.54 491.52,160.07 491.78,164.70 492.05,161.41 492.31,157.45 492.57,160.90 492.82,162.73 493.08,156.49 493.33,160.46 493.58,156.65 493.83,158.43 494.08,160.31 494.32,159.52 494.57,155.28 494.81,159.17 495.05,155.45 495.29,160.20 495.53,154.57 495.76,156.68 496.00,157.32 496.23,156.93 496.46,159.38 496.69,160.19 496.91,165.63 497.14,162.38 497.37,163.80 497.59,157.37 497.81,162.32 498.03,163.09 498.25,165.05 498.47,165.76 498.68,158.53 498.90,155.99 499.11,156.75 499.32,157.34 499.53,163.64 499.74,155.48 499.95,158.90 500.15,162.91 500.36,160.28 500.56,156.27 500.77,156.73 500.97,160.89 501.17,162.72 501.37,160.36 501.57,161.34 501.76,165.18 501.96,160.41 502.15,167.13 502.35,158.97 502.54,166.44 502.73,157.66 502.92,164.06 503.11,161.40 503.30,156.53 503.49,159.87 503.67,162.16 503.86,162.91 504.04,161.59 504.22,160.42 504.41,159.78 504.59,160.83 504.77,164.84 504.95,163.35 505.12,163.77 505.30,162.22 505.48,166.02 505.65,170.08 505.83,171.19 506.00,159.50 506.17,158.18 506.35,157.41 506.52,159.10 506.69,167.34 506.86,161.44" fill="none" stroke="#ff0000" stroke-width="0.8" stroke-linejoin="round"/>
<polyline points="375.00,143.70 379.00,145.30 383.90,147.50 387.90,147.20 391.90,149.30 393.40,149.60 396.80,147.00 400.80,142.00 403.80,143.20 408.70,143.20 411.20,143.00 412.70,144.40 414.70,137.90 417.70,129.40 420.70,129.40 423.60,133.90 425.60,134.40 427.10,131.40 428.60,133.90 430.10,134.90 431.60,141.90 433.10,141.40 434.10,143.40 436.10,143.80 438.00,149.21 438.50,149.30 438.77,149.68 439.53,146.49 440.10,143.50 440.26,142.95 440.99,142.61 441.69,142.79 442.10,141.90 442.39,143.01 443.06,143.79 443.73,144.97 444.20,145.00 444.38,147.41 445.02,147.53 445.65,149.08 446.20,149.60 446.27,151.78 446.87,148.55 447.47,149.33 448.05,148.98 448.30,148.10 448.63,148.76 449.19,146.73 449.75,144.44 449.80,145.50 450.29,139.82 450.83,136.18 451.30,132.70 451.36,132.57 451.88,135.05 452.39,135.74 452.90,138.91 452.90,140.40 453.40,143.54 453.89,145.92 454.37,146.95 454.40,149.70 454.85,150.15 455.32,149.85 455.78,150.32 456.24,149.01 456.69,152.94 457.00,150.80 457.14,151.30 457.58,149.58 458.01,152.93 458.44,154.59 458.50,154.30 458.86,153.50 459.28,150.57 459.69,154.08 460.10,152.30 460.10,152.70 460.50,153.65 460.90,151.32 461.30,150.65 461.68,151.49 462.07,150.44 462.10,151.30 462.45,149.24 462.83,149.06 463.20,152.22 463.56,150.44 463.93,150.01 464.29,146.10 464.64,148.40 464.70,148.20 465.00,150.61 465.35,151.44 465.69,152.80 466.03,149.35 466.37,149.56 466.70,152.80 466.71,153.07 467.04,154.31 467.37,157.20 467.69,156.69 468.01,154.97 468.33,154.90 468.65,155.88 468.80,156.40 468.96,154.29 469.27,152.77 469.58,155.77 469.88,154.03 470.18,151.54 470.48,151.93 470.78,153.45 470.90,151.80 471.07,151.56 471.37,153.09 471.65,154.07 471.94,155.49 472.23,156.42 472.51,154.41 472.79,154.41 472.90,154.90 473.06,154.63 473.34,155.03 473.61,152.53 473.88,151.40 474.15,153.93 474.42,151.88 474.68,149.73 474.94,150.37 475.00,149.20 475.20,150.65 475.46,153.07 475.72,152.15 475.97,154.78 476.22,155.54 476.47,154.06 476.72,155.30 476.97,157.82 477.00,156.40 477.21,157.81 477.46,159.32 477.70,157.80 477.94,159.96 478.17,158.95 478.41,158.83 478.65,160.29 478.88,159.36 479.10,160.50 479.11,159.66 479.34,161.89 479.57,158.47 479.79,160.45 480.02,158.02 480.24,153.89 480.47,155.54 480.69,154.06 480.91,153.30 481.10,153.30 481.60,155.48 481.96,155.39 482.31,155.58 482.65,157.91 483.00,156.26 483.34,152.63 483.68,156.21 484.01,155.66 484.34,155.71 484.67,156.65 484.99,157.26 485.31,160.20 485.63,159.48 485.95,157.78 486.26,155.19 486.57,153.99 486.88,156.89 487.18,160.89 487.48,158.17 487.78,157.18 488.08,158.77 488.37,154.02 488.66,155.72 488.95,158.40 489.23,160.31 489.52,157.60 489.80,158.72 490.08,158.68 490.35,160.29 490.63,155.47 490.90,158.84 491.17,154.29 491.44,151.76 491.70,154.74 491.97,154.87 492.23,159.73 492.49,160.50 492.75,155.52 493.00,159.95 493.26,156.01 493.51,157.50 493.76,157.35 494.01,158.47 494.25,160.89 494.50,161.00 494.74,160.18 494.98,160.92 495.22,160.62 495.46,157.40 495.69,156.46 495.93,156.90 496.16,159.75 496.39,158.36 496.62,166.18 496.85,158.19 497.07,155.86 497.30,160.40 497.52,163.85 497.74,161.76 497.96,162.34 498.18,164.50 498.40,160.15 498.62,155.67 498.83,156.89 499.05,161.52 499.26,155.97 499.47,158.57 499.68,159.94 499.89,158.68 500.09,161.46 500.30,161.78 500.50,167.86 500.71,163.47 500.91,158.77 501.11,157.88 501.31,156.98 501.51,161.88 501.70,158.65 501.90,159.31 502.10,162.00 502.29,158.32 502.48,158.67 502.67,154.88 502.86,155.79 503.05,157.34 503.24,160.56 503.43,163.99 503.62,160.98 503.80,161.14 503.99,160.92 504.17,163.83 504.35,163.98 504.53,162.01 504.71,157.85 504.89,162.45 505.07,162.06 505.25,164.78 505.42,161.37 505.60,167.24 505.78,160.93 505.95,165.86 506.12,162.15 506.29,159.45 506.47,157.21 506.64,159.30 506.81,164.90" fill="none" stroke="#0000ff" stroke-width="0.8" stroke-linejoin="round"/>
</g>
<rect x="375.00" y="107.40" width="131.90" height="63.60" fill="none" stroke="#7a7a7a" stroke-width="0.7"/>
<line x1="375.00" y1="171.00" x2="375.00" y2="170.10" stroke="#7a7a7a" stroke-width="0.6"/>
<line x1="375.00" y1="107.40" x2="375.00" y2="108.30" stroke="#7a7a7a" stroke-width="0.6"/>
<line x1="388.67" y1="171.00" x2="388.67" y2="170.10" stroke="#7a7a7a" stroke-width="0.6"/>
<line x1="388.67" y1="107.40" x2="388.67" y2="108.30" stroke="#7a7a7a" stroke-width="0.6"/>
<line x1="398.37" y1="171.00" x2="398.37" y2="170.10" stroke="#7a7a7a" stroke-width="0.6"/>
<line x1="398.37" y1="107.40" x2="398.37" y2="108.30" stroke="#7a7a7a" stroke-width="0.6"/>
<line x1="405.89" y1="171.00" x2="405.89" y2="170.10" stroke="#7a7a7a" stroke-width="0.6"/>
<line x1="405.89" y1="107.40" x2="405.89" y2="108.30" stroke="#7a7a7a" stroke-width="0.6"/>
<line x1="412.04" y1="171.00" x2="412.04" y2="170.10" stroke="#7a7a7a" stroke-width="0.6"/>
<line x1="412.04" y1="107.40" x2="412.04" y2="108.30" stroke="#7a7a7a" stroke-width="0.6"/>
<line x1="417.24" y1="171.00" x2="417.24" y2="170.10" stroke="#7a7a7a" stroke-width="0.6"/>
<line x1="417.24" y1="107.40" x2="417.24" y2="108.30" stroke="#7a7a7a" stroke-width="0.6"/>
<line x1="421.74" y1="171.00" x2="421.74" y2="170.10" stroke="#7a7a7a" stroke-width="0.6"/>
<line x1="421.74" y1="107.40" x2="421.74" y2="108.30" stroke="#7a7a7a" stroke-width="0.6"/>
<line x1="425.71" y1="171.00" x2="425.71" y2="170.10" stroke="#7a7a7a" stroke-width="0.6"/>
<line x1="425.71" y1="107.40" x2="425.71" y2="108.30" stroke="#7a7a7a" stroke-width="0.6"/>
<line x1="429.26" y1="171.00" x2="429.26" y2="169.56" stroke="#7a7a7a" stroke-width="0.6"/>
<line x1="429.26" y1="107.40" x2="429.26" y2="108.84" stroke="#7a7a7a" stroke-width="0.6"/>
<line x1="452.64" y1="171.00" x2="452.64" y2="170.10" stroke="#7a7a7a" stroke-width="0.6"/>
<line x1="452.64" y1="107.40" x2="452.64" y2="108.30" stroke="#7a7a7a" stroke-width="0.6"/>
<line x1="466.31" y1="171.00" x2="466.31" y2="170.10" stroke="#7a7a7a" stroke-width="0.6"/>
<line x1="466.31" y1="107.40" x2="466.31" y2="108.30" stroke="#7a7a7a" stroke-width="0.6"/>
<line x1="476.01" y1="171.00" x2="476.01" y2="170.10" stroke="#7a7a7a" stroke-width="0.6"/>
<line x1="476.01" y1="107.40" x2="476.01" y2="108.30" stroke="#7a7a7a" stroke-width="0.6"/>
<line x1="483.53" y1="171.00" x2="483.53" y2="170.10" stroke="#7a7a7a" stroke-width="0.6"/>
<line x1="483.53" y1="107.40" x2="483.53" y2="108.30" stroke="#7a7a7a" stroke-width="0.6"/>
<line x1="489.68" y1="171.00" x2="489.68" y2="170.10" stroke="#7a7a7a" stroke-width="0.6"/>
<line x1="489.68" y1="107.40" x2="489.68" y2="108.30" stroke="#7a7a7a" stroke-width="0.6"/>
<line x1="494.87" y1="171.00" x2="494.87" y2="170.10" stroke="#7a7a7a" stroke-width="0.6"/>
<line x1="494.87" y1="107.40" x2="494.87" y2="108.30" stroke="#7a7a7a" stroke-width="0.6"/>
<line x1="499.38" y1="171.00" x2="499.38" y2="170.10" stroke="#7a7a7a" stroke-width="0.6"/>
<line x1="499.38" y1="107.40" x2="499.38" y2="108.30" stroke="#7a7a7a" stroke-width="0.6"/>
<line x1="503.35" y1="171.00" x2="503.35" y2="170.10" stroke="#7a7a7a" stroke-width="0.6"/>
<line x1="503.35" y1="107.40" x2="503.35" y2="108.30" stroke="#7a7a7a" stroke-width="0.6"/>
<line x1="375.00" y1="171.00" x2="376.44" y2="171.00" stroke="#7a7a7a" stroke-width="0.6"/>
<line x1="506.90" y1="171.00" x2="505.46" y2="171.00" stroke="#7a7a7a" stroke-width="0.6"/>
<line x1="375.00" y1="167.17" x2="375.90" y2="167.17" stroke="#7a7a7a" stroke-width="0.6"/>
<line x1="506.90" y1="167.17" x2="506.00" y2="167.17" stroke="#7a7a7a" stroke-width="0.6"/>
<line x1="375.00" y1="164.93" x2="375.90" y2="164.93" stroke="#7a7a7a" stroke-width="0.6"/>
<line x1="506.90" y1="164.93" x2="506.00" y2="164.93" stroke="#7a7a7a" stroke-width="0.6"/>
<line x1="375.00" y1="163.34" x2="375.90" y2="163.34" stroke="#7a7a7a" stroke-width="0.6"/>
<line x1="506.90" y1="163.34" x2="506.00" y2="163.34" stroke="#7a7a7a" stroke-width="0.6"/>
<line x1="375.00" y1="162.11" x2="375.90" y2="162.11" stroke="#7a7a7a" stroke-width="0.6"/>
<line x1="506.90" y1="162.11" x2="506.00" y2="162.11" stroke="#7a7a7a" stroke-width="0.6"/>
<line x1="375.00" y1="161.10" x2="375.90" y2="161.10" stroke="#7a7a7a" stroke-width="0.6"/>
<line x1="506.90" y1="161.10" x2="506.00" y2="161.10" stroke="#7a7a7a" stroke-width="0.6"/>
<line x1="375.00" y1="160.25" x2="375.90" y2="160.25" stroke="#7a7a7a" stroke-width="0.6"/>
<line x1="506.90" y1="160.25" x2="506.00" y2="160.25" stroke="#7a7a7a" stroke-width="0.6"/>
<line x1="375.00" y1="159.51" x2="375.90" y2="159.51" stroke="#7a7a7a" stroke-width="0.6"/>
<line x1="506.90" y1="159.51" x2="506.00" y2="159.51" stroke="#7a7a7a" stroke-width="0.6"/>
<line x1="375.00" y1="158.86" x2="375.90" y2="158.86" stroke="#7a7a7a" stroke-width="0.6"/>
<line x1="506.90" y1="158.86" x2="506.00" y2="158.86" stroke="#7a7a7a" stroke-width="0.6"/>
<line x1="375.00" y1="158.28" x2="376.44" y2="158.28" stroke="#7a7a7a" stroke-width="0.6"/>
<line x1="506.90" y1="158.28" x2="505.46" y2="158.28" stroke="#7a7a7a" stroke-width="0.6"/>
<line x1="375.00" y1="154.45" x2="375.90" y2="154.45" stroke="#7a7a7a" stroke-width="0.6"/>
<line x1="506.90" y1="154.45" x2="506.00" y2="154.45" stroke="#7a7a7a" stroke-width="0.6"/>
<line x1="375.00" y1="152.21" x2="375.90" y2="152.21" stroke="#7a7a7a" stroke-width="0.6"/>
<line x1="506.90" y1="152.21" x2="506.00" y2="152.21" stroke="#7a7a7a" stroke-width="0.6"/>
<line x1="375.00" y1="150.62" x2="375.90" y2="150.62" stroke="#7a7a7a" stroke-width="0.6"/>
<line x1="506.90" y1="150.62" x2="506.00" y2="150.62" stroke="#7a7a7a" stroke-width="0.6"/>
<line x1="375.00" y1="149.39" x2="375.90" y2="149.39" stroke="#7a7a7a" stroke-width="0.6"/>
<line x1="506.90" y1="149.39" x2="506.00" y2="149.39" stroke="#7a7a7a" stroke-width="0.6"/>
<line x1="375.00" y1="148.38" x2="375.90" y2="148.38" stroke="#7a7a7a" stroke-width="0.6"/>
<line x1="506.90" y1="148.38" x2="506.00" y2="148.38" stroke="#7a7a7a" stroke-width="0.6"/>
<line x1="375.00" y1="147.53" x2="375.90" y2="147.53" stroke="#7a7a7a" stroke-width="0.6"/>
<line x1="506.90" y1="147.53" x2="506.00" y2="147.53" stroke="#7a7a7a" stroke-width="0.6"/>
<line x1="375.00" y1="146.79" x2="375.90" y2="146.79" stroke="#7a7a7a" stroke-width="0.6"/>
<line x1="506.90" y1="146.79" x2="506.00" y2="146.79" stroke="#7a7a7a" stroke-width="0.6"/>
<line x1="375.00" y1="146.14" x2="375.90" y2="146.14" stroke="#7a7a7a" stroke-width="0.6"/>
<line x1="506.90" y1="146.14" x2="506.00" y2="146.14" stroke="#7a7a7a" stroke-width="0.6"/>
<line x1="375.00" y1="145.56" x2="376.44" y2="145.56" stroke="#7a7a7a" stroke-width="0.6"/>
<line x1="506.90" y1="145.56" x2="505.46" y2="145.56" stroke="#7a7a7a" stroke-width="0.6"/>
<line x1="375.00" y1="141.73" x2="375.90" y2="141.73" stroke="#7a7a7a" stroke-width="0.6"/>
<line x1="506.90" y1="141.73" x2="506.00" y2="141.73" stroke="#7a7a7a" stroke-width="0.6"/>
<line x1="375.00" y1="139.49" x2="375.90" y2="139.49" stroke="#7a7a7a" stroke-width="0.6"/>
<line x1="506.90" y1="139.49" x2="506.00" y2="139.49" stroke="#7a7a7a" stroke-width="0.6"/>
<line x1="375.00" y1="137.90" x2="375.90" y2="137.90" stroke="#7a7a7a" stroke-width="0.6"/>
<line x1="506.90" y1="137.90" x2="506.00" y2="137.90" stroke="#7a7a7a" stroke-width="0.6"/>
<line x1="375.00" y1="136.67" x2="375.90" y2="136.67" stroke="#7a7a7a" stroke-width="0.6"/>
<line x1="506.90" y1="136.67" x2="506.00" y2="136.67" stroke="#7a7a7a" stroke-width="0.6"/>
<line x1="375.00" y1="135.66" x2="375.90" y2="135.66" stroke="#7a7a7a" stroke-width="0.6"/>
<line x1="506.90" y1="135.66" x2="506.00" y2="135.66" stroke="#7a7a7a" stroke-width="0.6"/>
<line x1="375.00" y1="134.81" x2="375.90" y2="134.81" stroke="#7a7a7a" stroke-width="0.6"/>
<line x1="506.90" y1="134.81" x2="506.00" y2="134.81" stroke="#7a7a7a" stroke-width="0.6"/>
<line x1="375.00" y1="134.07" x2="375.90" y2="134.07" stroke="#7a7a7a" stroke-width="0.6"/>
<line x1="506.90" y1="134.07" x2="506.00" y2="134.07" stroke="#7a7a7a" stroke-width="0.6"/>
<line x1="375.00" y1="133.42" x2="375.90" y2="133.42" stroke="#7a7a7a" stroke-width="0.6"/>
<line x1="506.90" y1="133.42" x2="506.00" y2="133.42" stroke="#7a7a7a" stroke-width="0.6"/>
<line x1="375.00" y1="132.84" x2="376.44" y2="132.84" stroke="#7a7a7a" stroke-width="0.6"/>
<line x1="506.90" y1="132.84" x2="505.46" y2="132.84" stroke="#7a7a7a" stroke-width="0.6"/>
<line x1="375.00" y1="129.01" x2="375.90" y2="129.01" stroke="#7a7a7a" stroke-width="0.6"/>
<line x1="506.90" y1="129.01" x2="506.00" y2="129.01" stroke="#7a7a7a" stroke-width="0.6"/>
<line x1="375.00" y1="126.77" x2="375.90" y2="126.77" stroke="#7a7a7a" stroke-width="0.6"/>
<line x1="506.90" y1="126.77" x2="506.00" y2="126.77" stroke="#7a7a7a" stroke-width="0.6"/>
<line x1="375.00" y1="125.18" x2="375.90" y2="125.18" stroke="#7a7a7a" stroke-width="0.6"/>
<line x1="506.90" y1="125.18" x2="506.00" y2="125.18" stroke="#7a7a7a" stroke-width="0.6"/>
<line x1="375.00" y1="123.95" x2="375.90" y2="123.95" stroke="#7a7a7a" stroke-width="0.6"/>
<line x1="506.90" y1="123.95" x2="506.00" y2="123.95" stroke="#7a7a7a" stroke-width="0.6"/>
<line x1="375.00" y1="122.94" x2="375.90" y2="122.94" stroke="#7a7a7a" stroke-width="0.6"/>
<line x1="506.90" y1="122.94" x2="506.00" y2="122.94" stroke="#7a7a7a" stroke-width="0.6"/>
<line x1="375.00" y1="122.09" x2="375.90" y2="122.09" stroke="#7a7a7a" stroke-width="0.6"/>
<line x1="506.90" y1="122.09" x2="506.00" y2="122.09" stroke="#7a7a7a" stroke-width="0.6"/>
<line x1="375.00" y1="121.35" x2="375.90" y2="121.35" stroke="#7a7a7a" stroke-width="0.6"/>
<line x1="506.90" y1="121.35" x2="506.00" y2="121.35" stroke="#7a7a7a" stroke-width="0.6"/>
<line x1="375.00" y1="120.70" x2="375.90" y2="120.70" stroke="#7a7a7a" stroke-width="0.6"/>
<line x1="506.90" y1="120.70" x2="506.00" y2="120.70" stroke="#7a7a7a" stroke-width="0.6"/>
<line x1="375.00" y1="120.12" x2="376.44" y2="120.12" stroke="#7a7a7a" stroke-width="0.6"/>
<line x1="506.90" y1="120.12" x2="505.46" y2="120.12" stroke="#7a7a7a" stroke-width="0.6"/>
<line x1="375.00" y1="116.29" x2="375.90" y2="116.29" stroke="#7a7a7a" stroke-width="0.6"/>
<line x1="506.90" y1="116.29" x2="506.00" y2="116.29" stroke="#7a7a7a" stroke-width="0.6"/>
<line x1="375.00" y1="114.05" x2="375.90" y2="114.05" stroke="#7a7a7a" stroke-width="0.6"/>
<line x1="506.90" y1="114.05" x2="506.00" y2="114.05" stroke="#7a7a7a" stroke-width="0.6"/>
<line x1="375.00" y1="112.46" x2="375.90" y2="112.46" stroke="#7a7a7a" stroke-width="0.6"/>
<line x1="506.90" y1="112.46" x2="506.00" y2="112.46" stroke="#7a7a7a" stroke-width="0.6"/>
<line x1="375.00" y1="111.23" x2="375.90" y2="111.23" stroke="#7a7a7a" stroke-width="0.6"/>
<line x1="506.90" y1="111.23" x2="506.00" y2="111.23" stroke="#7a7a7a" stroke-width="0.6"/>
<line x1="375.00" y1="110.22" x2="375.90" y2="110.22" stroke="#7a7a7a" stroke-width="0.6"/>
<line x1="506.90" y1="110.22" x2="506.00" y2="110.22" stroke="#7a7a7a" stroke-width="0.6"/>
<line x1="375.00" y1="109.37" x2="375.90" y2="109.37" stroke="#7a7a7a" stroke-width="0.6"/>
<line x1="506.90" y1="109.37" x2="506.00" y2="109.37" stroke="#7a7a7a" stroke-width="0.6"/>
<line x1="375.00" y1="108.63" x2="375.90" y2="108.63" stroke="#7a7a7a" stroke-width="0.6"/>
<line x1="506.90" y1="108.63" x2="506.00" y2="108.63" stroke="#7a7a7a" stroke-width="0.6"/>
<line x1="375.00" y1="107.98" x2="375.90" y2="107.98" stroke="#7a7a7a" stroke-width="0.6"/>
<line x1="506.90" y1="107.98" x2="506.00" y2="107.98" stroke="#7a7a7a" stroke-width="0.6"/>
<text x="372.40" y="112.00" text-anchor="end" class="tk">10<tspan class="sup" dy="-4.5">0</tspan></text>
<text x="372.40" y="137.44" text-anchor="end" class="tk">10<tspan class="sup" dy="-4.5">-2</tspan></text>
<text x="372.40" y="162.88" text-anchor="end" class="tk">10<tspan class="sup" dy="-4.5">-4</tspan></text>
<text x="429.36" y="183.30" text-anchor="middle" class="tk">10<tspan class="sup" dy="-4.0">0</tspan></text>
<text x="507.00" y="183.30" text-anchor="middle" class="tk">10<tspan class="sup" dy="-4.0">1</tspan></text>
<text x="440.95" y="192.30" text-anchor="middle" class="pl">(g)</text>
<text transform="translate(356.70,139.20) rotate(-90)" text-anchor="middle" class="yl">PSD (m<tspan class="sup2" dy="-4.4">2</tspan><tspan dy="4.4">/s</tspan><tspan class="sup2" dy="-4.4">2</tspan><tspan dy="4.4">/cpd)</tspan></text>
<line x1="590.28" y1="107.40" x2="590.28" y2="171.00" stroke="#6e6e6e" stroke-width="0.6"/>
<line x1="599.38" y1="107.40" x2="599.38" y2="171.00" stroke="#6e6e6e" stroke-width="0.6"/>
<line x1="601.94" y1="107.40" x2="601.94" y2="171.00" stroke="#6e6e6e" stroke-width="0.6"/>
<line x1="613.69" y1="107.40" x2="613.69" y2="171.00" stroke="#6e6e6e" stroke-width="0.6"/>
<line x1="618.55" y1="107.40" x2="618.55" y2="171.00" stroke="#6e6e6e" stroke-width="0.6"/>
<line x1="620.02" y1="107.40" x2="620.02" y2="171.00" stroke="#6e6e6e" stroke-width="0.6"/>
<line x1="624.09" y1="107.40" x2="624.09" y2="171.00" stroke="#6e6e6e" stroke-width="0.6"/>
<line x1="625.25" y1="107.40" x2="625.25" y2="171.00" stroke="#6e6e6e" stroke-width="0.6"/>
<clipPath id="cp13"><rect x="547.50" y="107.40" width="132.10" height="63.60"/></clipPath>
<g clip-path="url(#cp13)">
<polyline points="547.50,135.30 547.72,135.40 548.05,135.55 548.46,135.75 548.94,135.97 549.47,136.21 550.01,136.46 550.56,136.71 551.09,136.94 551.58,137.14 552.00,137.30 552.31,137.41 552.68,137.55 553.10,137.70 553.56,137.86 554.06,138.04 554.58,138.21 555.12,138.39 555.66,138.57 556.20,138.73 556.72,138.89 557.22,139.03 557.69,139.14 558.12,139.24 558.50,139.30 558.84,139.34 559.23,139.36 559.67,139.38 560.15,139.39 560.66,139.39 561.19,139.38 561.74,139.37 562.29,139.36 562.85,139.34 563.39,139.32 563.92,139.30 564.42,139.28 564.88,139.25 565.31,139.23 565.68,139.22 566.00,139.20 566.40,139.17 566.84,139.13 567.32,139.08 567.81,139.02 568.32,138.96 568.84,138.90 569.35,138.84 569.84,138.78 570.31,138.74 570.75,138.71 571.15,138.69 571.50,138.70 571.86,138.73 572.27,138.78 572.73,138.85 573.23,138.93 573.75,139.03 574.28,139.14 574.81,139.25 575.33,139.36 575.82,139.48 576.27,139.59 576.67,139.70 577.00,139.80 577.39,139.94 577.85,140.13 578.35,140.36 578.88,140.62 579.42,140.88 579.95,141.14 580.46,141.39 580.94,141.61 581.35,141.78 581.70,141.90 582.12,142.00 582.62,142.10 583.16,142.17 583.72,142.24 584.28,142.28 584.81,142.31 585.29,142.31 585.70,142.30 586.07,142.25 586.53,142.16 587.04,142.03 587.58,141.89 588.14,141.74 588.69,141.59 589.19,141.46 589.64,141.36 590.00,141.30 590.39,141.29 590.86,141.33 591.37,141.40 591.89,141.48 592.42,141.54 592.91,141.56 593.34,141.52 593.70,141.40 594.10,141.10 594.58,140.61 595.10,140.01 595.64,139.33 596.16,138.65 596.62,138.02 597.00,137.50 597.38,136.91 597.84,136.12 598.36,135.21 598.89,134.29 599.39,133.46 599.84,132.83 600.20,132.50 600.61,132.48 601.10,132.71 601.63,133.11 602.15,133.59 602.62,134.08 603.00,134.50 603.44,135.11 603.97,135.98 604.53,136.94 605.09,137.84 605.60,138.50 605.96,138.84 606.42,139.24 606.96,139.67 607.54,140.11 608.13,140.53 608.69,140.92 609.20,141.25 609.60,141.50 610.00,141.72 610.49,141.96 611.04,142.21 611.62,142.45 612.18,142.67 612.71,142.87 613.16,143.01 613.50,143.10 613.99,143.10 614.52,142.98 615.06,142.82 615.57,142.70 616.00,142.70 616.41,142.86 616.94,143.14 617.53,143.49 618.11,143.86 618.62,144.23 619.00,144.41 619.48,144.83 620.02,145.33 620.52,145.56 620.90,145.34 621.37,143.58 621.92,140.22 622.40,137.83 622.83,136.32 623.40,134.46 623.97,132.85 624.40,132.26 624.88,133.15 625.42,134.91 625.90,136.90 626.32,138.51 626.88,141.10 627.45,143.74 627.90,145.08 628.33,145.28 628.86,145.69 629.41,145.94 629.90,145.98 630.28,146.35 630.80,146.22 631.38,146.10 631.97,146.15 632.50,146.32 632.90,146.19 633.34,145.76 633.86,146.04 634.40,146.14 634.90,145.85 635.30,145.27 635.70,145.12 636.20,144.64 636.72,144.19 637.21,143.89 637.60,143.63 638.09,143.82 638.69,145.31 639.30,146.20 639.80,147.41 640.21,147.48 640.75,148.20 641.33,148.29 641.87,148.86 642.30,148.81 642.73,148.20 643.26,148.01 643.84,147.88 644.37,146.70 644.80,147.53 645.23,146.11 645.77,145.42 646.34,146.15 646.88,145.11 647.30,145.17 647.71,145.44 648.23,146.03 648.77,146.68 649.29,146.82 649.70,147.90 650.12,147.69 650.66,148.52 651.23,148.64 651.77,148.78 652.20,148.83 652.62,148.86 653.13,148.14 653.69,148.27 654.23,148.03 654.70,147.30 655.07,147.60 655.57,148.56 656.13,149.00 656.72,149.37 657.30,149.55 657.80,150.60 658.20,150.71 658.64,149.53 659.17,149.97 659.75,148.53 660.31,149.44 660.81,147.01 661.20,148.03 661.64,147.87 662.15,149.12 662.69,149.97 663.19,150.07 663.60,150.68 664.02,151.37 664.54,150.47 665.11,150.41 665.65,149.80 666.10,150.42 666.50,150.09 667.02,150.64 667.60,150.63 668.18,151.85 668.70,151.99 669.10,153.70 669.55,151.56 670.09,152.02 670.65,151.14 671.18,151.55 671.60,151.42 672.03,152.98 672.57,152.80 673.14,153.39 673.68,153.47 674.10,154.14 674.51,154.37 675.01,154.73 675.54,153.76 676.06,152.16 676.50,153.36 676.93,153.06 677.51,153.19 678.16,155.12 678.78,154.36 679.29,154.66 679.60,155.21" fill="none" stroke="#0000ff" stroke-width="0.8" stroke-linejoin="round"/>
<polyline points="547.50,135.50 547.69,135.53 547.95,135.57 548.26,135.62 548.62,135.69 549.03,135.76 549.48,135.83 549.96,135.92 550.48,136.00 551.01,136.10 551.56,136.19 552.13,136.28 552.70,136.37 553.27,136.46 553.84,136.55 554.39,136.64 554.93,136.71 555.45,136.79 555.94,136.85 556.39,136.90 556.81,136.95 557.18,136.98 557.50,137.00 557.88,137.01 558.30,137.01 558.76,137.00 559.25,136.98 559.76,136.96 560.29,136.92 560.83,136.88 561.38,136.84 561.92,136.79 562.47,136.74 563.00,136.68 563.52,136.63 564.02,136.57 564.49,136.51 564.93,136.46 565.33,136.40 565.69,136.35 566.00,136.30 566.41,136.22 566.87,136.12 567.36,135.99 567.87,135.85 568.40,135.69 568.93,135.53 569.46,135.36 569.97,135.20 570.46,135.05 570.92,134.91 571.33,134.78 571.70,134.68 572.00,134.60 572.46,134.50 572.96,134.39 573.48,134.30 574.01,134.20 574.54,134.12 575.06,134.06 575.55,134.02 576.00,134.00 576.33,134.01 576.74,134.05 577.21,134.12 577.73,134.19 578.28,134.28 578.85,134.36 579.42,134.44 579.97,134.51 580.49,134.55 580.96,134.57 581.37,134.56 581.70,134.50 582.15,134.33 582.65,134.05 583.19,133.69 583.73,133.27 584.27,132.80 584.79,132.30 585.27,131.80 585.70,131.30 586.03,130.85 586.45,130.22 586.93,129.46 587.45,128.61 587.99,127.71 588.54,126.79 589.08,125.90 589.58,125.08 590.03,124.36 590.41,123.79 590.70,123.40 591.19,122.91 591.63,122.65 592.07,122.53 592.58,122.50 593.20,122.50 593.46,122.50 593.80,122.51 594.21,122.54 594.67,122.57 595.18,122.61 595.73,122.65 596.30,122.70 596.88,122.75 597.46,122.81 598.03,122.87 598.58,122.93 599.09,122.99 599.57,123.05 599.98,123.10 600.33,123.15 600.60,123.20 601.19,123.33 601.76,123.48 602.29,123.67 602.78,123.89 603.22,124.17 603.60,124.50 604.02,125.04 604.53,125.85 605.10,126.82 605.67,127.81 606.18,128.71 606.60,129.40 607.01,130.04 607.51,130.83 608.06,131.67 608.62,132.49 609.15,133.20 609.60,133.70 609.97,133.99 610.44,134.29 610.99,134.59 611.57,134.89 612.15,135.17 612.69,135.42 613.15,135.63 613.50,135.80 613.99,136.03 614.52,136.26 615.06,136.49 615.57,136.70 616.00,136.90 616.41,137.11 616.94,137.40 617.53,137.72 618.11,138.03 618.62,138.26 619.00,138.41 619.47,138.43 619.99,138.40 620.49,138.29 620.90,137.93 621.35,137.06 621.92,135.66 622.48,134.41 622.90,133.59 623.39,132.36 623.95,131.92 624.40,131.54 624.85,132.07 625.41,133.01 625.90,133.78 626.29,135.36 626.79,136.83 627.35,138.66 627.90,140.01 628.24,140.29 628.71,140.75 629.26,141.01 629.86,141.29 630.47,141.82 631.03,141.89 631.53,142.57 631.90,142.47 632.34,142.72 632.84,142.04 633.37,141.65 633.90,141.34 634.38,141.53 634.80,141.12 635.19,141.32 635.70,140.61 636.27,140.30 636.86,140.40 637.43,139.97 637.92,140.10 638.30,140.15 638.77,140.42 639.31,140.75 639.87,141.77 640.38,143.52 640.80,143.36 641.21,143.91 641.71,144.28 642.26,144.61 642.80,144.82 643.30,144.75 643.66,144.63 644.15,143.84 644.72,144.67 645.33,143.63 645.93,142.77 646.49,143.02 646.96,142.79 647.30,141.92 647.82,142.45 648.32,143.73 648.78,144.06 649.20,144.60 649.59,145.40 650.10,145.81 650.67,146.63 651.22,148.11 651.70,147.77 652.08,147.76 652.58,147.79 653.15,147.16 653.75,146.20 654.32,147.13 654.82,146.01 655.20,146.72 655.66,146.43 656.18,146.40 656.72,148.19 657.24,148.00 657.70,147.96 658.08,148.24 658.58,146.98 659.15,147.78 659.75,146.82 660.33,146.67 660.83,146.09 661.20,146.78 661.65,146.95 662.16,148.00 662.68,149.10 663.17,149.12 663.60,149.40 664.00,149.50 664.53,148.73 665.12,148.59 665.70,148.98 666.22,147.93 666.60,147.32 667.08,148.61 667.62,149.75 668.15,151.22 668.60,150.46 669.01,150.29 669.54,150.60 670.12,150.12 670.67,150.08 671.10,149.56 671.52,150.21 672.05,150.23 672.62,151.69 673.15,151.76 673.60,152.20 673.98,151.61 674.48,150.91 675.02,151.62 675.58,151.42 676.09,152.03 676.50,151.96 676.95,151.53 677.53,151.88 678.18,151.72 678.79,152.75 679.29,153.28 679.60,153.10" fill="none" stroke="#ff0000" stroke-width="0.8" stroke-linejoin="round"/>
</g>
<rect x="547.50" y="107.40" width="132.10" height="63.60" fill="none" stroke="#7a7a7a" stroke-width="0.7"/>
<line x1="547.50" y1="171.00" x2="547.50" y2="170.10" stroke="#7a7a7a" stroke-width="0.6"/>
<line x1="547.50" y1="107.40" x2="547.50" y2="108.30" stroke="#7a7a7a" stroke-width="0.6"/>
<line x1="561.19" y1="171.00" x2="561.19" y2="170.10" stroke="#7a7a7a" stroke-width="0.6"/>
<line x1="561.19" y1="107.40" x2="561.19" y2="108.30" stroke="#7a7a7a" stroke-width="0.6"/>
<line x1="570.91" y1="171.00" x2="570.91" y2="170.10" stroke="#7a7a7a" stroke-width="0.6"/>
<line x1="570.91" y1="107.40" x2="570.91" y2="108.30" stroke="#7a7a7a" stroke-width="0.6"/>
<line x1="578.44" y1="171.00" x2="578.44" y2="170.10" stroke="#7a7a7a" stroke-width="0.6"/>
<line x1="578.44" y1="107.40" x2="578.44" y2="108.30" stroke="#7a7a7a" stroke-width="0.6"/>
<line x1="584.60" y1="171.00" x2="584.60" y2="170.10" stroke="#7a7a7a" stroke-width="0.6"/>
<line x1="584.60" y1="107.40" x2="584.60" y2="108.30" stroke="#7a7a7a" stroke-width="0.6"/>
<line x1="589.80" y1="171.00" x2="589.80" y2="170.10" stroke="#7a7a7a" stroke-width="0.6"/>
<line x1="589.80" y1="107.40" x2="589.80" y2="108.30" stroke="#7a7a7a" stroke-width="0.6"/>
<line x1="594.31" y1="171.00" x2="594.31" y2="170.10" stroke="#7a7a7a" stroke-width="0.6"/>
<line x1="594.31" y1="107.40" x2="594.31" y2="108.30" stroke="#7a7a7a" stroke-width="0.6"/>
<line x1="598.29" y1="171.00" x2="598.29" y2="170.10" stroke="#7a7a7a" stroke-width="0.6"/>
<line x1="598.29" y1="107.40" x2="598.29" y2="108.30" stroke="#7a7a7a" stroke-width="0.6"/>
<line x1="601.85" y1="171.00" x2="601.85" y2="169.56" stroke="#7a7a7a" stroke-width="0.6"/>
<line x1="601.85" y1="107.40" x2="601.85" y2="108.84" stroke="#7a7a7a" stroke-width="0.6"/>
<line x1="625.25" y1="171.00" x2="625.25" y2="170.10" stroke="#7a7a7a" stroke-width="0.6"/>
<line x1="625.25" y1="107.40" x2="625.25" y2="108.30" stroke="#7a7a7a" stroke-width="0.6"/>
<line x1="638.94" y1="171.00" x2="638.94" y2="170.10" stroke="#7a7a7a" stroke-width="0.6"/>
<line x1="638.94" y1="107.40" x2="638.94" y2="108.30" stroke="#7a7a7a" stroke-width="0.6"/>
<line x1="648.66" y1="171.00" x2="648.66" y2="170.10" stroke="#7a7a7a" stroke-width="0.6"/>
<line x1="648.66" y1="107.40" x2="648.66" y2="108.30" stroke="#7a7a7a" stroke-width="0.6"/>
<line x1="656.19" y1="171.00" x2="656.19" y2="170.10" stroke="#7a7a7a" stroke-width="0.6"/>
<line x1="656.19" y1="107.40" x2="656.19" y2="108.30" stroke="#7a7a7a" stroke-width="0.6"/>
<line x1="662.35" y1="171.00" x2="662.35" y2="170.10" stroke="#7a7a7a" stroke-width="0.6"/>
<line x1="662.35" y1="107.40" x2="662.35" y2="108.30" stroke="#7a7a7a" stroke-width="0.6"/>
<line x1="667.56" y1="171.00" x2="667.56" y2="170.10" stroke="#7a7a7a" stroke-width="0.6"/>
<line x1="667.56" y1="107.40" x2="667.56" y2="108.30" stroke="#7a7a7a" stroke-width="0.6"/>
<line x1="672.06" y1="171.00" x2="672.06" y2="170.10" stroke="#7a7a7a" stroke-width="0.6"/>
<line x1="672.06" y1="107.40" x2="672.06" y2="108.30" stroke="#7a7a7a" stroke-width="0.6"/>
<line x1="676.04" y1="171.00" x2="676.04" y2="170.10" stroke="#7a7a7a" stroke-width="0.6"/>
<line x1="676.04" y1="107.40" x2="676.04" y2="108.30" stroke="#7a7a7a" stroke-width="0.6"/>
<line x1="547.50" y1="160.40" x2="548.94" y2="160.40" stroke="#7a7a7a" stroke-width="0.6"/>
<line x1="679.60" y1="160.40" x2="678.16" y2="160.40" stroke="#7a7a7a" stroke-width="0.6"/>
<line x1="547.50" y1="149.80" x2="548.94" y2="149.80" stroke="#7a7a7a" stroke-width="0.6"/>
<line x1="679.60" y1="149.80" x2="678.16" y2="149.80" stroke="#7a7a7a" stroke-width="0.6"/>
<line x1="547.50" y1="139.20" x2="548.94" y2="139.20" stroke="#7a7a7a" stroke-width="0.6"/>
<line x1="679.60" y1="139.20" x2="678.16" y2="139.20" stroke="#7a7a7a" stroke-width="0.6"/>
<line x1="547.50" y1="128.60" x2="548.94" y2="128.60" stroke="#7a7a7a" stroke-width="0.6"/>
<line x1="679.60" y1="128.60" x2="678.16" y2="128.60" stroke="#7a7a7a" stroke-width="0.6"/>
<line x1="547.50" y1="118.00" x2="548.94" y2="118.00" stroke="#7a7a7a" stroke-width="0.6"/>
<line x1="679.60" y1="118.00" x2="678.16" y2="118.00" stroke="#7a7a7a" stroke-width="0.6"/>
<text x="544.90" y="143.80" text-anchor="end" class="tk">10<tspan class="sup" dy="-4.5">-5</tspan></text>
<text x="601.95" y="183.30" text-anchor="middle" class="tk">10<tspan class="sup" dy="-4.0">0</tspan></text>
<text x="679.70" y="183.30" text-anchor="middle" class="tk">10<tspan class="sup" dy="-4.0">1</tspan></text>
<text x="613.55" y="192.30" text-anchor="middle" class="pl">(h)</text>
<text transform="translate(529.20,139.20) rotate(-90)" text-anchor="middle" class="yl">PSD (m<tspan class="sup2" dy="-4.4">2</tspan><tspan dy="4.4">/s</tspan><tspan class="sup2" dy="-4.4">2</tspan><tspan dy="4.4">/cpd)</tspan></text>
<line x1="70.48" y1="202.90" x2="70.48" y2="266.30" stroke="#6e6e6e" stroke-width="0.6"/>
<line x1="79.56" y1="202.90" x2="79.56" y2="266.30" stroke="#6e6e6e" stroke-width="0.6"/>
<line x1="82.11" y1="202.90" x2="82.11" y2="266.30" stroke="#6e6e6e" stroke-width="0.6"/>
<line x1="93.84" y1="202.90" x2="93.84" y2="266.30" stroke="#6e6e6e" stroke-width="0.6"/>
<line x1="98.69" y1="202.90" x2="98.69" y2="266.30" stroke="#6e6e6e" stroke-width="0.6"/>
<line x1="100.16" y1="202.90" x2="100.16" y2="266.30" stroke="#6e6e6e" stroke-width="0.6"/>
<line x1="104.22" y1="202.90" x2="104.22" y2="266.30" stroke="#6e6e6e" stroke-width="0.6"/>
<line x1="105.38" y1="202.90" x2="105.38" y2="266.30" stroke="#6e6e6e" stroke-width="0.6"/>
<clipPath id="cp20"><rect x="27.80" y="202.90" width="131.80" height="63.40"/></clipPath>
<g clip-path="url(#cp20)">
<polyline points="27.80,230.90 33.00,234.90 38.90,233.40 45.90,233.90 51.80,239.80 55.80,236.40 60.30,233.70 63.70,238.30 67.20,233.40 70.70,230.90 72.70,231.90 75.20,235.40 77.60,224.90 79.60,218.80 81.10,221.00 82.60,224.90 84.60,230.90 87.10,235.90 89.60,238.30 90.00,238.35 90.79,240.24 91.56,239.35 92.00,239.90 92.31,240.24 93.05,239.41 93.77,242.48 94.00,243.40 94.48,241.22 95.17,240.70 95.84,240.61 96.50,239.40 96.51,238.16 97.16,240.25 97.80,244.53 98.42,245.48 99.04,247.76 99.40,245.90 99.64,246.58 100.24,241.53 100.82,239.11 100.90,239.40 101.40,241.83 101.96,246.01 102.40,247.30 102.51,248.76 103.06,242.93 103.60,237.15 103.90,236.90 104.13,237.60 104.65,237.61 105.16,238.07 105.66,234.53 106.16,232.59 106.40,232.90 106.65,233.10 107.13,236.76 107.61,241.15 107.90,242.90 108.08,246.74 108.54,247.63 108.90,247.80 109.00,246.72 109.45,247.26 109.90,242.67 110.34,244.38 110.77,245.49 111.00,243.00 111.20,242.51 111.62,244.22 112.04,242.85 112.45,243.29 112.86,243.30 113.26,245.79 113.40,246.80 113.66,246.43 114.05,245.17 114.44,247.68 114.82,246.24 115.20,244.73 115.58,248.24 115.80,248.80 115.95,246.43 116.31,243.42 116.68,244.77 117.04,243.49 117.39,240.39 117.74,238.30 118.09,239.90 118.44,235.16 118.78,235.61 118.80,235.90 119.12,237.77 119.45,236.48 119.78,237.34 120.11,238.69 120.30,240.00 120.44,241.27 120.76,239.06 121.08,240.58 121.39,241.91 121.70,245.00 122.01,245.93 122.30,245.90 122.32,245.82 122.62,248.57 122.93,242.79 123.23,242.87 123.52,245.53 123.82,243.95 124.11,245.65 124.39,246.50 124.68,240.99 124.96,244.24 125.25,241.92 125.30,242.90 125.53,243.09 125.80,245.71 126.08,242.32 126.35,243.50 126.62,240.10 126.89,245.76 127.15,242.10 127.42,243.16 127.68,242.98 127.94,245.59 128.20,243.89 128.45,239.75 128.70,242.40 128.71,241.90 128.96,244.19 129.21,245.08 129.46,247.24 129.70,244.62 129.95,247.16 130.19,248.62 130.20,247.80 130.43,249.12 130.67,244.55 130.91,251.03 131.14,252.01 131.38,250.05 131.61,249.59 131.84,245.60 132.07,244.85 132.30,247.49 132.53,247.46 132.70,247.80 132.75,247.84 132.97,249.55 133.20,251.87 133.42,251.54 133.64,251.83 133.85,252.65 134.07,250.14 134.29,248.39 134.50,248.62 134.70,252.80 134.71,251.30 134.92,251.14 135.13,250.39 135.34,251.88 135.55,255.04 135.75,251.03 135.96,254.13 136.16,251.96 136.36,250.08 136.56,248.05 136.76,246.64 136.96,250.22 137.16,247.61 137.35,249.03 137.55,244.58 137.70,245.90 138.20,248.56 138.42,252.71 138.64,253.08 138.86,255.80 139.08,250.66 139.29,253.79 139.51,253.17 139.72,248.22 139.93,254.51 140.15,248.92 140.36,245.14 140.56,246.58 140.77,245.98 140.98,246.69 141.18,251.82 141.38,249.54 141.59,256.82 141.79,249.99 141.99,251.97 142.18,250.21 142.38,244.56 142.58,248.55 142.77,251.09 142.97,254.38 143.16,246.75 143.35,253.24 143.54,256.29 143.73,248.33 143.92,251.11 144.11,256.05 144.29,245.67 144.48,250.75 144.66,244.28 144.84,249.14 145.03,256.79 145.21,250.55 145.39,252.94 145.57,245.67 145.75,247.03 145.92,247.93 146.10,253.27 146.27,250.21 146.45,253.85 146.62,251.10 146.80,248.28 146.97,250.58 147.14,251.72 147.31,249.92 147.48,253.82 147.65,248.49 147.82,250.99 147.98,253.41 148.15,249.22 148.31,250.36 148.48,250.56 148.64,246.09 148.80,256.12 148.97,250.74 149.13,253.14 149.29,244.78 149.45,253.12 149.61,248.96 149.77,246.56 149.92,248.35 150.08,253.05 150.24,245.28 150.39,252.04 150.55,246.10 150.70,252.88 150.85,251.78 151.01,255.36 151.16,254.47 151.31,248.02 151.46,248.17 151.61,251.66 151.76,249.25 151.91,249.91 152.05,246.91 152.20,252.03 152.35,261.41 152.49,257.84 152.64,254.07 152.78,247.80 152.93,249.35 153.07,255.61 153.21,251.79 153.36,253.84 153.50,250.14 153.64,249.33 153.78,251.15 153.92,249.30 154.06,248.54 154.20,251.14 154.34,249.97 154.47,245.53 154.61,251.58 154.75,257.71 154.88,253.55 155.02,249.93 155.15,247.32 155.29,247.57 155.42,249.46 155.55,254.25 155.69,251.87 155.82,250.64 155.95,247.68 156.08,250.41 156.21,248.41 156.34,258.01 156.47,254.31 156.60,251.71 156.73,259.42 156.86,261.86 156.99,253.94 157.11,248.05 157.24,255.44 157.37,251.00 157.49,254.34 157.62,248.98 157.74,249.75 157.87,250.36 157.99,248.70 158.11,247.87 158.24,254.60 158.36,251.21 158.48,257.33 158.60,256.11 158.72,253.81 158.84,255.03 158.97,251.76 159.09,251.82 159.20,253.44 159.32,253.57 159.44,250.43 159.56,255.36" fill="none" stroke="#ff0000" stroke-width="0.8" stroke-linejoin="round"/>
<polyline points="27.80,224.90 33.00,226.10 36.40,225.10 38.40,229.90 40.40,235.40 43.40,233.40 46.90,233.40 49.30,234.40 51.80,229.40 53.80,231.40 55.80,228.40 58.30,230.40 60.60,225.10 62.70,230.90 65.20,232.90 67.70,221.50 69.20,222.90 70.70,230.40 74.20,228.40 75.70,230.40 77.10,226.90 78.60,228.40 80.10,224.40 81.60,219.50 83.10,222.90 84.60,230.90 86.60,236.80 88.10,228.40 89.60,235.40 90.00,236.49 90.79,235.48 91.50,235.90 91.56,236.22 92.00,235.90 92.31,234.78 93.05,233.45 93.50,233.90 93.77,236.35 94.48,242.69 94.50,243.40 95.17,240.52 95.84,237.07 96.00,237.40 96.51,237.86 97.16,239.95 97.80,238.88 98.00,237.90 98.42,239.50 99.04,239.60 99.64,239.83 99.90,241.40 100.24,238.76 100.82,236.18 101.40,236.34 101.40,235.90 101.96,234.72 102.51,233.49 103.06,232.57 103.40,233.40 103.60,234.24 104.13,235.84 104.65,232.99 105.16,232.53 105.40,232.00 105.66,231.75 106.16,238.04 106.65,236.11 106.90,238.90 107.13,239.23 107.61,238.20 108.08,237.66 108.54,238.93 109.00,235.78 109.40,238.40 109.45,238.86 109.90,238.37 110.34,240.53 110.77,242.20 111.20,243.69 111.40,243.40 111.62,245.12 112.04,240.36 112.45,242.43 112.86,242.49 113.26,242.34 113.40,242.40 113.66,244.37 114.05,244.40 114.44,247.05 114.82,246.95 115.20,250.15 115.30,250.80 115.58,248.17 115.95,246.11 116.31,245.29 116.68,244.29 116.80,243.90 117.04,244.62 117.39,241.43 117.74,241.38 118.09,238.27 118.30,238.40 118.44,242.73 118.78,245.86 119.12,244.92 119.30,246.80 119.45,246.43 119.78,249.11 120.11,244.75 120.44,247.43 120.76,246.85 120.80,243.40 121.08,246.05 121.39,247.25 121.70,250.16 122.01,252.73 122.30,250.80 122.32,249.60 122.62,247.48 122.93,246.71 123.23,244.36 123.52,244.72 123.80,242.90 123.82,243.31 124.11,244.53 124.39,247.98 124.68,247.80 124.96,248.52 125.25,249.50 125.53,250.87 125.80,251.80 125.80,252.78 126.08,250.70 126.35,249.86 126.62,248.35 126.89,247.25 127.15,241.92 127.30,242.90 127.42,243.06 127.68,242.40 127.94,240.83 128.20,243.06 128.45,239.15 128.71,240.96 128.96,239.86 129.20,239.90 129.21,237.19 129.46,240.63 129.70,243.80 129.95,246.21 130.19,245.22 130.43,249.90 130.67,245.73 130.91,249.08 131.14,247.13 131.20,249.80 131.38,248.95 131.61,247.45 131.84,249.02 132.07,250.41 132.30,249.01 132.53,249.14 132.75,248.68 132.97,248.18 133.20,248.08 133.20,246.80 133.42,246.67 133.64,245.83 133.85,244.69 134.07,243.88 134.29,241.11 134.50,244.35 134.70,243.40 134.71,245.54 134.92,240.89 135.13,241.62 135.34,244.52 135.55,245.94 135.75,248.80 135.96,249.31 136.16,252.10 136.36,253.77 136.56,252.46 136.70,251.80 136.76,251.02 136.96,251.41 137.16,246.18 137.35,249.17 137.55,251.21 137.74,248.90 137.94,249.85 138.13,247.47 138.32,244.94 138.51,242.37 138.70,244.21 138.70,244.90 139.20,250.72 139.42,249.76 139.63,249.13 139.84,246.15 140.05,252.05 140.26,249.13 140.47,251.42 140.68,249.30 140.89,253.45 141.09,250.66 141.29,251.45 141.50,253.42 141.70,250.24 141.90,249.49 142.10,249.59 142.29,250.34 142.49,252.19 142.69,251.61 142.88,250.93 143.07,253.33 143.27,251.70 143.46,247.44 143.65,254.47 143.84,246.18 144.02,256.45 144.21,247.07 144.40,245.72 144.58,247.15 144.76,252.93 144.95,248.39 145.13,252.76 145.31,254.75 145.49,249.56 145.67,250.06 145.85,252.51 146.02,252.50 146.20,249.26 146.37,245.37 146.55,247.57 146.72,247.33 146.89,250.31 147.06,250.89 147.23,248.73 147.40,247.29 147.57,248.20 147.74,250.93 147.91,252.73 148.08,253.19 148.24,255.27 148.41,256.02 148.57,250.80 148.73,255.72 148.90,248.54 149.06,252.55 149.22,251.46 149.38,246.09 149.54,255.48 149.70,261.06 149.85,258.26 150.01,248.10 150.17,244.24 150.32,251.90 150.48,252.77 150.63,249.66 150.79,248.78 150.94,245.72 151.09,250.26 151.24,245.22 151.39,245.81 151.54,249.38 151.69,256.38 151.84,255.78 151.99,256.89 152.14,258.52 152.28,256.86 152.43,251.37 152.58,253.07 152.72,253.02 152.86,250.57 153.01,251.77 153.15,251.99 153.29,248.01 153.44,246.85 153.58,251.02 153.72,254.68 153.86,256.75 154.00,258.66 154.14,255.59 154.27,254.11 154.41,251.24 154.55,248.60 154.69,245.29 154.82,249.77 154.96,254.45 155.09,253.34 155.23,261.12 155.36,261.55 155.50,258.61 155.63,254.06 155.76,260.47 155.89,261.33 156.02,250.67 156.15,254.37 156.29,258.46 156.42,251.67 156.54,260.77 156.67,254.58 156.80,256.15 156.93,252.98 157.06,254.42 157.18,254.93 157.31,260.48 157.44,254.23 157.56,256.16 157.69,257.31 157.81,253.60 157.94,255.53 158.06,249.50 158.18,248.56 158.31,250.90 158.43,248.05 158.55,249.47 158.67,251.99 158.79,251.12 158.91,251.19 159.03,250.22 159.15,254.88 159.27,253.67 159.39,247.19 159.51,255.19" fill="none" stroke="#0000ff" stroke-width="0.8" stroke-linejoin="round"/>
</g>
<rect x="27.80" y="202.90" width="131.80" height="63.40" fill="none" stroke="#7a7a7a" stroke-width="0.7"/>
<line x1="27.80" y1="266.30" x2="27.80" y2="265.40" stroke="#7a7a7a" stroke-width="0.6"/>
<line x1="27.80" y1="202.90" x2="27.80" y2="203.80" stroke="#7a7a7a" stroke-width="0.6"/>
<line x1="41.46" y1="266.30" x2="41.46" y2="265.40" stroke="#7a7a7a" stroke-width="0.6"/>
<line x1="41.46" y1="202.90" x2="41.46" y2="203.80" stroke="#7a7a7a" stroke-width="0.6"/>
<line x1="51.15" y1="266.30" x2="51.15" y2="265.40" stroke="#7a7a7a" stroke-width="0.6"/>
<line x1="51.15" y1="202.90" x2="51.15" y2="203.80" stroke="#7a7a7a" stroke-width="0.6"/>
<line x1="58.67" y1="266.30" x2="58.67" y2="265.40" stroke="#7a7a7a" stroke-width="0.6"/>
<line x1="58.67" y1="202.90" x2="58.67" y2="203.80" stroke="#7a7a7a" stroke-width="0.6"/>
<line x1="64.81" y1="266.30" x2="64.81" y2="265.40" stroke="#7a7a7a" stroke-width="0.6"/>
<line x1="64.81" y1="202.90" x2="64.81" y2="203.80" stroke="#7a7a7a" stroke-width="0.6"/>
<line x1="70.01" y1="266.30" x2="70.01" y2="265.40" stroke="#7a7a7a" stroke-width="0.6"/>
<line x1="70.01" y1="202.90" x2="70.01" y2="203.80" stroke="#7a7a7a" stroke-width="0.6"/>
<line x1="74.51" y1="266.30" x2="74.51" y2="265.40" stroke="#7a7a7a" stroke-width="0.6"/>
<line x1="74.51" y1="202.90" x2="74.51" y2="203.80" stroke="#7a7a7a" stroke-width="0.6"/>
<line x1="78.47" y1="266.30" x2="78.47" y2="265.40" stroke="#7a7a7a" stroke-width="0.6"/>
<line x1="78.47" y1="202.90" x2="78.47" y2="203.80" stroke="#7a7a7a" stroke-width="0.6"/>
<line x1="82.02" y1="266.30" x2="82.02" y2="264.86" stroke="#7a7a7a" stroke-width="0.6"/>
<line x1="82.02" y1="202.90" x2="82.02" y2="204.34" stroke="#7a7a7a" stroke-width="0.6"/>
<line x1="105.38" y1="266.30" x2="105.38" y2="265.40" stroke="#7a7a7a" stroke-width="0.6"/>
<line x1="105.38" y1="202.90" x2="105.38" y2="203.80" stroke="#7a7a7a" stroke-width="0.6"/>
<line x1="119.04" y1="266.30" x2="119.04" y2="265.40" stroke="#7a7a7a" stroke-width="0.6"/>
<line x1="119.04" y1="202.90" x2="119.04" y2="203.80" stroke="#7a7a7a" stroke-width="0.6"/>
<line x1="128.73" y1="266.30" x2="128.73" y2="265.40" stroke="#7a7a7a" stroke-width="0.6"/>
<line x1="128.73" y1="202.90" x2="128.73" y2="203.80" stroke="#7a7a7a" stroke-width="0.6"/>
<line x1="136.25" y1="266.30" x2="136.25" y2="265.40" stroke="#7a7a7a" stroke-width="0.6"/>
<line x1="136.25" y1="202.90" x2="136.25" y2="203.80" stroke="#7a7a7a" stroke-width="0.6"/>
<line x1="142.39" y1="266.30" x2="142.39" y2="265.40" stroke="#7a7a7a" stroke-width="0.6"/>
<line x1="142.39" y1="202.90" x2="142.39" y2="203.80" stroke="#7a7a7a" stroke-width="0.6"/>
<line x1="147.58" y1="266.30" x2="147.58" y2="265.40" stroke="#7a7a7a" stroke-width="0.6"/>
<line x1="147.58" y1="202.90" x2="147.58" y2="203.80" stroke="#7a7a7a" stroke-width="0.6"/>
<line x1="152.08" y1="266.30" x2="152.08" y2="265.40" stroke="#7a7a7a" stroke-width="0.6"/>
<line x1="152.08" y1="202.90" x2="152.08" y2="203.80" stroke="#7a7a7a" stroke-width="0.6"/>
<line x1="156.05" y1="266.30" x2="156.05" y2="265.40" stroke="#7a7a7a" stroke-width="0.6"/>
<line x1="156.05" y1="202.90" x2="156.05" y2="203.80" stroke="#7a7a7a" stroke-width="0.6"/>
<line x1="27.80" y1="266.30" x2="29.24" y2="266.30" stroke="#7a7a7a" stroke-width="0.6"/>
<line x1="159.60" y1="266.30" x2="158.16" y2="266.30" stroke="#7a7a7a" stroke-width="0.6"/>
<line x1="27.80" y1="262.48" x2="28.70" y2="262.48" stroke="#7a7a7a" stroke-width="0.6"/>
<line x1="159.60" y1="262.48" x2="158.70" y2="262.48" stroke="#7a7a7a" stroke-width="0.6"/>
<line x1="27.80" y1="260.25" x2="28.70" y2="260.25" stroke="#7a7a7a" stroke-width="0.6"/>
<line x1="159.60" y1="260.25" x2="158.70" y2="260.25" stroke="#7a7a7a" stroke-width="0.6"/>
<line x1="27.80" y1="258.67" x2="28.70" y2="258.67" stroke="#7a7a7a" stroke-width="0.6"/>
<line x1="159.60" y1="258.67" x2="158.70" y2="258.67" stroke="#7a7a7a" stroke-width="0.6"/>
<line x1="27.80" y1="257.44" x2="28.70" y2="257.44" stroke="#7a7a7a" stroke-width="0.6"/>
<line x1="159.60" y1="257.44" x2="158.70" y2="257.44" stroke="#7a7a7a" stroke-width="0.6"/>
<line x1="27.80" y1="256.43" x2="28.70" y2="256.43" stroke="#7a7a7a" stroke-width="0.6"/>
<line x1="159.60" y1="256.43" x2="158.70" y2="256.43" stroke="#7a7a7a" stroke-width="0.6"/>
<line x1="27.80" y1="255.58" x2="28.70" y2="255.58" stroke="#7a7a7a" stroke-width="0.6"/>
<line x1="159.60" y1="255.58" x2="158.70" y2="255.58" stroke="#7a7a7a" stroke-width="0.6"/>
<line x1="27.80" y1="254.85" x2="28.70" y2="254.85" stroke="#7a7a7a" stroke-width="0.6"/>
<line x1="159.60" y1="254.85" x2="158.70" y2="254.85" stroke="#7a7a7a" stroke-width="0.6"/>
<line x1="27.80" y1="254.20" x2="28.70" y2="254.20" stroke="#7a7a7a" stroke-width="0.6"/>
<line x1="159.60" y1="254.20" x2="158.70" y2="254.20" stroke="#7a7a7a" stroke-width="0.6"/>
<line x1="27.80" y1="253.62" x2="29.24" y2="253.62" stroke="#7a7a7a" stroke-width="0.6"/>
<line x1="159.60" y1="253.62" x2="158.16" y2="253.62" stroke="#7a7a7a" stroke-width="0.6"/>
<line x1="27.80" y1="249.80" x2="28.70" y2="249.80" stroke="#7a7a7a" stroke-width="0.6"/>
<line x1="159.60" y1="249.80" x2="158.70" y2="249.80" stroke="#7a7a7a" stroke-width="0.6"/>
<line x1="27.80" y1="247.57" x2="28.70" y2="247.57" stroke="#7a7a7a" stroke-width="0.6"/>
<line x1="159.60" y1="247.57" x2="158.70" y2="247.57" stroke="#7a7a7a" stroke-width="0.6"/>
<line x1="27.80" y1="245.99" x2="28.70" y2="245.99" stroke="#7a7a7a" stroke-width="0.6"/>
<line x1="159.60" y1="245.99" x2="158.70" y2="245.99" stroke="#7a7a7a" stroke-width="0.6"/>
<line x1="27.80" y1="244.76" x2="28.70" y2="244.76" stroke="#7a7a7a" stroke-width="0.6"/>
<line x1="159.60" y1="244.76" x2="158.70" y2="244.76" stroke="#7a7a7a" stroke-width="0.6"/>
<line x1="27.80" y1="243.75" x2="28.70" y2="243.75" stroke="#7a7a7a" stroke-width="0.6"/>
<line x1="159.60" y1="243.75" x2="158.70" y2="243.75" stroke="#7a7a7a" stroke-width="0.6"/>
<line x1="27.80" y1="242.90" x2="28.70" y2="242.90" stroke="#7a7a7a" stroke-width="0.6"/>
<line x1="159.60" y1="242.90" x2="158.70" y2="242.90" stroke="#7a7a7a" stroke-width="0.6"/>
<line x1="27.80" y1="242.17" x2="28.70" y2="242.17" stroke="#7a7a7a" stroke-width="0.6"/>
<line x1="159.60" y1="242.17" x2="158.70" y2="242.17" stroke="#7a7a7a" stroke-width="0.6"/>
<line x1="27.80" y1="241.52" x2="28.70" y2="241.52" stroke="#7a7a7a" stroke-width="0.6"/>
<line x1="159.60" y1="241.52" x2="158.70" y2="241.52" stroke="#7a7a7a" stroke-width="0.6"/>
<line x1="27.80" y1="240.94" x2="29.24" y2="240.94" stroke="#7a7a7a" stroke-width="0.6"/>
<line x1="159.60" y1="240.94" x2="158.16" y2="240.94" stroke="#7a7a7a" stroke-width="0.6"/>
<line x1="27.80" y1="237.12" x2="28.70" y2="237.12" stroke="#7a7a7a" stroke-width="0.6"/>
<line x1="159.60" y1="237.12" x2="158.70" y2="237.12" stroke="#7a7a7a" stroke-width="0.6"/>
<line x1="27.80" y1="234.89" x2="28.70" y2="234.89" stroke="#7a7a7a" stroke-width="0.6"/>
<line x1="159.60" y1="234.89" x2="158.70" y2="234.89" stroke="#7a7a7a" stroke-width="0.6"/>
<line x1="27.80" y1="233.31" x2="28.70" y2="233.31" stroke="#7a7a7a" stroke-width="0.6"/>
<line x1="159.60" y1="233.31" x2="158.70" y2="233.31" stroke="#7a7a7a" stroke-width="0.6"/>
<line x1="27.80" y1="232.08" x2="28.70" y2="232.08" stroke="#7a7a7a" stroke-width="0.6"/>
<line x1="159.60" y1="232.08" x2="158.70" y2="232.08" stroke="#7a7a7a" stroke-width="0.6"/>
<line x1="27.80" y1="231.07" x2="28.70" y2="231.07" stroke="#7a7a7a" stroke-width="0.6"/>
<line x1="159.60" y1="231.07" x2="158.70" y2="231.07" stroke="#7a7a7a" stroke-width="0.6"/>
<line x1="27.80" y1="230.22" x2="28.70" y2="230.22" stroke="#7a7a7a" stroke-width="0.6"/>
<line x1="159.60" y1="230.22" x2="158.70" y2="230.22" stroke="#7a7a7a" stroke-width="0.6"/>
<line x1="27.80" y1="229.49" x2="28.70" y2="229.49" stroke="#7a7a7a" stroke-width="0.6"/>
<line x1="159.60" y1="229.49" x2="158.70" y2="229.49" stroke="#7a7a7a" stroke-width="0.6"/>
<line x1="27.80" y1="228.84" x2="28.70" y2="228.84" stroke="#7a7a7a" stroke-width="0.6"/>
<line x1="159.60" y1="228.84" x2="158.70" y2="228.84" stroke="#7a7a7a" stroke-width="0.6"/>
<line x1="27.80" y1="228.26" x2="29.24" y2="228.26" stroke="#7a7a7a" stroke-width="0.6"/>
<line x1="159.60" y1="228.26" x2="158.16" y2="228.26" stroke="#7a7a7a" stroke-width="0.6"/>
<line x1="27.80" y1="224.44" x2="28.70" y2="224.44" stroke="#7a7a7a" stroke-width="0.6"/>
<line x1="159.60" y1="224.44" x2="158.70" y2="224.44" stroke="#7a7a7a" stroke-width="0.6"/>
<line x1="27.80" y1="222.21" x2="28.70" y2="222.21" stroke="#7a7a7a" stroke-width="0.6"/>
<line x1="159.60" y1="222.21" x2="158.70" y2="222.21" stroke="#7a7a7a" stroke-width="0.6"/>
<line x1="27.80" y1="220.63" x2="28.70" y2="220.63" stroke="#7a7a7a" stroke-width="0.6"/>
<line x1="159.60" y1="220.63" x2="158.70" y2="220.63" stroke="#7a7a7a" stroke-width="0.6"/>
<line x1="27.80" y1="219.40" x2="28.70" y2="219.40" stroke="#7a7a7a" stroke-width="0.6"/>
<line x1="159.60" y1="219.40" x2="158.70" y2="219.40" stroke="#7a7a7a" stroke-width="0.6"/>
<line x1="27.80" y1="218.39" x2="28.70" y2="218.39" stroke="#7a7a7a" stroke-width="0.6"/>
<line x1="159.60" y1="218.39" x2="158.70" y2="218.39" stroke="#7a7a7a" stroke-width="0.6"/>
<line x1="27.80" y1="217.54" x2="28.70" y2="217.54" stroke="#7a7a7a" stroke-width="0.6"/>
<line x1="159.60" y1="217.54" x2="158.70" y2="217.54" stroke="#7a7a7a" stroke-width="0.6"/>
<line x1="27.80" y1="216.81" x2="28.70" y2="216.81" stroke="#7a7a7a" stroke-width="0.6"/>
<line x1="159.60" y1="216.81" x2="158.70" y2="216.81" stroke="#7a7a7a" stroke-width="0.6"/>
<line x1="27.80" y1="216.16" x2="28.70" y2="216.16" stroke="#7a7a7a" stroke-width="0.6"/>
<line x1="159.60" y1="216.16" x2="158.70" y2="216.16" stroke="#7a7a7a" stroke-width="0.6"/>
<line x1="27.80" y1="215.58" x2="29.24" y2="215.58" stroke="#7a7a7a" stroke-width="0.6"/>
<line x1="159.60" y1="215.58" x2="158.16" y2="215.58" stroke="#7a7a7a" stroke-width="0.6"/>
<line x1="27.80" y1="211.76" x2="28.70" y2="211.76" stroke="#7a7a7a" stroke-width="0.6"/>
<line x1="159.60" y1="211.76" x2="158.70" y2="211.76" stroke="#7a7a7a" stroke-width="0.6"/>
<line x1="27.80" y1="209.53" x2="28.70" y2="209.53" stroke="#7a7a7a" stroke-width="0.6"/>
<line x1="159.60" y1="209.53" x2="158.70" y2="209.53" stroke="#7a7a7a" stroke-width="0.6"/>
<line x1="27.80" y1="207.95" x2="28.70" y2="207.95" stroke="#7a7a7a" stroke-width="0.6"/>
<line x1="159.60" y1="207.95" x2="158.70" y2="207.95" stroke="#7a7a7a" stroke-width="0.6"/>
<line x1="27.80" y1="206.72" x2="28.70" y2="206.72" stroke="#7a7a7a" stroke-width="0.6"/>
<line x1="159.60" y1="206.72" x2="158.70" y2="206.72" stroke="#7a7a7a" stroke-width="0.6"/>
<line x1="27.80" y1="205.71" x2="28.70" y2="205.71" stroke="#7a7a7a" stroke-width="0.6"/>
<line x1="159.60" y1="205.71" x2="158.70" y2="205.71" stroke="#7a7a7a" stroke-width="0.6"/>
<line x1="27.80" y1="204.86" x2="28.70" y2="204.86" stroke="#7a7a7a" stroke-width="0.6"/>
<line x1="159.60" y1="204.86" x2="158.70" y2="204.86" stroke="#7a7a7a" stroke-width="0.6"/>
<line x1="27.80" y1="204.13" x2="28.70" y2="204.13" stroke="#7a7a7a" stroke-width="0.6"/>
<line x1="159.60" y1="204.13" x2="158.70" y2="204.13" stroke="#7a7a7a" stroke-width="0.6"/>
<line x1="27.80" y1="203.48" x2="28.70" y2="203.48" stroke="#7a7a7a" stroke-width="0.6"/>
<line x1="159.60" y1="203.48" x2="158.70" y2="203.48" stroke="#7a7a7a" stroke-width="0.6"/>
<text x="25.20" y="207.50" text-anchor="end" class="tk">10<tspan class="sup" dy="-4.5">0</tspan></text>
<text x="25.20" y="232.86" text-anchor="end" class="tk">10<tspan class="sup" dy="-4.5">-2</tspan></text>
<text x="25.20" y="258.22" text-anchor="end" class="tk">10<tspan class="sup" dy="-4.5">-4</tspan></text>
<text x="82.12" y="278.60" text-anchor="middle" class="tk">10<tspan class="sup" dy="-4.0">0</tspan></text>
<text x="159.70" y="278.60" text-anchor="middle" class="tk">10<tspan class="sup" dy="-4.0">1</tspan></text>
<text x="93.70" y="287.60" text-anchor="middle" class="pl">(i)</text>
<text transform="translate(9.50,234.60) rotate(-90)" text-anchor="middle" class="yl">PSD (m<tspan class="sup2" dy="-4.4">2</tspan><tspan dy="4.4">/s</tspan><tspan class="sup2" dy="-4.4">2</tspan><tspan dy="4.4">/cpd)</tspan></text>
<text transform="translate(93.70,299.30) scale(0.9,1)" text-anchor="middle" class="xl">Frequency (cpd)</text>
<line x1="243.25" y1="202.90" x2="243.25" y2="266.30" stroke="#6e6e6e" stroke-width="0.6"/>
<line x1="252.34" y1="202.90" x2="252.34" y2="266.30" stroke="#6e6e6e" stroke-width="0.6"/>
<line x1="254.90" y1="202.90" x2="254.90" y2="266.30" stroke="#6e6e6e" stroke-width="0.6"/>
<line x1="266.64" y1="202.90" x2="266.64" y2="266.30" stroke="#6e6e6e" stroke-width="0.6"/>
<line x1="271.50" y1="202.90" x2="271.50" y2="266.30" stroke="#6e6e6e" stroke-width="0.6"/>
<line x1="272.97" y1="202.90" x2="272.97" y2="266.30" stroke="#6e6e6e" stroke-width="0.6"/>
<line x1="277.03" y1="202.90" x2="277.03" y2="266.30" stroke="#6e6e6e" stroke-width="0.6"/>
<line x1="278.19" y1="202.90" x2="278.19" y2="266.30" stroke="#6e6e6e" stroke-width="0.6"/>
<clipPath id="cp21"><rect x="200.50" y="202.90" width="132.00" height="63.40"/></clipPath>
<g clip-path="url(#cp21)">
<polyline points="200.50,226.50 200.69,226.57 200.94,226.66 201.24,226.77 201.60,226.90 201.99,227.05 202.43,227.21 202.89,227.38 203.39,227.57 203.91,227.76 204.44,227.95 204.99,228.15 205.55,228.35 206.11,228.55 206.67,228.74 207.22,228.93 207.76,229.11 208.29,229.28 208.79,229.44 209.26,229.58 209.70,229.70 210.10,229.80 210.39,229.87 210.72,229.94 211.08,230.01 211.47,230.09 211.89,230.16 212.33,230.24 212.79,230.32 213.27,230.40 213.76,230.48 214.27,230.57 214.80,230.65 215.33,230.73 215.87,230.82 216.41,230.90 216.96,230.99 217.50,231.07 218.04,231.15 218.58,231.23 219.11,231.31 219.62,231.39 220.13,231.47 220.62,231.54 221.09,231.62 221.54,231.69 221.97,231.76 222.37,231.82 222.74,231.88 223.09,231.94 223.40,232.00 223.77,232.07 224.17,232.15 224.59,232.23 225.04,232.32 225.51,232.42 225.99,232.52 226.49,232.62 227.00,232.73 227.51,232.84 228.04,232.95 228.57,233.07 229.09,233.18 229.62,233.29 230.14,233.41 230.66,233.52 231.16,233.62 231.65,233.73 232.13,233.83 232.58,233.92 233.02,234.01 233.43,234.10 233.82,234.17 234.18,234.24 234.50,234.30 234.86,234.36 235.25,234.44 235.68,234.51 236.13,234.60 236.62,234.68 237.12,234.78 237.64,234.87 238.17,234.96 238.71,235.05 239.25,235.15 239.79,235.24 240.33,235.33 240.86,235.41 241.37,235.49 241.87,235.56 242.35,235.62 242.80,235.68 243.21,235.73 243.60,235.76 243.94,235.79 244.25,235.80 244.50,235.80 245.06,235.74 245.61,235.60 246.16,235.41 246.69,235.17 247.20,234.90 247.68,234.62 248.12,234.33 248.53,234.05 248.90,233.80 249.29,233.48 249.75,233.02 250.27,232.47 250.82,231.87 251.38,231.27 251.93,230.71 252.44,230.25 252.91,229.93 253.30,229.80 253.65,229.86 254.05,230.06 254.51,230.38 255.00,230.78 255.50,231.23 256.01,231.70 256.51,232.16 256.98,232.59 257.42,232.94 257.80,233.20 258.14,233.37 258.55,233.56 259.02,233.75 259.53,233.95 260.07,234.16 260.63,234.36 261.18,234.56 261.71,234.76 262.20,234.94 262.64,235.11 263.01,235.27 263.30,235.40 263.88,235.74 264.46,236.15 265.01,236.59 265.53,237.02 266.00,237.40 266.38,237.74 266.87,238.23 267.42,238.79 268.01,239.35 268.58,239.86 269.09,240.23 269.50,240.40 269.92,240.35 270.44,240.15 271.02,239.83 271.62,239.45 272.17,239.05 272.65,238.72 273.00,238.45 273.50,237.92 274.01,237.16 274.49,236.49 274.90,235.87 275.37,234.47 275.98,232.63 276.60,230.77 277.10,229.89 277.49,230.34 277.99,231.22 278.52,232.33 279.02,234.03 279.40,234.62 279.84,236.20 280.37,237.56 280.91,238.94 281.40,239.94 281.78,240.14 282.28,240.22 282.86,240.18 283.44,240.47 283.98,240.32 284.40,240.46 284.83,240.68 285.36,240.70 285.95,240.78 286.52,240.84 287.03,241.05 287.40,241.31 287.87,240.81 288.38,240.85 288.88,240.49 289.30,239.75 289.68,239.26 290.19,238.31 290.73,236.94 291.23,236.29 291.60,235.99 292.15,236.54 292.77,238.95 293.30,239.74 293.73,240.14 294.29,240.40 294.85,240.97 295.30,241.65 295.72,241.53 296.23,242.65 296.78,243.19 297.30,243.41 297.66,243.70 298.16,242.68 298.75,242.16 299.36,241.33 299.94,240.71 300.44,240.61 300.80,240.54 301.31,240.46 301.84,240.70 302.32,242.02 302.70,242.19 303.16,242.52 303.69,244.35 304.20,244.26 304.59,244.06 305.13,244.27 305.73,244.77 306.28,243.96 306.70,243.80 307.16,242.53 307.70,243.14 308.24,242.02 308.70,242.31 309.11,242.46 309.64,243.29 310.22,244.02 310.77,244.28 311.20,244.35 311.63,245.05 312.17,244.64 312.74,244.58 313.28,245.21 313.70,244.59 314.11,245.19 314.63,245.01 315.17,246.89 315.69,246.40 316.10,246.67 316.52,246.43 317.06,246.46 317.63,246.20 318.17,245.73 318.60,245.50 319.03,246.42 319.58,245.70 320.16,246.80 320.69,246.27 321.10,247.16 321.56,245.84 322.10,244.94 322.64,245.59 323.10,245.25 323.51,245.09 324.06,244.99 324.64,247.11 325.19,248.83 325.60,249.12 326.07,248.64 326.62,248.89 327.16,247.48 327.60,247.15 328.03,247.64 328.56,247.85 329.11,249.81 329.60,249.03 329.99,247.47 330.53,248.37 331.14,247.39 331.72,249.57 332.21,248.22 332.50,247.67" fill="none" stroke="#0000ff" stroke-width="0.8" stroke-linejoin="round"/>
<polyline points="200.50,226.10 200.69,226.14 200.94,226.20 201.24,226.26 201.60,226.34 201.99,226.43 202.43,226.53 202.89,226.63 203.39,226.74 203.91,226.86 204.44,226.98 204.99,227.10 205.55,227.22 206.11,227.34 206.67,227.46 207.22,227.57 207.76,227.68 208.29,227.78 208.79,227.88 209.26,227.96 209.70,228.04 210.10,228.10 210.40,228.14 210.73,228.19 211.10,228.24 211.50,228.29 211.92,228.35 212.38,228.41 212.86,228.47 213.35,228.53 213.87,228.59 214.40,228.66 214.94,228.72 215.49,228.79 216.04,228.85 216.60,228.91 217.16,228.98 217.72,229.04 218.27,229.09 218.81,229.15 219.34,229.20 219.86,229.25 220.36,229.30 220.84,229.34 221.29,229.38 221.72,229.41 222.13,229.44 222.50,229.47 222.84,229.48 223.14,229.50 223.40,229.50 223.91,229.49 224.43,229.46 224.95,229.41 225.49,229.34 226.02,229.25 226.55,229.15 227.06,229.04 227.57,228.93 228.05,228.80 228.51,228.68 228.93,228.55 229.33,228.43 229.69,228.31 230.00,228.20 230.40,228.03 230.84,227.81 231.32,227.55 231.82,227.25 232.33,226.93 232.85,226.60 233.35,226.27 233.83,225.96 234.27,225.67 234.66,225.41 235.00,225.20 235.36,224.97 235.76,224.68 236.20,224.36 236.67,224.02 237.15,223.67 237.65,223.33 238.14,223.02 238.61,222.75 239.07,222.54 239.50,222.40 239.81,222.35 240.19,222.33 240.62,222.33 241.10,222.35 241.62,222.39 242.17,222.43 242.74,222.48 243.31,222.53 243.88,222.57 244.44,222.60 244.97,222.61 245.48,222.60 245.94,222.57 246.35,222.50 246.70,222.40 247.07,222.22 247.49,221.94 247.96,221.58 248.46,221.16 248.98,220.70 249.52,220.21 250.06,219.70 250.59,219.20 251.10,218.72 251.58,218.27 252.02,217.88 252.41,217.56 252.74,217.33 253.00,217.20 253.59,217.23 254.14,217.62 254.63,218.23 255.09,218.90 255.50,219.50 255.90,220.09 256.43,220.95 257.01,221.93 257.60,222.94 258.15,223.83 258.60,224.50 258.98,224.99 259.45,225.55 259.98,226.15 260.54,226.77 261.08,227.35 261.58,227.87 262.00,228.30 262.39,228.68 262.87,229.15 263.43,229.67 264.02,230.21 264.60,230.74 265.15,231.22 265.63,231.62 266.00,231.90 266.45,232.18 266.97,232.43 267.52,232.67 268.07,232.86 268.57,233.01 269.00,233.10 269.40,233.15 269.91,233.20 270.48,233.22 271.07,233.22 271.64,233.16 272.13,233.04 272.50,232.89 272.96,232.34 273.48,231.52 274.01,230.55 274.50,229.63 274.90,228.81 275.32,228.35 275.86,227.44 276.43,226.67 276.97,226.01 277.40,225.59 277.82,225.98 278.33,226.17 278.89,227.15 279.43,227.72 279.90,228.62 280.27,229.14 280.76,230.10 281.31,231.33 281.90,232.28 282.47,233.65 282.99,234.28 283.40,234.95 283.81,235.15 284.33,235.68 284.90,235.96 285.49,235.93 286.05,235.93 286.53,236.31 286.90,236.49 287.36,236.49 287.88,236.42 288.42,236.52 288.91,236.57 289.30,235.78 289.70,235.58 290.21,234.92 290.75,232.95 291.23,232.15 291.60,232.15 292.17,232.47 292.80,233.94 293.30,234.86 293.74,235.70 294.26,238.26 294.80,238.49 295.16,238.58 295.66,239.00 296.23,238.65 296.83,238.27 297.37,237.72 297.80,237.85 298.23,237.57 298.76,236.93 299.35,236.32 299.92,235.78 300.43,235.74 300.80,235.49 301.27,236.42 301.79,237.76 302.29,238.71 302.70,239.41 303.12,240.48 303.65,240.63 304.21,240.19 304.70,240.62 305.08,240.87 305.61,240.18 306.20,240.48 306.79,239.10 307.32,238.75 307.70,239.81 308.20,239.72 308.77,239.05 309.30,240.10 309.70,240.99 310.17,240.71 310.69,241.74 311.20,242.26 311.58,242.11 312.12,241.18 312.71,241.05 313.27,240.00 313.70,240.43 314.11,241.61 314.63,240.46 315.17,241.93 315.69,242.56 316.10,241.17 316.52,242.50 317.06,242.54 317.63,242.46 318.17,243.12 318.60,242.58 319.04,243.16 319.60,243.04 320.19,243.45 320.72,243.32 321.10,245.01 321.61,243.29 322.13,241.94 322.60,243.37 323.02,243.86 323.58,244.15 324.15,245.18 324.60,245.89 325.04,247.07 325.60,245.95 326.16,245.45 326.60,246.29 327.05,246.02 327.60,246.81 328.16,248.64 328.60,248.32 329.02,248.34 329.55,247.33 330.08,247.33 330.50,246.20 330.97,247.10 331.58,247.63 332.15,247.24 332.50,246.99" fill="none" stroke="#ff0000" stroke-width="0.8" stroke-linejoin="round"/>
</g>
<rect x="200.50" y="202.90" width="132.00" height="63.40" fill="none" stroke="#7a7a7a" stroke-width="0.7"/>
<line x1="200.50" y1="266.30" x2="200.50" y2="265.40" stroke="#7a7a7a" stroke-width="0.6"/>
<line x1="200.50" y1="202.90" x2="200.50" y2="203.80" stroke="#7a7a7a" stroke-width="0.6"/>
<line x1="214.18" y1="266.30" x2="214.18" y2="265.40" stroke="#7a7a7a" stroke-width="0.6"/>
<line x1="214.18" y1="202.90" x2="214.18" y2="203.80" stroke="#7a7a7a" stroke-width="0.6"/>
<line x1="223.89" y1="266.30" x2="223.89" y2="265.40" stroke="#7a7a7a" stroke-width="0.6"/>
<line x1="223.89" y1="202.90" x2="223.89" y2="203.80" stroke="#7a7a7a" stroke-width="0.6"/>
<line x1="231.42" y1="266.30" x2="231.42" y2="265.40" stroke="#7a7a7a" stroke-width="0.6"/>
<line x1="231.42" y1="202.90" x2="231.42" y2="203.80" stroke="#7a7a7a" stroke-width="0.6"/>
<line x1="237.57" y1="266.30" x2="237.57" y2="265.40" stroke="#7a7a7a" stroke-width="0.6"/>
<line x1="237.57" y1="202.90" x2="237.57" y2="203.80" stroke="#7a7a7a" stroke-width="0.6"/>
<line x1="242.77" y1="266.30" x2="242.77" y2="265.40" stroke="#7a7a7a" stroke-width="0.6"/>
<line x1="242.77" y1="202.90" x2="242.77" y2="203.80" stroke="#7a7a7a" stroke-width="0.6"/>
<line x1="247.28" y1="266.30" x2="247.28" y2="265.40" stroke="#7a7a7a" stroke-width="0.6"/>
<line x1="247.28" y1="202.90" x2="247.28" y2="203.80" stroke="#7a7a7a" stroke-width="0.6"/>
<line x1="251.25" y1="266.30" x2="251.25" y2="265.40" stroke="#7a7a7a" stroke-width="0.6"/>
<line x1="251.25" y1="202.90" x2="251.25" y2="203.80" stroke="#7a7a7a" stroke-width="0.6"/>
<line x1="254.81" y1="266.30" x2="254.81" y2="264.86" stroke="#7a7a7a" stroke-width="0.6"/>
<line x1="254.81" y1="202.90" x2="254.81" y2="204.34" stroke="#7a7a7a" stroke-width="0.6"/>
<line x1="278.19" y1="266.30" x2="278.19" y2="265.40" stroke="#7a7a7a" stroke-width="0.6"/>
<line x1="278.19" y1="202.90" x2="278.19" y2="203.80" stroke="#7a7a7a" stroke-width="0.6"/>
<line x1="291.88" y1="266.30" x2="291.88" y2="265.40" stroke="#7a7a7a" stroke-width="0.6"/>
<line x1="291.88" y1="202.90" x2="291.88" y2="203.80" stroke="#7a7a7a" stroke-width="0.6"/>
<line x1="301.58" y1="266.30" x2="301.58" y2="265.40" stroke="#7a7a7a" stroke-width="0.6"/>
<line x1="301.58" y1="202.90" x2="301.58" y2="203.80" stroke="#7a7a7a" stroke-width="0.6"/>
<line x1="309.11" y1="266.30" x2="309.11" y2="265.40" stroke="#7a7a7a" stroke-width="0.6"/>
<line x1="309.11" y1="202.90" x2="309.11" y2="203.80" stroke="#7a7a7a" stroke-width="0.6"/>
<line x1="315.26" y1="266.30" x2="315.26" y2="265.40" stroke="#7a7a7a" stroke-width="0.6"/>
<line x1="315.26" y1="202.90" x2="315.26" y2="203.80" stroke="#7a7a7a" stroke-width="0.6"/>
<line x1="320.47" y1="266.30" x2="320.47" y2="265.40" stroke="#7a7a7a" stroke-width="0.6"/>
<line x1="320.47" y1="202.90" x2="320.47" y2="203.80" stroke="#7a7a7a" stroke-width="0.6"/>
<line x1="324.97" y1="266.30" x2="324.97" y2="265.40" stroke="#7a7a7a" stroke-width="0.6"/>
<line x1="324.97" y1="202.90" x2="324.97" y2="203.80" stroke="#7a7a7a" stroke-width="0.6"/>
<line x1="328.94" y1="266.30" x2="328.94" y2="265.40" stroke="#7a7a7a" stroke-width="0.6"/>
<line x1="328.94" y1="202.90" x2="328.94" y2="203.80" stroke="#7a7a7a" stroke-width="0.6"/>
<line x1="200.50" y1="255.73" x2="201.94" y2="255.73" stroke="#7a7a7a" stroke-width="0.6"/>
<line x1="332.50" y1="255.73" x2="331.06" y2="255.73" stroke="#7a7a7a" stroke-width="0.6"/>
<line x1="200.50" y1="245.17" x2="201.94" y2="245.17" stroke="#7a7a7a" stroke-width="0.6"/>
<line x1="332.50" y1="245.17" x2="331.06" y2="245.17" stroke="#7a7a7a" stroke-width="0.6"/>
<line x1="200.50" y1="234.60" x2="201.94" y2="234.60" stroke="#7a7a7a" stroke-width="0.6"/>
<line x1="332.50" y1="234.60" x2="331.06" y2="234.60" stroke="#7a7a7a" stroke-width="0.6"/>
<line x1="200.50" y1="224.03" x2="201.94" y2="224.03" stroke="#7a7a7a" stroke-width="0.6"/>
<line x1="332.50" y1="224.03" x2="331.06" y2="224.03" stroke="#7a7a7a" stroke-width="0.6"/>
<line x1="200.50" y1="213.47" x2="201.94" y2="213.47" stroke="#7a7a7a" stroke-width="0.6"/>
<line x1="332.50" y1="213.47" x2="331.06" y2="213.47" stroke="#7a7a7a" stroke-width="0.6"/>
<text x="197.90" y="239.20" text-anchor="end" class="tk">10<tspan class="sup" dy="-4.5">-5</tspan></text>
<text x="254.91" y="278.60" text-anchor="middle" class="tk">10<tspan class="sup" dy="-4.0">0</tspan></text>
<text x="332.60" y="278.60" text-anchor="middle" class="tk">10<tspan class="sup" dy="-4.0">1</tspan></text>
<text x="266.50" y="287.60" text-anchor="middle" class="pl">(j)</text>
<text transform="translate(182.20,234.60) rotate(-90)" text-anchor="middle" class="yl">PSD (m<tspan class="sup2" dy="-4.4">2</tspan><tspan dy="4.4">/s</tspan><tspan class="sup2" dy="-4.4">2</tspan><tspan dy="4.4">/cpd)</tspan></text>
<text transform="translate(266.50,299.30) scale(0.9,1)" text-anchor="middle" class="xl">Frequency (cpd)</text>
<line x1="417.72" y1="202.90" x2="417.72" y2="266.30" stroke="#6e6e6e" stroke-width="0.6"/>
<line x1="426.80" y1="202.90" x2="426.80" y2="266.30" stroke="#6e6e6e" stroke-width="0.6"/>
<line x1="429.36" y1="202.90" x2="429.36" y2="266.30" stroke="#6e6e6e" stroke-width="0.6"/>
<line x1="441.09" y1="202.90" x2="441.09" y2="266.30" stroke="#6e6e6e" stroke-width="0.6"/>
<line x1="445.94" y1="202.90" x2="445.94" y2="266.30" stroke="#6e6e6e" stroke-width="0.6"/>
<line x1="447.41" y1="202.90" x2="447.41" y2="266.30" stroke="#6e6e6e" stroke-width="0.6"/>
<line x1="451.47" y1="202.90" x2="451.47" y2="266.30" stroke="#6e6e6e" stroke-width="0.6"/>
<line x1="452.64" y1="202.90" x2="452.64" y2="266.30" stroke="#6e6e6e" stroke-width="0.6"/>
<clipPath id="cp22"><rect x="375.00" y="202.90" width="131.90" height="63.40"/></clipPath>
<g clip-path="url(#cp22)">
<polyline points="375.00,242.30 381.00,241.30 386.90,241.80 393.90,244.80 398.80,245.30 402.80,244.00 407.80,245.30 410.20,243.30 413.70,241.30 415.70,237.90 418.20,231.90 420.70,232.90 422.70,234.40 424.60,229.90 427.10,227.90 428.60,226.40 430.60,228.90 432.60,234.40 435.60,238.40 436.00,239.54 436.82,240.57 437.62,243.64 438.00,243.60 438.40,243.50 439.16,242.82 439.91,244.63 440.64,244.66 441.35,245.07 442.05,244.08 442.10,244.60 442.74,245.45 443.41,245.38 444.07,245.42 444.20,246.60 444.71,245.23 445.34,245.87 445.97,245.24 446.58,246.05 447.18,244.86 447.77,242.67 447.80,243.00 448.35,242.72 448.92,240.97 449.48,241.20 450.03,239.86 450.30,240.50 450.57,237.25 451.10,233.96 451.60,231.20 451.63,232.55 452.14,231.00 452.65,233.50 453.16,234.72 453.40,234.80 453.65,235.29 454.14,238.65 454.62,241.31 454.90,242.50 455.09,245.62 455.56,244.61 456.02,244.80 456.47,247.58 456.92,247.20 457.36,250.34 457.50,247.70 457.80,247.20 458.23,246.50 458.66,244.82 459.08,244.88 459.49,246.61 459.90,247.07 460.10,246.60 460.31,245.92 460.71,244.92 461.10,243.20 461.50,246.17 461.88,247.18 462.26,246.88 462.64,247.63 463.02,244.55 463.39,241.77 463.70,243.00 463.75,239.53 464.11,239.99 464.47,241.40 464.83,243.09 465.18,241.23 465.52,238.80 465.87,242.98 466.20,242.00 466.21,244.49 466.54,241.35 466.88,244.86 467.21,241.21 467.53,244.97 467.80,245.60 467.86,242.38 468.18,243.86 468.49,247.69 468.81,248.03 469.12,251.61 469.43,249.18 469.73,251.83 469.80,250.70 470.30,247.15 470.89,249.12 471.48,250.43 472.05,248.38 472.61,248.30 473.17,253.23 473.72,248.90 474.25,250.20 474.78,248.87 475.30,251.34 475.81,252.68 476.32,254.68 476.82,255.21 477.31,249.75 477.79,249.47 478.27,249.31 478.74,249.67 479.20,251.47 479.66,251.21 480.11,249.66 480.55,249.56 480.99,257.84 481.42,249.61 481.85,257.97 482.27,250.20 482.69,249.14 483.10,250.25 483.51,250.56 483.91,251.28 484.31,250.27 484.70,250.70 485.09,252.59 485.48,254.88 485.86,253.91 486.23,255.62 486.60,253.45 486.97,259.52 487.33,249.04 487.69,250.68 488.05,252.72 488.40,252.24 488.75,253.45 489.09,253.77 489.44,257.23 489.77,253.41 490.11,252.69 490.44,250.65 490.77,252.70 491.09,252.08 491.41,253.87 491.73,252.63 492.05,254.05 492.36,252.30 492.67,250.45 492.98,251.25 493.28,251.45 493.58,255.77 493.88,253.71 494.18,254.71 494.47,257.00 494.76,256.31 495.05,253.92 495.34,254.77 495.62,249.88 495.90,254.73 496.18,252.41 496.46,250.22 496.74,254.89 497.01,253.62 497.28,250.81 497.55,255.20 497.81,258.82 498.08,255.71 498.34,253.36 498.60,256.07 498.86,261.58 499.11,254.07 499.36,253.91 499.62,253.14 499.87,255.00 500.12,255.40 500.36,256.90 500.61,254.72 500.85,256.37 501.09,262.72 501.33,253.39 501.57,254.32 501.80,254.94 502.04,254.56 502.27,254.84 502.50,254.90 502.73,256.97 502.96,255.41 503.19,256.15 503.41,256.01 503.64,258.54 503.86,252.08 504.08,256.53 504.30,253.10 504.52,253.80 504.73,255.50 504.95,253.66 505.16,256.88 505.37,257.39 505.58,259.63 505.79,260.65 506.00,254.75 506.21,263.04 506.42,259.09 506.62,259.35 506.82,255.57" fill="none" stroke="#ff0000" stroke-width="0.8" stroke-linejoin="round"/>
<polyline points="375.00,235.70 379.00,234.10 383.90,234.10 387.90,237.40 390.40,236.20 393.40,241.00 396.30,239.40 399.30,242.30 403.30,238.40 405.80,239.40 407.80,239.40 409.20,244.00 411.70,238.90 414.20,232.90 416.70,230.40 419.20,232.90 421.70,231.90 424.10,234.40 426.10,224.50 427.60,228.90 429.10,223.50 430.60,230.90 432.60,237.90 434.60,239.40 436.00,240.54 436.60,242.80 436.82,242.82 437.62,242.36 438.00,243.60 438.40,242.96 439.16,246.16 439.91,245.42 440.64,247.30 441.10,247.70 441.35,247.50 442.05,243.69 442.74,242.34 443.10,241.00 443.41,243.16 444.07,242.51 444.70,243.60 444.71,242.62 445.34,244.46 445.97,245.50 446.20,245.60 446.58,246.60 447.18,245.09 447.77,243.15 448.30,242.50 448.35,241.57 448.92,244.29 449.48,245.02 449.80,246.60 450.03,243.63 450.57,240.57 451.10,234.81 451.30,231.80 451.63,233.26 452.14,238.30 452.65,241.34 452.90,241.00 453.16,240.60 453.65,243.47 454.14,241.06 454.62,243.04 454.90,242.50 455.09,243.52 455.56,243.42 456.02,243.78 456.47,248.69 456.92,248.04 457.00,247.70 457.36,247.52 457.80,247.64 458.23,248.60 458.50,250.20 458.66,249.66 459.08,248.67 459.49,248.59 459.90,246.62 460.31,244.66 460.60,247.70 460.71,247.04 461.10,247.75 461.50,243.30 461.88,243.11 462.26,244.65 462.60,243.60 462.64,245.16 463.02,244.34 463.39,245.19 463.75,249.18 464.11,249.53 464.20,248.20 464.47,245.88 464.83,243.91 465.18,243.12 465.20,244.10 465.52,244.10 465.87,243.01 466.21,245.28 466.54,244.87 466.70,246.10 466.88,246.28 467.21,249.27 467.53,249.57 467.86,248.64 468.18,247.60 468.49,252.01 468.50,251.00 469.00,253.00 469.62,251.52 470.22,253.57 470.82,252.11 471.40,248.12 471.98,252.12 472.54,250.71 473.10,254.27 473.65,256.51 474.18,259.71 474.71,255.92 475.23,253.43 475.75,255.11 476.25,255.57 476.75,250.00 477.24,251.88 477.73,251.31 478.20,255.64 478.67,254.93 479.14,255.39 479.60,257.02 480.05,256.07 480.49,251.42 480.93,252.04 481.37,255.45 481.80,253.57 482.22,252.57 482.64,256.20 483.05,256.94 483.46,254.27 483.86,253.77 484.26,257.06 484.65,254.45 485.04,252.86 485.43,256.22 485.81,259.26 486.18,253.05 486.56,253.09 486.92,256.52 487.29,255.65 487.65,257.40 488.00,257.35 488.36,262.90 488.70,252.91 489.05,256.21 489.39,253.79 489.73,250.99 490.07,252.46 490.40,253.57 490.73,257.50 491.05,255.78 491.37,253.80 491.69,253.31 492.01,255.80 492.32,257.60 492.63,253.98 492.94,256.14 493.24,256.67 493.55,255.78 493.84,255.43 494.14,255.51 494.44,254.91 494.73,254.18 495.02,255.74 495.30,255.90 495.59,255.65 495.87,253.83 496.15,258.43 496.43,257.05 496.70,264.50 496.97,266.78 497.24,259.07 497.51,264.83 497.78,256.49 498.04,253.38 498.30,254.58 498.56,256.16 498.82,257.98 499.08,264.23 499.33,256.63 499.58,257.56 499.83,260.80 500.08,259.24 500.33,263.36 500.58,262.22 500.82,264.38 501.06,262.86 501.30,260.15 501.54,259.55 501.77,255.87 502.01,258.29 502.24,259.07 502.47,258.32 502.70,257.66 502.93,257.77 503.16,262.59 503.38,259.46 503.61,259.79 503.83,260.48 504.05,255.47 504.27,257.19 504.49,257.82 504.70,253.57 504.92,258.22 505.13,256.98 505.35,258.54 505.56,261.68 505.77,258.93 505.98,257.71 506.18,258.78 506.39,262.30 506.59,257.10 506.80,256.08" fill="none" stroke="#0000ff" stroke-width="0.8" stroke-linejoin="round"/>
</g>
<rect x="375.00" y="202.90" width="131.90" height="63.40" fill="none" stroke="#7a7a7a" stroke-width="0.7"/>
<line x1="375.00" y1="266.30" x2="375.00" y2="265.40" stroke="#7a7a7a" stroke-width="0.6"/>
<line x1="375.00" y1="202.90" x2="375.00" y2="203.80" stroke="#7a7a7a" stroke-width="0.6"/>
<line x1="388.67" y1="266.30" x2="388.67" y2="265.40" stroke="#7a7a7a" stroke-width="0.6"/>
<line x1="388.67" y1="202.90" x2="388.67" y2="203.80" stroke="#7a7a7a" stroke-width="0.6"/>
<line x1="398.37" y1="266.30" x2="398.37" y2="265.40" stroke="#7a7a7a" stroke-width="0.6"/>
<line x1="398.37" y1="202.90" x2="398.37" y2="203.80" stroke="#7a7a7a" stroke-width="0.6"/>
<line x1="405.89" y1="266.30" x2="405.89" y2="265.40" stroke="#7a7a7a" stroke-width="0.6"/>
<line x1="405.89" y1="202.90" x2="405.89" y2="203.80" stroke="#7a7a7a" stroke-width="0.6"/>
<line x1="412.04" y1="266.30" x2="412.04" y2="265.40" stroke="#7a7a7a" stroke-width="0.6"/>
<line x1="412.04" y1="202.90" x2="412.04" y2="203.80" stroke="#7a7a7a" stroke-width="0.6"/>
<line x1="417.24" y1="266.30" x2="417.24" y2="265.40" stroke="#7a7a7a" stroke-width="0.6"/>
<line x1="417.24" y1="202.90" x2="417.24" y2="203.80" stroke="#7a7a7a" stroke-width="0.6"/>
<line x1="421.74" y1="266.30" x2="421.74" y2="265.40" stroke="#7a7a7a" stroke-width="0.6"/>
<line x1="421.74" y1="202.90" x2="421.74" y2="203.80" stroke="#7a7a7a" stroke-width="0.6"/>
<line x1="425.71" y1="266.30" x2="425.71" y2="265.40" stroke="#7a7a7a" stroke-width="0.6"/>
<line x1="425.71" y1="202.90" x2="425.71" y2="203.80" stroke="#7a7a7a" stroke-width="0.6"/>
<line x1="429.26" y1="266.30" x2="429.26" y2="264.86" stroke="#7a7a7a" stroke-width="0.6"/>
<line x1="429.26" y1="202.90" x2="429.26" y2="204.34" stroke="#7a7a7a" stroke-width="0.6"/>
<line x1="452.64" y1="266.30" x2="452.64" y2="265.40" stroke="#7a7a7a" stroke-width="0.6"/>
<line x1="452.64" y1="202.90" x2="452.64" y2="203.80" stroke="#7a7a7a" stroke-width="0.6"/>
<line x1="466.31" y1="266.30" x2="466.31" y2="265.40" stroke="#7a7a7a" stroke-width="0.6"/>
<line x1="466.31" y1="202.90" x2="466.31" y2="203.80" stroke="#7a7a7a" stroke-width="0.6"/>
<line x1="476.01" y1="266.30" x2="476.01" y2="265.40" stroke="#7a7a7a" stroke-width="0.6"/>
<line x1="476.01" y1="202.90" x2="476.01" y2="203.80" stroke="#7a7a7a" stroke-width="0.6"/>
<line x1="483.53" y1="266.30" x2="483.53" y2="265.40" stroke="#7a7a7a" stroke-width="0.6"/>
<line x1="483.53" y1="202.90" x2="483.53" y2="203.80" stroke="#7a7a7a" stroke-width="0.6"/>
<line x1="489.68" y1="266.30" x2="489.68" y2="265.40" stroke="#7a7a7a" stroke-width="0.6"/>
<line x1="489.68" y1="202.90" x2="489.68" y2="203.80" stroke="#7a7a7a" stroke-width="0.6"/>
<line x1="494.87" y1="266.30" x2="494.87" y2="265.40" stroke="#7a7a7a" stroke-width="0.6"/>
<line x1="494.87" y1="202.90" x2="494.87" y2="203.80" stroke="#7a7a7a" stroke-width="0.6"/>
<line x1="499.38" y1="266.30" x2="499.38" y2="265.40" stroke="#7a7a7a" stroke-width="0.6"/>
<line x1="499.38" y1="202.90" x2="499.38" y2="203.80" stroke="#7a7a7a" stroke-width="0.6"/>
<line x1="503.35" y1="266.30" x2="503.35" y2="265.40" stroke="#7a7a7a" stroke-width="0.6"/>
<line x1="503.35" y1="202.90" x2="503.35" y2="203.80" stroke="#7a7a7a" stroke-width="0.6"/>
<line x1="375.00" y1="266.30" x2="376.44" y2="266.30" stroke="#7a7a7a" stroke-width="0.6"/>
<line x1="506.90" y1="266.30" x2="505.46" y2="266.30" stroke="#7a7a7a" stroke-width="0.6"/>
<line x1="375.00" y1="262.48" x2="375.90" y2="262.48" stroke="#7a7a7a" stroke-width="0.6"/>
<line x1="506.90" y1="262.48" x2="506.00" y2="262.48" stroke="#7a7a7a" stroke-width="0.6"/>
<line x1="375.00" y1="260.25" x2="375.90" y2="260.25" stroke="#7a7a7a" stroke-width="0.6"/>
<line x1="506.90" y1="260.25" x2="506.00" y2="260.25" stroke="#7a7a7a" stroke-width="0.6"/>
<line x1="375.00" y1="258.67" x2="375.90" y2="258.67" stroke="#7a7a7a" stroke-width="0.6"/>
<line x1="506.90" y1="258.67" x2="506.00" y2="258.67" stroke="#7a7a7a" stroke-width="0.6"/>
<line x1="375.00" y1="257.44" x2="375.90" y2="257.44" stroke="#7a7a7a" stroke-width="0.6"/>
<line x1="506.90" y1="257.44" x2="506.00" y2="257.44" stroke="#7a7a7a" stroke-width="0.6"/>
<line x1="375.00" y1="256.43" x2="375.90" y2="256.43" stroke="#7a7a7a" stroke-width="0.6"/>
<line x1="506.90" y1="256.43" x2="506.00" y2="256.43" stroke="#7a7a7a" stroke-width="0.6"/>
<line x1="375.00" y1="255.58" x2="375.90" y2="255.58" stroke="#7a7a7a" stroke-width="0.6"/>
<line x1="506.90" y1="255.58" x2="506.00" y2="255.58" stroke="#7a7a7a" stroke-width="0.6"/>
<line x1="375.00" y1="254.85" x2="375.90" y2="254.85" stroke="#7a7a7a" stroke-width="0.6"/>
<line x1="506.90" y1="254.85" x2="506.00" y2="254.85" stroke="#7a7a7a" stroke-width="0.6"/>
<line x1="375.00" y1="254.20" x2="375.90" y2="254.20" stroke="#7a7a7a" stroke-width="0.6"/>
<line x1="506.90" y1="254.20" x2="506.00" y2="254.20" stroke="#7a7a7a" stroke-width="0.6"/>
<line x1="375.00" y1="253.62" x2="376.44" y2="253.62" stroke="#7a7a7a" stroke-width="0.6"/>
<line x1="506.90" y1="253.62" x2="505.46" y2="253.62" stroke="#7a7a7a" stroke-width="0.6"/>
<line x1="375.00" y1="249.80" x2="375.90" y2="249.80" stroke="#7a7a7a" stroke-width="0.6"/>
<line x1="506.90" y1="249.80" x2="506.00" y2="249.80" stroke="#7a7a7a" stroke-width="0.6"/>
<line x1="375.00" y1="247.57" x2="375.90" y2="247.57" stroke="#7a7a7a" stroke-width="0.6"/>
<line x1="506.90" y1="247.57" x2="506.00" y2="247.57" stroke="#7a7a7a" stroke-width="0.6"/>
<line x1="375.00" y1="245.99" x2="375.90" y2="245.99" stroke="#7a7a7a" stroke-width="0.6"/>
<line x1="506.90" y1="245.99" x2="506.00" y2="245.99" stroke="#7a7a7a" stroke-width="0.6"/>
<line x1="375.00" y1="244.76" x2="375.90" y2="244.76" stroke="#7a7a7a" stroke-width="0.6"/>
<line x1="506.90" y1="244.76" x2="506.00" y2="244.76" stroke="#7a7a7a" stroke-width="0.6"/>
<line x1="375.00" y1="243.75" x2="375.90" y2="243.75" stroke="#7a7a7a" stroke-width="0.6"/>
<line x1="506.90" y1="243.75" x2="506.00" y2="243.75" stroke="#7a7a7a" stroke-width="0.6"/>
<line x1="375.00" y1="242.90" x2="375.90" y2="242.90" stroke="#7a7a7a" stroke-width="0.6"/>
<line x1="506.90" y1="242.90" x2="506.00" y2="242.90" stroke="#7a7a7a" stroke-width="0.6"/>
<line x1="375.00" y1="242.17" x2="375.90" y2="242.17" stroke="#7a7a7a" stroke-width="0.6"/>
<line x1="506.90" y1="242.17" x2="506.00" y2="242.17" stroke="#7a7a7a" stroke-width="0.6"/>
<line x1="375.00" y1="241.52" x2="375.90" y2="241.52" stroke="#7a7a7a" stroke-width="0.6"/>
<line x1="506.90" y1="241.52" x2="506.00" y2="241.52" stroke="#7a7a7a" stroke-width="0.6"/>
<line x1="375.00" y1="240.94" x2="376.44" y2="240.94" stroke="#7a7a7a" stroke-width="0.6"/>
<line x1="506.90" y1="240.94" x2="505.46" y2="240.94" stroke="#7a7a7a" stroke-width="0.6"/>
<line x1="375.00" y1="237.12" x2="375.90" y2="237.12" stroke="#7a7a7a" stroke-width="0.6"/>
<line x1="506.90" y1="237.12" x2="506.00" y2="237.12" stroke="#7a7a7a" stroke-width="0.6"/>
<line x1="375.00" y1="234.89" x2="375.90" y2="234.89" stroke="#7a7a7a" stroke-width="0.6"/>
<line x1="506.90" y1="234.89" x2="506.00" y2="234.89" stroke="#7a7a7a" stroke-width="0.6"/>
<line x1="375.00" y1="233.31" x2="375.90" y2="233.31" stroke="#7a7a7a" stroke-width="0.6"/>
<line x1="506.90" y1="233.31" x2="506.00" y2="233.31" stroke="#7a7a7a" stroke-width="0.6"/>
<line x1="375.00" y1="232.08" x2="375.90" y2="232.08" stroke="#7a7a7a" stroke-width="0.6"/>
<line x1="506.90" y1="232.08" x2="506.00" y2="232.08" stroke="#7a7a7a" stroke-width="0.6"/>
<line x1="375.00" y1="231.07" x2="375.90" y2="231.07" stroke="#7a7a7a" stroke-width="0.6"/>
<line x1="506.90" y1="231.07" x2="506.00" y2="231.07" stroke="#7a7a7a" stroke-width="0.6"/>
<line x1="375.00" y1="230.22" x2="375.90" y2="230.22" stroke="#7a7a7a" stroke-width="0.6"/>
<line x1="506.90" y1="230.22" x2="506.00" y2="230.22" stroke="#7a7a7a" stroke-width="0.6"/>
<line x1="375.00" y1="229.49" x2="375.90" y2="229.49" stroke="#7a7a7a" stroke-width="0.6"/>
<line x1="506.90" y1="229.49" x2="506.00" y2="229.49" stroke="#7a7a7a" stroke-width="0.6"/>
<line x1="375.00" y1="228.84" x2="375.90" y2="228.84" stroke="#7a7a7a" stroke-width="0.6"/>
<line x1="506.90" y1="228.84" x2="506.00" y2="228.84" stroke="#7a7a7a" stroke-width="0.6"/>
<line x1="375.00" y1="228.26" x2="376.44" y2="228.26" stroke="#7a7a7a" stroke-width="0.6"/>
<line x1="506.90" y1="228.26" x2="505.46" y2="228.26" stroke="#7a7a7a" stroke-width="0.6"/>
<line x1="375.00" y1="224.44" x2="375.90" y2="224.44" stroke="#7a7a7a" stroke-width="0.6"/>
<line x1="506.90" y1="224.44" x2="506.00" y2="224.44" stroke="#7a7a7a" stroke-width="0.6"/>
<line x1="375.00" y1="222.21" x2="375.90" y2="222.21" stroke="#7a7a7a" stroke-width="0.6"/>
<line x1="506.90" y1="222.21" x2="506.00" y2="222.21" stroke="#7a7a7a" stroke-width="0.6"/>
<line x1="375.00" y1="220.63" x2="375.90" y2="220.63" stroke="#7a7a7a" stroke-width="0.6"/>
<line x1="506.90" y1="220.63" x2="506.00" y2="220.63" stroke="#7a7a7a" stroke-width="0.6"/>
<line x1="375.00" y1="219.40" x2="375.90" y2="219.40" stroke="#7a7a7a" stroke-width="0.6"/>
<line x1="506.90" y1="219.40" x2="506.00" y2="219.40" stroke="#7a7a7a" stroke-width="0.6"/>
<line x1="375.00" y1="218.39" x2="375.90" y2="218.39" stroke="#7a7a7a" stroke-width="0.6"/>
<line x1="506.90" y1="218.39" x2="506.00" y2="218.39" stroke="#7a7a7a" stroke-width="0.6"/>
<line x1="375.00" y1="217.54" x2="375.90" y2="217.54" stroke="#7a7a7a" stroke-width="0.6"/>
<line x1="506.90" y1="217.54" x2="506.00" y2="217.54" stroke="#7a7a7a" stroke-width="0.6"/>
<line x1="375.00" y1="216.81" x2="375.90" y2="216.81" stroke="#7a7a7a" stroke-width="0.6"/>
<line x1="506.90" y1="216.81" x2="506.00" y2="216.81" stroke="#7a7a7a" stroke-width="0.6"/>
<line x1="375.00" y1="216.16" x2="375.90" y2="216.16" stroke="#7a7a7a" stroke-width="0.6"/>
<line x1="506.90" y1="216.16" x2="506.00" y2="216.16" stroke="#7a7a7a" stroke-width="0.6"/>
<line x1="375.00" y1="215.58" x2="376.44" y2="215.58" stroke="#7a7a7a" stroke-width="0.6"/>
<line x1="506.90" y1="215.58" x2="505.46" y2="215.58" stroke="#7a7a7a" stroke-width="0.6"/>
<line x1="375.00" y1="211.76" x2="375.90" y2="211.76" stroke="#7a7a7a" stroke-width="0.6"/>
<line x1="506.90" y1="211.76" x2="506.00" y2="211.76" stroke="#7a7a7a" stroke-width="0.6"/>
<line x1="375.00" y1="209.53" x2="375.90" y2="209.53" stroke="#7a7a7a" stroke-width="0.6"/>
<line x1="506.90" y1="209.53" x2="506.00" y2="209.53" stroke="#7a7a7a" stroke-width="0.6"/>
<line x1="375.00" y1="207.95" x2="375.90" y2="207.95" stroke="#7a7a7a" stroke-width="0.6"/>
<line x1="506.90" y1="207.95" x2="506.00" y2="207.95" stroke="#7a7a7a" stroke-width="0.6"/>
<line x1="375.00" y1="206.72" x2="375.90" y2="206.72" stroke="#7a7a7a" stroke-width="0.6"/>
<line x1="506.90" y1="206.72" x2="506.00" y2="206.72" stroke="#7a7a7a" stroke-width="0.6"/>
<line x1="375.00" y1="205.71" x2="375.90" y2="205.71" stroke="#7a7a7a" stroke-width="0.6"/>
<line x1="506.90" y1="205.71" x2="506.00" y2="205.71" stroke="#7a7a7a" stroke-width="0.6"/>
<line x1="375.00" y1="204.86" x2="375.90" y2="204.86" stroke="#7a7a7a" stroke-width="0.6"/>
<line x1="506.90" y1="204.86" x2="506.00" y2="204.86" stroke="#7a7a7a" stroke-width="0.6"/>
<line x1="375.00" y1="204.13" x2="375.90" y2="204.13" stroke="#7a7a7a" stroke-width="0.6"/>
<line x1="506.90" y1="204.13" x2="506.00" y2="204.13" stroke="#7a7a7a" stroke-width="0.6"/>
<line x1="375.00" y1="203.48" x2="375.90" y2="203.48" stroke="#7a7a7a" stroke-width="0.6"/>
<line x1="506.90" y1="203.48" x2="506.00" y2="203.48" stroke="#7a7a7a" stroke-width="0.6"/>
<text x="372.40" y="207.50" text-anchor="end" class="tk">10<tspan class="sup" dy="-4.5">0</tspan></text>
<text x="372.40" y="232.86" text-anchor="end" class="tk">10<tspan class="sup" dy="-4.5">-2</tspan></text>
<text x="372.40" y="258.22" text-anchor="end" class="tk">10<tspan class="sup" dy="-4.5">-4</tspan></text>
<text x="429.36" y="278.60" text-anchor="middle" class="tk">10<tspan class="sup" dy="-4.0">0</tspan></text>
<text x="507.00" y="278.60" text-anchor="middle" class="tk">10<tspan class="sup" dy="-4.0">1</tspan></text>
<text x="440.95" y="287.60" text-anchor="middle" class="pl">(k)</text>
<text transform="translate(356.70,234.60) rotate(-90)" text-anchor="middle" class="yl">PSD (m<tspan class="sup2" dy="-4.4">2</tspan><tspan dy="4.4">/s</tspan><tspan class="sup2" dy="-4.4">2</tspan><tspan dy="4.4">/cpd)</tspan></text>
<text transform="translate(440.95,299.30) scale(0.9,1)" text-anchor="middle" class="xl">Frequency (cpd)</text>
<line x1="590.28" y1="202.90" x2="590.28" y2="266.30" stroke="#6e6e6e" stroke-width="0.6"/>
<line x1="599.38" y1="202.90" x2="599.38" y2="266.30" stroke="#6e6e6e" stroke-width="0.6"/>
<line x1="601.94" y1="202.90" x2="601.94" y2="266.30" stroke="#6e6e6e" stroke-width="0.6"/>
<line x1="613.69" y1="202.90" x2="613.69" y2="266.30" stroke="#6e6e6e" stroke-width="0.6"/>
<line x1="618.55" y1="202.90" x2="618.55" y2="266.30" stroke="#6e6e6e" stroke-width="0.6"/>
<line x1="620.02" y1="202.90" x2="620.02" y2="266.30" stroke="#6e6e6e" stroke-width="0.6"/>
<line x1="624.09" y1="202.90" x2="624.09" y2="266.30" stroke="#6e6e6e" stroke-width="0.6"/>
<line x1="625.25" y1="202.90" x2="625.25" y2="266.30" stroke="#6e6e6e" stroke-width="0.6"/>
<clipPath id="cp23"><rect x="547.50" y="202.90" width="132.10" height="63.40"/></clipPath>
<g clip-path="url(#cp23)">
<polyline points="547.50,228.00 547.71,228.05 547.99,228.11 548.35,228.19 548.76,228.29 549.23,228.40 549.74,228.52 550.29,228.64 550.86,228.77 551.44,228.91 552.04,229.04 552.63,229.18 553.21,229.31 553.78,229.43 554.31,229.55 554.81,229.66 555.26,229.75 555.66,229.83 556.00,229.90 556.38,229.97 556.80,230.04 557.25,230.12 557.72,230.20 558.22,230.28 558.72,230.35 559.24,230.43 559.76,230.51 560.28,230.58 560.78,230.65 561.28,230.71 561.75,230.77 562.20,230.82 562.62,230.87 563.00,230.90 563.33,230.92 563.71,230.94 564.14,230.96 564.61,230.98 565.12,230.99 565.64,231.00 566.19,231.01 566.75,231.02 567.32,231.03 567.88,231.04 568.43,231.05 568.97,231.07 569.49,231.08 569.98,231.10 570.43,231.12 570.84,231.14 571.20,231.17 571.50,231.20 571.93,231.26 572.39,231.34 572.88,231.43 573.39,231.54 573.90,231.66 574.42,231.79 574.92,231.93 575.41,232.06 575.87,232.20 576.29,232.34 576.67,232.47 577.00,232.60 577.39,232.79 577.85,233.04 578.35,233.34 578.88,233.67 579.42,234.02 579.95,234.37 580.46,234.70 580.94,234.99 581.35,235.23 581.70,235.40 582.12,235.56 582.62,235.70 583.16,235.84 583.72,235.96 584.28,236.07 584.81,236.16 585.29,236.24 585.70,236.30 586.07,236.36 586.53,236.43 587.04,236.50 587.59,236.57 588.15,236.63 588.70,236.67 589.20,236.69 589.64,236.66 590.00,236.60 590.44,236.41 590.95,236.11 591.50,235.72 592.07,235.28 592.61,234.82 593.10,234.38 593.50,234.00 593.91,233.56 594.41,232.96 594.97,232.26 595.55,231.53 596.11,230.81 596.60,230.19 597.00,229.70 597.39,229.22 597.85,228.63 598.37,227.98 598.89,227.33 599.40,226.76 599.84,226.33 600.20,226.10 600.60,226.06 601.08,226.17 601.60,226.40 602.12,226.72 602.60,227.10 603.00,227.50 603.42,228.12 603.95,229.06 604.54,230.18 605.13,231.31 605.67,232.30 606.10,233.00 606.52,233.53 607.04,234.10 607.61,234.68 608.17,235.21 608.69,235.67 609.10,236.00 609.50,236.26 609.98,236.53 610.51,236.79 611.04,237.03 611.55,237.23 612.00,237.40 612.36,237.52 612.81,237.66 613.33,237.82 613.89,237.97 614.46,238.12 615.03,238.25 615.55,238.35 616.00,238.40 616.35,238.43 616.81,238.46 617.33,238.48 617.90,238.52 618.51,238.50 619.11,238.52 619.70,238.48 620.24,238.49 620.72,238.39 621.12,238.24 621.40,238.11 622.07,236.78 622.53,234.80 622.90,232.89 623.37,231.21 623.93,229.26 624.40,228.18 624.85,228.83 625.41,230.30 625.90,232.03 626.28,233.37 626.77,234.77 627.33,236.36 627.90,237.84 628.19,238.06 628.57,238.82 629.03,239.35 629.55,239.76 630.09,240.56 630.64,240.77 631.16,241.26 631.65,241.86 632.07,242.18 632.40,242.53 632.84,242.52 633.36,242.36 633.91,242.16 634.46,241.24 634.99,240.87 635.44,240.53 635.80,240.36 636.27,239.75 636.83,239.55 637.39,238.43 637.90,237.39 638.30,237.70 638.74,237.64 639.23,238.99 639.77,240.05 640.30,240.64 640.64,241.29 641.11,241.25 641.66,242.70 642.26,243.70 642.86,243.78 643.43,244.06 643.92,243.62 644.30,244.30 644.77,244.14 645.31,243.54 645.89,241.63 646.45,241.69 646.94,240.49 647.30,240.09 647.77,240.22 648.27,240.49 648.77,241.74 649.20,242.26 649.60,242.73 650.13,243.77 650.72,243.59 651.27,244.65 651.70,245.04 652.13,245.38 652.68,243.91 653.26,243.28 653.79,241.61 654.20,241.26 654.66,241.35 655.20,241.63 655.74,243.06 656.20,243.11 656.60,243.94 657.12,244.09 657.69,245.33 658.24,245.17 658.70,245.25 659.10,244.74 659.61,246.25 660.18,245.24 660.76,245.13 661.28,245.09 661.70,244.56 662.11,244.26 662.60,245.19 663.15,244.86 663.70,246.57 664.19,245.48 664.60,246.36 665.02,245.90 665.54,244.97 666.12,245.39 666.69,245.72 667.20,246.30 667.60,245.73 668.06,245.76 668.61,246.20 669.18,246.85 669.70,246.25 670.10,247.09 670.57,245.90 671.12,245.26 671.66,245.09 672.10,244.95 672.54,244.51 673.08,246.58 673.64,249.03 674.10,248.30 674.49,248.51 674.98,249.89 675.53,248.07 676.05,248.45 676.50,248.85 676.93,248.80 677.51,248.23 678.16,248.89 678.78,249.86 679.29,251.04 679.60,251.16" fill="none" stroke="#0000ff" stroke-width="0.8" stroke-linejoin="round"/>
<polyline points="547.50,226.30 547.71,226.35 547.99,226.42 548.35,226.51 548.76,226.61 549.23,226.72 549.74,226.85 550.29,226.98 550.86,227.12 551.44,227.26 552.04,227.41 552.63,227.55 553.21,227.70 553.78,227.84 554.31,227.97 554.81,228.10 555.26,228.21 555.66,228.31 556.00,228.40 556.38,228.51 556.80,228.63 557.25,228.77 557.72,228.92 558.22,229.08 558.72,229.24 559.24,229.41 559.76,229.57 560.28,229.73 560.78,229.88 561.28,230.02 561.75,230.14 562.20,230.25 562.62,230.34 563.00,230.40 563.33,230.44 563.71,230.47 564.14,230.50 564.60,230.52 565.10,230.54 565.62,230.55 566.16,230.56 566.71,230.57 567.27,230.57 567.83,230.57 568.38,230.57 568.92,230.56 569.44,230.56 569.93,230.55 570.39,230.54 570.81,230.53 571.18,230.51 571.50,230.50 571.90,230.48 572.35,230.44 572.83,230.40 573.35,230.35 573.88,230.29 574.42,230.23 574.96,230.17 575.49,230.10 576.01,230.03 576.50,229.96 576.95,229.89 577.36,229.82 577.71,229.76 578.00,229.70 578.46,229.59 578.95,229.46 579.46,229.31 579.96,229.14 580.45,228.96 580.91,228.75 581.33,228.53 581.70,228.30 582.09,227.97 582.58,227.49 583.14,226.91 583.72,226.29 584.30,225.65 584.84,225.06 585.32,224.56 585.70,224.20 586.11,223.86 586.59,223.50 587.10,223.13 587.63,222.78 588.14,222.46 588.61,222.19 589.00,222.00 589.35,221.88 589.79,221.79 590.28,221.71 590.80,221.63 591.31,221.56 591.81,221.48 592.24,221.40 592.60,221.30 593.00,221.13 593.47,220.90 593.99,220.63 594.53,220.33 595.06,220.03 595.56,219.74 596.00,219.50 596.33,219.31 596.75,219.06 597.24,218.76 597.77,218.44 598.32,218.11 598.87,217.79 599.39,217.50 599.87,217.26 600.28,217.08 600.60,217.00 601.08,217.02 601.62,217.17 602.17,217.42 602.71,217.75 603.20,218.12 603.60,218.50 604.02,219.06 604.53,219.89 605.10,220.88 605.67,221.89 606.18,222.81 606.60,223.50 607.01,224.13 607.52,224.89 608.08,225.71 608.65,226.51 609.17,227.23 609.60,227.80 609.98,228.28 610.47,228.87 611.02,229.52 611.58,230.16 612.13,230.75 612.62,231.21 613.00,231.50 613.42,231.64 613.90,231.66 614.43,231.61 614.98,231.52 615.51,231.44 616.00,231.40 616.34,231.41 616.79,231.43 617.32,231.47 617.91,231.52 618.52,231.53 619.12,231.58 619.69,231.51 620.19,231.52 620.61,231.47 620.90,231.38 621.53,230.54 622.00,228.99 622.40,228.10 622.82,227.08 623.38,226.25 623.95,225.18 624.40,225.10 624.84,225.15 625.38,226.04 625.93,226.96 626.40,228.01 626.80,229.07 627.32,230.66 627.89,232.36 628.44,234.25 628.90,234.82 629.29,235.23 629.78,235.31 630.34,235.46 630.91,235.23 631.44,235.30 631.90,235.50 632.27,235.35 632.75,235.68 633.31,235.60 633.89,236.17 634.48,235.94 635.01,236.44 635.47,236.13 635.80,235.86 636.34,235.24 636.88,233.80 637.39,232.47 637.80,231.76 638.24,232.01 638.80,232.46 639.36,234.22 639.80,234.87 640.23,235.94 640.76,237.41 641.31,237.98 641.80,239.29 642.18,239.79 642.68,239.31 643.26,239.04 643.85,239.51 644.38,239.05 644.80,239.24 645.21,239.13 645.73,237.89 646.29,238.14 646.85,237.16 647.33,237.20 647.70,237.61 648.20,237.34 648.76,238.25 649.30,239.15 649.70,240.01 650.17,240.62 650.69,241.28 651.20,241.19 651.58,240.93 652.11,241.01 652.70,240.05 653.26,239.70 653.70,240.18 654.13,239.75 654.68,240.12 655.26,241.49 655.79,241.47 656.20,240.82 656.65,241.66 657.18,243.02 657.72,243.43 658.20,242.15 658.59,242.51 659.11,242.34 659.70,241.92 660.30,240.70 660.82,241.88 661.20,241.52 661.67,241.60 662.17,241.55 662.67,242.65 663.10,243.23 663.51,243.08 664.05,243.06 664.64,242.42 665.19,242.86 665.60,242.60 666.04,242.01 666.53,242.92 667.07,244.11 667.60,243.98 667.94,245.08 668.42,244.04 668.99,244.42 669.60,244.57 670.21,243.56 670.78,244.86 671.26,244.07 671.60,243.87 672.13,244.46 672.67,244.85 673.16,245.97 673.60,248.15 673.99,247.18 674.51,246.84 675.07,246.78 675.62,246.72 676.10,245.79 676.49,246.24 677.03,246.73 677.64,247.46 678.27,247.29 678.85,248.45 679.31,247.50 679.60,247.56" fill="none" stroke="#ff0000" stroke-width="0.8" stroke-linejoin="round"/>
</g>
<rect x="547.50" y="202.90" width="132.10" height="63.40" fill="none" stroke="#7a7a7a" stroke-width="0.7"/>
<line x1="547.50" y1="266.30" x2="547.50" y2="265.40" stroke="#7a7a7a" stroke-width="0.6"/>
<line x1="547.50" y1="202.90" x2="547.50" y2="203.80" stroke="#7a7a7a" stroke-width="0.6"/>
<line x1="561.19" y1="266.30" x2="561.19" y2="265.40" stroke="#7a7a7a" stroke-width="0.6"/>
<line x1="561.19" y1="202.90" x2="561.19" y2="203.80" stroke="#7a7a7a" stroke-width="0.6"/>
<line x1="570.91" y1="266.30" x2="570.91" y2="265.40" stroke="#7a7a7a" stroke-width="0.6"/>
<line x1="570.91" y1="202.90" x2="570.91" y2="203.80" stroke="#7a7a7a" stroke-width="0.6"/>
<line x1="578.44" y1="266.30" x2="578.44" y2="265.40" stroke="#7a7a7a" stroke-width="0.6"/>
<line x1="578.44" y1="202.90" x2="578.44" y2="203.80" stroke="#7a7a7a" stroke-width="0.6"/>
<line x1="584.60" y1="266.30" x2="584.60" y2="265.40" stroke="#7a7a7a" stroke-width="0.6"/>
<line x1="584.60" y1="202.90" x2="584.60" y2="203.80" stroke="#7a7a7a" stroke-width="0.6"/>
<line x1="589.80" y1="266.30" x2="589.80" y2="265.40" stroke="#7a7a7a" stroke-width="0.6"/>
<line x1="589.80" y1="202.90" x2="589.80" y2="203.80" stroke="#7a7a7a" stroke-width="0.6"/>
<line x1="594.31" y1="266.30" x2="594.31" y2="265.40" stroke="#7a7a7a" stroke-width="0.6"/>
<line x1="594.31" y1="202.90" x2="594.31" y2="203.80" stroke="#7a7a7a" stroke-width="0.6"/>
<line x1="598.29" y1="266.30" x2="598.29" y2="265.40" stroke="#7a7a7a" stroke-width="0.6"/>
<line x1="598.29" y1="202.90" x2="598.29" y2="203.80" stroke="#7a7a7a" stroke-width="0.6"/>
<line x1="601.85" y1="266.30" x2="601.85" y2="264.86" stroke="#7a7a7a" stroke-width="0.6"/>
<line x1="601.85" y1="202.90" x2="601.85" y2="204.34" stroke="#7a7a7a" stroke-width="0.6"/>
<line x1="625.25" y1="266.30" x2="625.25" y2="265.40" stroke="#7a7a7a" stroke-width="0.6"/>
<line x1="625.25" y1="202.90" x2="625.25" y2="203.80" stroke="#7a7a7a" stroke-width="0.6"/>
<line x1="638.94" y1="266.30" x2="638.94" y2="265.40" stroke="#7a7a7a" stroke-width="0.6"/>
<line x1="638.94" y1="202.90" x2="638.94" y2="203.80" stroke="#7a7a7a" stroke-width="0.6"/>
<line x1="648.66" y1="266.30" x2="648.66" y2="265.40" stroke="#7a7a7a" stroke-width="0.6"/>
<line x1="648.66" y1="202.90" x2="648.66" y2="203.80" stroke="#7a7a7a" stroke-width="0.6"/>
<line x1="656.19" y1="266.30" x2="656.19" y2="265.40" stroke="#7a7a7a" stroke-width="0.6"/>
<line x1="656.19" y1="202.90" x2="656.19" y2="203.80" stroke="#7a7a7a" stroke-width="0.6"/>
<line x1="662.35" y1="266.30" x2="662.35" y2="265.40" stroke="#7a7a7a" stroke-width="0.6"/>
<line x1="662.35" y1="202.90" x2="662.35" y2="203.80" stroke="#7a7a7a" stroke-width="0.6"/>
<line x1="667.56" y1="266.30" x2="667.56" y2="265.40" stroke="#7a7a7a" stroke-width="0.6"/>
<line x1="667.56" y1="202.90" x2="667.56" y2="203.80" stroke="#7a7a7a" stroke-width="0.6"/>
<line x1="672.06" y1="266.30" x2="672.06" y2="265.40" stroke="#7a7a7a" stroke-width="0.6"/>
<line x1="672.06" y1="202.90" x2="672.06" y2="203.80" stroke="#7a7a7a" stroke-width="0.6"/>
<line x1="676.04" y1="266.30" x2="676.04" y2="265.40" stroke="#7a7a7a" stroke-width="0.6"/>
<line x1="676.04" y1="202.90" x2="676.04" y2="203.80" stroke="#7a7a7a" stroke-width="0.6"/>
<line x1="547.50" y1="255.73" x2="548.94" y2="255.73" stroke="#7a7a7a" stroke-width="0.6"/>
<line x1="679.60" y1="255.73" x2="678.16" y2="255.73" stroke="#7a7a7a" stroke-width="0.6"/>
<line x1="547.50" y1="245.17" x2="548.94" y2="245.17" stroke="#7a7a7a" stroke-width="0.6"/>
<line x1="679.60" y1="245.17" x2="678.16" y2="245.17" stroke="#7a7a7a" stroke-width="0.6"/>
<line x1="547.50" y1="234.60" x2="548.94" y2="234.60" stroke="#7a7a7a" stroke-width="0.6"/>
<line x1="679.60" y1="234.60" x2="678.16" y2="234.60" stroke="#7a7a7a" stroke-width="0.6"/>
<line x1="547.50" y1="224.03" x2="548.94" y2="224.03" stroke="#7a7a7a" stroke-width="0.6"/>
<line x1="679.60" y1="224.03" x2="678.16" y2="224.03" stroke="#7a7a7a" stroke-width="0.6"/>
<line x1="547.50" y1="213.47" x2="548.94" y2="213.47" stroke="#7a7a7a" stroke-width="0.6"/>
<line x1="679.60" y1="213.47" x2="678.16" y2="213.47" stroke="#7a7a7a" stroke-width="0.6"/>
<text x="544.90" y="239.20" text-anchor="end" class="tk">10<tspan class="sup" dy="-4.5">-5</tspan></text>
<text x="601.95" y="278.60" text-anchor="middle" class="tk">10<tspan class="sup" dy="-4.0">0</tspan></text>
<text x="679.70" y="278.60" text-anchor="middle" class="tk">10<tspan class="sup" dy="-4.0">1</tspan></text>
<text x="613.55" y="287.60" text-anchor="middle" class="pl">(l)</text>
<text transform="translate(529.20,234.60) rotate(-90)" text-anchor="middle" class="yl">PSD (m<tspan class="sup2" dy="-4.4">2</tspan><tspan dy="4.4">/s</tspan><tspan class="sup2" dy="-4.4">2</tspan><tspan dy="4.4">/cpd)</tspan></text>
<text transform="translate(613.55,299.30) scale(0.9,1)" text-anchor="middle" class="xl">Frequency (cpd)</text>
</svg>
</body></html>
